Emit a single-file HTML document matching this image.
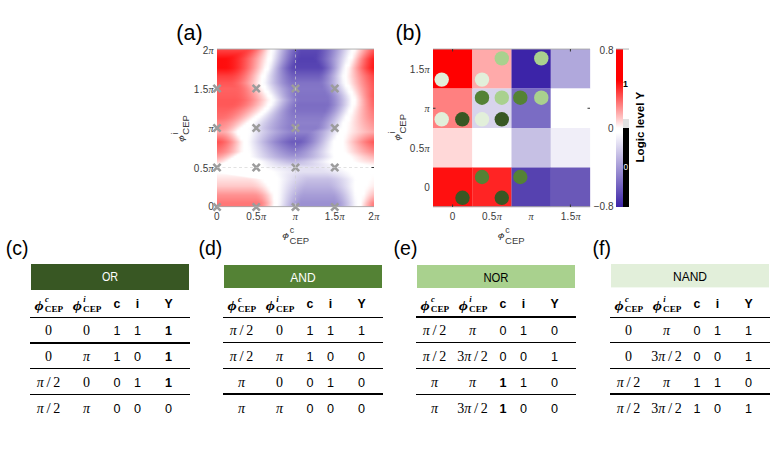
<!DOCTYPE html>
<html><head><meta charset="utf-8"><style>
html,body{margin:0;padding:0;background:#fff;}
body{width:777px;height:473px;position:relative;overflow:hidden;font-family:"Liberation Sans",sans-serif;}
#ha{position:absolute;left:217px;top:49px;width:157px;height:158px;}
#ha i{position:absolute;left:0;width:157px;display:block;}
svg{position:absolute;left:0;top:0;}
</style></head><body>
<div id="ha">
<i style="top:0px;height:1px;background:linear-gradient(90deg,#ff4646 0px,#ff4646 3px,#ff4646 6px,#ff4646 9px,#ff4646 12px,#ff4646 15px,#ff4646 18px,#ff4646 21px,#ff4646 24px,#ff4646 27px,#ff4646 30px,#ff4b4b 33px,#ff5757 36px,#ff6969 39px,#ff8383 42px,#ffa1a1 45px,#ffc3c3 48px,#ffe7e7 51px,#ffffff 54px,#f7f6fb 57px,#e0ddf1 60px,#cbc5e7 63px,#b6addd 66px,#a297d4 69px,#9083cc 72px,#7f71c5 75px,#7161be 78px,#6554b9 81px,#5b49b4 84px,#5b49b4 87px,#5b49b4 90px,#5b49b4 93px,#5b49b4 96px,#5b49b4 99px,#5e4cb6 102px,#6756ba 105px,#7161be 108px,#7d6ec4 111px,#8a7dc9 114px,#988cd0 117px,#a89ed7 120px,#b8b0df 123px,#c9c3e6 126px,#dbd7ef 129px,#eeecf7 132px,#ffffff 135px,#fffdfd 138px,#ffe0e0 141px,#ffc4c4 144px,#ffa8a8 147px,#ff8e8e 150px,#ff7676 153px,#ff6161 156px)"></i>
<i style="top:1px;height:1px;background:linear-gradient(90deg,#ff4040 0px,#ff4040 3px,#ff4040 6px,#ff4040 9px,#ff4040 12px,#ff4040 15px,#ff4040 18px,#ff4040 21px,#ff4040 24px,#ff4040 27px,#ff4343 30px,#ff4c4c 33px,#ff5b5b 36px,#ff7070 39px,#ff8a8a 42px,#ffa8a8 45px,#ffc8c8 48px,#ffebeb 51px,#ffffff 54px,#f5f4fb 57px,#dfdbf0 60px,#c9c3e6 63px,#b4abdd 66px,#a095d4 69px,#8e81cb 72px,#7e6fc4 75px,#6f5fbd 78px,#6352b8 81px,#5a48b4 84px,#5a48b4 87px,#5a48b4 90px,#5a48b4 93px,#5a48b4 96px,#5a48b4 99px,#5e4cb6 102px,#6756ba 105px,#7262be 108px,#7d6fc4 111px,#8b7eca 114px,#998ed1 117px,#a99fd8 120px,#bab2df 123px,#cbc5e7 126px,#ddd9f0 129px,#f0eef8 132px,#ffffff 135px,#fffafa 138px,#ffdcdc 141px,#ffbfbf 144px,#ffa3a3 147px,#ff8989 150px,#ff7070 153px,#ff5b5b 156px)"></i>
<i style="top:2px;height:1px;background:linear-gradient(90deg,#ff3a3a 0px,#ff3a3a 3px,#ff3a3a 6px,#ff3a3a 9px,#ff3a3a 12px,#ff3a3a 15px,#ff3a3a 18px,#ff3a3a 21px,#ff3a3a 24px,#ff3c3c 27px,#ff4343 30px,#ff4f4f 33px,#ff6161 36px,#ff7777 39px,#ff9191 42px,#ffaeae 45px,#ffcdcd 48px,#ffeeee 51px,#ffffff 54px,#f4f2fa 57px,#ddd9f0 60px,#c7c1e5 63px,#b2a9dc 66px,#9e93d3 69px,#8c7fcb 72px,#7c6dc3 75px,#6e5dbd 78px,#6250b7 81px,#5a47b4 84px,#5a47b4 87px,#5a47b4 90px,#5a47b4 93px,#5a47b4 96px,#5a47b4 99px,#5e4cb6 102px,#6856ba 105px,#7262bf 108px,#7e70c4 111px,#8c7fca 114px,#9b8fd1 117px,#aaa1d8 120px,#bbb4e0 123px,#cdc7e8 126px,#dfdcf0 129px,#f2f0f9 132px,#ffffff 135px,#fff6f6 138px,#ffd8d8 141px,#ffbaba 144px,#ff9d9d 147px,#ff8383 150px,#ff6a6a 153px,#ff5454 156px)"></i>
<i style="top:3px;height:1px;background:linear-gradient(90deg,#ff3434 0px,#ff3434 3px,#ff3434 6px,#ff3434 9px,#ff3434 12px,#ff3434 15px,#ff3434 18px,#ff3434 21px,#ff3535 24px,#ff3a3a 27px,#ff4545 30px,#ff5353 33px,#ff6666 36px,#ff7d7d 39px,#ff9797 42px,#ffb3b3 45px,#ffd2d2 48px,#fff1f1 51px,#ffffff 54px,#f2f1f9 57px,#dbd7ef 60px,#c5bfe5 63px,#b0a7db 66px,#9d91d2 69px,#8a7dca 72px,#7a6bc2 75px,#6c5cbc 78px,#604eb7 81px,#5946b3 84px,#5946b3 87px,#5946b3 90px,#5946b3 93px,#5946b3 96px,#5946b3 99px,#5f4cb6 102px,#6857ba 105px,#7363bf 108px,#7f71c5 111px,#8d80cb 114px,#9c91d2 117px,#aca3d9 120px,#bdb5e1 123px,#cfc9e9 126px,#e1def1 129px,#f4f3fa 132px,#ffffff 135px,#fff2f2 138px,#ffd3d3 141px,#ffb5b5 144px,#ff9898 147px,#ff7d7d 150px,#ff6464 153px,#ff4e4e 156px)"></i>
<i style="top:4px;height:1px;background:linear-gradient(90deg,#ff2e2e 0px,#ff2e2e 3px,#ff2e2e 6px,#ff2e2e 9px,#ff2e2e 12px,#ff2e2e 15px,#ff2e2e 18px,#ff2e2e 21px,#ff3232 24px,#ff3b3b 27px,#ff4747 30px,#ff5858 33px,#ff6c6c 36px,#ff8383 39px,#ff9d9d 42px,#ffb8b8 45px,#ffd6d6 48px,#fff4f4 51px,#ffffff 54px,#f0eff8 57px,#dad5ee 60px,#c4bde4 63px,#aea5da 66px,#9b8fd1 69px,#897bc9 72px,#7869c2 75px,#6a5abb 78px,#5f4db6 81px,#5845b3 84px,#5845b3 87px,#5845b3 90px,#5845b3 93px,#5845b3 96px,#5845b3 99px,#5f4db6 102px,#6857ba 105px,#7364bf 108px,#8072c5 111px,#8e81cb 114px,#9d92d2 117px,#ada4da 120px,#bfb7e2 123px,#d1cbea 126px,#e3e0f2 129px,#f6f5fb 132px,#ffffff 135px,#ffeeee 138px,#ffcece 141px,#ffafaf 144px,#ff9292 147px,#ff7676 150px,#ff5d5d 153px,#ff4747 156px)"></i>
<i style="top:5px;height:1px;background:linear-gradient(90deg,#ff2828 0px,#ff2828 3px,#ff2828 6px,#ff2828 9px,#ff2828 12px,#ff2828 15px,#ff2828 18px,#ff2b2b 21px,#ff3232 24px,#ff3d3d 27px,#ff4b4b 30px,#ff5d5d 33px,#ff7171 36px,#ff8888 39px,#ffa2a2 42px,#ffbdbd 45px,#ffd9d9 48px,#fff6f6 51px,#ffffff 54px,#efedf8 57px,#d8d4ed 60px,#c2bbe3 63px,#ada3d9 66px,#998dd0 69px,#8779c8 72px,#7767c1 75px,#6958ba 78px,#5d4bb5 81px,#5744b2 84px,#5744b2 87px,#5744b2 90px,#5744b2 93px,#5744b2 96px,#5744b2 99px,#5f4db6 102px,#6958ba 105px,#7464c0 108px,#8173c5 111px,#8f82cc 114px,#9e94d3 117px,#afa6da 120px,#c0b9e2 123px,#d3ceeb 126px,#e5e2f3 129px,#f8f7fc 132px,#ffffff 135px,#ffeaea 138px,#ffc9c9 141px,#ffaaaa 144px,#ff8c8c 147px,#ff7070 150px,#ff5757 153px,#ff4141 156px)"></i>
<i style="top:6px;height:1px;background:linear-gradient(90deg,#ff2222 0px,#ff2222 3px,#ff2222 6px,#ff2222 9px,#ff2222 12px,#ff2222 15px,#ff2424 18px,#ff2a2a 21px,#ff3333 24px,#ff3f3f 27px,#ff4f4f 30px,#ff6161 33px,#ff7676 36px,#ff8d8d 39px,#ffa6a6 42px,#ffc1c1 45px,#ffdcdc 48px,#fff8f8 51px,#ffffff 54px,#edebf7 57px,#d6d2ec 60px,#c0b9e2 63px,#aba1d9 66px,#978bd0 69px,#8577c7 72px,#7566c0 75px,#6756ba 78px,#5c49b4 81px,#5643b2 84px,#5643b2 87px,#5643b2 90px,#5643b2 93px,#5643b2 96px,#5744b2 99px,#5f4db6 102px,#6958bb 105px,#7565c0 108px,#8274c6 111px,#9084cc 114px,#a095d4 117px,#b1a8db 120px,#c2bbe3 123px,#d4d0ec 126px,#e7e5f4 129px,#fafafd 132px,#ffffff 135px,#ffe5e5 138px,#ffc4c4 141px,#ffa4a4 144px,#ff8585 147px,#ff6969 150px,#ff5050 153px,#ff3a3a 156px)"></i>
<i style="top:7px;height:1px;background:linear-gradient(90deg,#ff1c1c 0px,#ff1c1c 3px,#ff1c1c 6px,#ff1c1c 9px,#ff1c1c 12px,#ff1d1d 15px,#ff2222 18px,#ff2a2a 21px,#ff3535 24px,#ff4242 27px,#ff5353 30px,#ff6666 33px,#ff7b7b 36px,#ff9292 39px,#ffabab 42px,#ffc5c5 45px,#ffdfdf 48px,#fffafa 51px,#ffffff 54px,#ece9f6 57px,#d5d0ec 60px,#beb7e1 63px,#a99fd8 66px,#9589cf 69px,#8375c7 72px,#7364bf 75px,#6654b9 78px,#5a47b4 81px,#5542b2 84px,#5542b2 87px,#5542b2 90px,#5542b2 93px,#5542b2 96px,#5744b2 99px,#5f4db6 102px,#6a59bb 105px,#7566c0 108px,#8375c6 111px,#9185cd 114px,#a197d4 117px,#b2a9dc 120px,#c4bde4 123px,#d6d2ec 126px,#e9e7f5 129px,#fdfcfe 132px,#ffffff 135px,#ffe1e1 138px,#ffbfbf 141px,#ff9e9e 144px,#ff7f7f 147px,#ff6363 150px,#ff4949 153px,#ff3333 156px)"></i>
<i style="top:8px;height:1px;background:linear-gradient(90deg,#ff1616 0px,#ff1616 3px,#ff1616 6px,#ff1616 9px,#ff1717 12px,#ff1a1a 15px,#ff2121 18px,#ff2b2b 21px,#ff3737 24px,#ff4646 27px,#ff5757 30px,#ff6a6a 33px,#ff8080 36px,#ff9696 39px,#ffafaf 42px,#ffc8c8 45px,#ffe2e2 48px,#fffcfc 51px,#ffffff 54px,#eae8f5 57px,#d3ceeb 60px,#bcb5e1 63px,#a79dd7 66px,#9487ce 69px,#8273c6 72px,#7262be 75px,#6452b8 78px,#5946b3 81px,#5441b1 84px,#5441b1 87px,#5441b1 90px,#5441b1 93px,#5441b1 96px,#5744b2 99px,#604eb6 102px,#6a59bb 105px,#7667c1 108px,#8476c7 111px,#9386ce 114px,#a398d5 117px,#b4abdd 120px,#c6bfe5 123px,#d8d4ed 126px,#ece9f6 129px,#ffffff 132px,#ffffff 135px,#ffdcdc 138px,#ffb9b9 141px,#ff9898 144px,#ff7878 147px,#ff5c5c 150px,#ff4242 153px,#ff2d2d 156px)"></i>
<i style="top:9px;height:1px;background:linear-gradient(90deg,#ff1010 0px,#ff1010 3px,#ff1010 6px,#ff1010 9px,#ff1313 12px,#ff1919 15px,#ff2121 18px,#ff2c2c 21px,#ff3a3a 24px,#ff4949 27px,#ff5b5b 30px,#ff6f6f 33px,#ff8484 36px,#ff9b9b 39px,#ffb2b2 42px,#ffcbcb 45px,#ffe4e4 48px,#fffefe 51px,#ffffff 54px,#e8e6f5 57px,#d1ccea 60px,#bbb3e0 63px,#a59bd6 66px,#9285cd 69px,#8071c5 72px,#7060be 75px,#6251b7 78px,#5744b2 81px,#5340b1 84px,#5340b1 87px,#5340b1 90px,#5340b1 93px,#5340b1 96px,#5744b2 99px,#604eb6 102px,#6b5abb 105px,#7768c1 108px,#8577c7 111px,#9488ce 114px,#a49ad6 117px,#b5addd 120px,#c8c1e6 123px,#dad6ee 126px,#eeecf7 129px,#ffffff 132px,#fffbfb 135px,#ffd7d7 138px,#ffb3b3 141px,#ff9191 144px,#ff7272 147px,#ff5555 150px,#ff3b3b 153px,#ff2626 156px)"></i>
<i style="top:10px;height:1px;background:linear-gradient(90deg,#ff0d0d 0px,#ff0d0d 3px,#ff0d0d 6px,#ff0e0e 9px,#ff1212 12px,#ff1919 15px,#ff2222 18px,#ff2d2d 21px,#ff3b3b 24px,#ff4b4b 27px,#ff5d5d 30px,#ff7171 33px,#ff8686 36px,#ff9d9d 39px,#ffb5b5 42px,#ffcece 45px,#ffe7e7 48px,#ffffff 51px,#fefefe 54px,#e6e3f4 57px,#cfc9e9 60px,#b8b1df 63px,#a399d5 66px,#9083cc 69px,#7e6fc4 72px,#6e5ebd 75px,#614fb7 78px,#5642b2 81px,#5340b1 84px,#5340b1 87px,#5340b1 90px,#5340b1 93px,#5340b1 96px,#5643b2 99px,#604eb6 102px,#6a5abb 105px,#7768c1 108px,#8577c7 111px,#9488ce 114px,#a59bd6 117px,#b7aede 120px,#c9c3e6 123px,#dcd8ef 126px,#f0eef8 129px,#ffffff 132px,#fff6f6 135px,#ffd2d2 138px,#ffaeae 141px,#ff8d8d 144px,#ff6d6d 147px,#ff5050 150px,#ff3737 153px,#ff2222 156px)"></i>
<i style="top:11px;height:1px;background:linear-gradient(90deg,#ff0d0d 0px,#ff0d0d 3px,#ff0d0d 6px,#ff0e0e 9px,#ff1212 12px,#ff1919 15px,#ff2222 18px,#ff2e2e 21px,#ff3c3c 24px,#ff4c4c 27px,#ff5e5e 30px,#ff7272 33px,#ff8888 36px,#ff9f9f 39px,#ffb7b7 42px,#ffd0d0 45px,#ffe9e9 48px,#ffffff 51px,#fcfbfd 54px,#e4e1f3 57px,#ccc7e8 60px,#b6aede 63px,#a196d4 66px,#8d80cb 69px,#7b6dc3 72px,#6c5bbc 75px,#5f4db6 78px,#5441b1 81px,#5441b1 84px,#5441b1 87px,#5441b1 90px,#5441b1 93px,#5441b1 96px,#5542b1 99px,#5e4cb6 102px,#6958bb 105px,#7666c0 108px,#8476c7 111px,#9487ce 114px,#a59ad6 117px,#b7afde 120px,#cac4e7 123px,#dedaf0 126px,#f2f1f9 129px,#ffffff 132px,#fff2f2 135px,#ffcece 138px,#ffabab 141px,#ff8989 144px,#ff6a6a 147px,#ff4e4e 150px,#ff3636 153px,#ff2121 156px)"></i>
<i style="top:12px;height:1px;background:linear-gradient(90deg,#ff0d0d 0px,#ff0d0d 3px,#ff0d0d 6px,#ff0e0e 9px,#ff1212 12px,#ff1919 15px,#ff2222 18px,#ff2e2e 21px,#ff3c3c 24px,#ff4c4c 27px,#ff5f5f 30px,#ff7373 33px,#ff8989 36px,#ffa0a0 39px,#ffb8b8 42px,#ffd2d2 45px,#ffebeb 48px,#ffffff 51px,#f9f9fc 54px,#e1def1 57px,#cac4e7 60px,#b3abdc 63px,#9e93d3 66px,#8b7dca 69px,#796ac2 72px,#6a59bb 75px,#5d4bb5 78px,#5441b1 81px,#5441b1 84px,#5441b1 87px,#5441b1 90px,#5441b1 93px,#5441b1 96px,#5441b1 99px,#5d4ab5 102px,#6756ba 105px,#7465c0 108px,#8375c6 111px,#9387ce 114px,#a49ad6 117px,#b7afde 120px,#cbc5e7 123px,#dfdcf1 126px,#f4f3fa 129px,#ffffff 132px,#ffeded 135px,#ffcaca 138px,#ffa7a7 141px,#ff8686 144px,#ff6868 147px,#ff4c4c 150px,#ff3434 153px,#ff2020 156px)"></i>
<i style="top:13px;height:1px;background:linear-gradient(90deg,#ff0d0d 0px,#ff0d0d 3px,#ff0d0d 6px,#ff0e0e 9px,#ff1212 12px,#ff1919 15px,#ff2222 18px,#ff2e2e 21px,#ff3c3c 24px,#ff4d4d 27px,#ff6060 30px,#ff7474 33px,#ff8a8a 36px,#ffa2a2 39px,#ffbaba 42px,#ffd4d4 45px,#ffeded 48px,#ffffff 51px,#f7f6fb 54px,#dfdbf0 57px,#c7c1e6 60px,#b1a8db 63px,#9b90d2 66px,#887bc9 69px,#7767c1 72px,#6857ba 75px,#5b49b4 78px,#5542b1 81px,#5542b1 84px,#5542b1 87px,#5542b1 90px,#5542b1 93px,#5542b1 96px,#5542b1 99px,#5b49b4 102px,#6655b9 105px,#7363bf 108px,#8273c6 111px,#9286cd 114px,#a49ad6 117px,#b8afde 120px,#ccc6e8 123px,#e1def1 126px,#f7f6fb 129px,#ffffff 132px,#ffe9e9 135px,#ffc6c6 138px,#ffa4a4 141px,#ff8383 144px,#ff6565 147px,#ff4a4a 150px,#ff3333 153px,#ff1f1f 156px)"></i>
<i style="top:14px;height:1px;background:linear-gradient(90deg,#ff0d0d 0px,#ff0d0d 3px,#ff0d0d 6px,#ff0e0e 9px,#ff1212 12px,#ff1919 15px,#ff2222 18px,#ff2e2e 21px,#ff3d3d 24px,#ff4e4e 27px,#ff6161 30px,#ff7575 33px,#ff8c8c 36px,#ffa3a3 39px,#ffbcbc 42px,#ffd6d6 45px,#fff0f0 48px,#ffffff 51px,#f5f4fa 54px,#dcd8ef 57px,#c5bee4 60px,#aea5da 63px,#998dd0 66px,#8678c8 69px,#7565c0 72px,#6655b9 75px,#5a47b4 78px,#5643b2 81px,#5643b2 84px,#5643b2 87px,#5643b2 90px,#5643b2 93px,#5643b2 96px,#5643b2 99px,#5947b3 102px,#6453b8 105px,#7161be 108px,#8072c5 111px,#9185cd 114px,#a49ad5 117px,#b8b0df 120px,#cdc7e8 123px,#e3e0f2 126px,#f9f9fc 129px,#ffffff 132px,#ffe5e5 135px,#ffc2c2 138px,#ffa0a0 141px,#ff8080 144px,#ff6363 147px,#ff4949 150px,#ff3131 153px,#ff1e1e 156px)"></i>
<i style="top:15px;height:1px;background:linear-gradient(90deg,#ff0d0d 0px,#ff0d0d 3px,#ff0d0d 6px,#ff0e0e 9px,#ff1212 12px,#ff1919 15px,#ff2222 18px,#ff2f2f 21px,#ff3d3d 24px,#ff4e4e 27px,#ff6161 30px,#ff7676 33px,#ff8d8d 36px,#ffa5a5 39px,#ffbebe 42px,#ffd8d8 45px,#fff2f2 48px,#ffffff 51px,#f2f1f9 54px,#dad6ee 57px,#c2bbe3 60px,#aba2d9 63px,#968acf 66px,#8375c6 69px,#7262bf 72px,#6452b8 75px,#5846b3 78px,#5643b2 81px,#5643b2 84px,#5643b2 87px,#5643b2 90px,#5643b2 93px,#5643b2 96px,#5643b2 99px,#5845b3 102px,#6351b8 105px,#705fbe 108px,#7f70c5 111px,#9084cc 114px,#a399d5 117px,#b8b0df 120px,#cec9e9 123px,#e5e2f3 126px,#fcfcfe 129px,#ffffff 132px,#ffe0e0 135px,#ffbebe 138px,#ff9d9d 141px,#ff7e7e 144px,#ff6161 147px,#ff4747 150px,#ff3030 153px,#ff1d1d 156px)"></i>
<i style="top:16px;height:1px;background:linear-gradient(90deg,#ff0d0d 0px,#ff0d0d 3px,#ff0d0d 6px,#ff0e0e 9px,#ff1212 12px,#ff1919 15px,#ff2222 18px,#ff2f2f 21px,#ff3e3e 24px,#ff4f4f 27px,#ff6262 30px,#ff7777 33px,#ff8e8e 36px,#ffa7a7 39px,#ffc0c0 42px,#ffdada 45px,#fff4f4 48px,#ffffff 51px,#f0eef8 54px,#d7d3ed 57px,#bfb8e2 60px,#a89fd8 63px,#9387ce 66px,#8172c5 69px,#7060be 72px,#6250b7 75px,#5744b2 78px,#5744b2 81px,#5744b2 84px,#5744b2 87px,#5744b2 90px,#5744b2 93px,#5744b2 96px,#5744b2 99px,#5744b2 102px,#614fb7 105px,#6e5ebd 108px,#7d6fc4 111px,#8f83cc 114px,#a399d5 117px,#b9b1df 120px,#cfcae9 123px,#e7e4f4 126px,#ffffff 129px,#ffffff 132px,#ffdcdc 135px,#ffbaba 138px,#ff9a9a 141px,#ff7b7b 144px,#ff5e5e 147px,#ff4545 150px,#ff2f2f 153px,#ff1c1c 156px)"></i>
<i style="top:17px;height:1px;background:linear-gradient(90deg,#ff0d0d 0px,#ff0d0d 3px,#ff0d0d 6px,#ff0e0e 9px,#ff1212 12px,#ff1919 15px,#ff2323 18px,#ff2f2f 21px,#ff3e3e 24px,#ff5050 27px,#ff6363 30px,#ff7979 33px,#ff9090 36px,#ffa8a8 39px,#ffc2c2 42px,#ffdcdc 45px,#fff7f7 48px,#ffffff 51px,#edebf7 54px,#d4d0ec 57px,#bcb5e1 60px,#a69cd6 63px,#9184cd 66px,#7e70c4 69px,#6e5dbd 72px,#604eb7 75px,#5744b3 78px,#5744b3 81px,#5744b3 84px,#5744b3 87px,#5744b3 90px,#5744b3 93px,#5744b3 96px,#5744b3 99px,#5744b3 102px,#5f4db6 105px,#6c5bbc 108px,#7c6dc3 111px,#8e81cb 114px,#a398d5 117px,#b9b1df 120px,#d1cbea 123px,#e9e7f5 126px,#ffffff 129px,#fffafa 132px,#ffd8d8 135px,#ffb7b7 138px,#ff9696 141px,#ff7878 144px,#ff5c5c 147px,#ff4343 150px,#ff2d2d 153px,#ff1b1b 156px)"></i>
<i style="top:18px;height:1px;background:linear-gradient(90deg,#ff0d0d 0px,#ff0d0d 3px,#ff0d0d 6px,#ff0e0e 9px,#ff1212 12px,#ff1919 15px,#ff2323 18px,#ff2f2f 21px,#ff3f3f 24px,#ff5050 27px,#ff6464 30px,#ff7a7a 33px,#ff9191 36px,#ffaaaa 39px,#ffc4c4 42px,#ffdede 45px,#fff9f9 48px,#ffffff 51px,#ebe9f6 54px,#d2cdea 57px,#bab2df 60px,#a399d5 63px,#8e81cb 66px,#7c6dc3 69px,#6c5bbc 72px,#5f4cb6 75px,#5845b3 78px,#5845b3 81px,#5845b3 84px,#5845b3 87px,#5845b3 90px,#5845b3 93px,#5845b3 96px,#5845b3 99px,#5845b3 102px,#5d4bb5 105px,#6a59bb 108px,#7a6bc2 111px,#8d80cb 114px,#a298d5 117px,#b9b1df 120px,#d2cdeb 123px,#eceaf6 126px,#ffffff 129px,#fff6f6 132px,#ffd4d4 135px,#ffb3b3 138px,#ff9393 141px,#ff7676 144px,#ff5a5a 147px,#ff4242 150px,#ff2c2c 153px,#ff1a1a 156px)"></i>
<i style="top:19px;height:1px;background:linear-gradient(90deg,#ff1010 0px,#ff1010 3px,#ff1010 6px,#ff1111 9px,#ff1414 12px,#ff1b1b 15px,#ff2525 18px,#ff3232 21px,#ff4141 24px,#ff5252 27px,#ff6666 30px,#ff7c7c 33px,#ff9494 36px,#ffadad 39px,#ffc7c7 42px,#ffe1e1 45px,#fffcfc 48px,#ffffff 51px,#e8e6f5 54px,#cfcae9 57px,#b8b0de 60px,#a197d4 63px,#8d80cb 66px,#7b6cc3 69px,#6c5bbc 72px,#5f4db6 75px,#5a47b4 78px,#5a47b4 81px,#5a47b4 84px,#5a47b4 87px,#5a47b4 90px,#5a47b4 93px,#5a47b4 96px,#5a47b4 99px,#5a47b4 102px,#5e4bb5 105px,#6b5abb 108px,#7b6cc3 111px,#8e81cb 114px,#a399d5 117px,#bbb3e0 120px,#d4cfeb 123px,#eeecf7 126px,#ffffff 129px,#fff3f3 132px,#ffd2d2 135px,#ffb2b2 138px,#ff9393 141px,#ff7676 144px,#ff5b5b 147px,#ff4343 150px,#ff2e2e 153px,#ff1d1d 156px)"></i>
<i style="top:20px;height:1px;background:linear-gradient(90deg,#ff1616 0px,#ff1616 3px,#ff1616 6px,#ff1616 9px,#ff1a1a 12px,#ff2020 15px,#ff2929 18px,#ff3636 21px,#ff4545 24px,#ff5656 27px,#ff6a6a 30px,#ff8080 33px,#ff9898 36px,#ffb1b1 39px,#ffcbcb 42px,#ffe5e5 45px,#ffffff 48px,#fefefe 51px,#e5e2f3 54px,#cdc8e8 57px,#b7aede 60px,#a197d4 63px,#8e81cb 66px,#7c6ec3 69px,#6e5dbd 72px,#6150b7 75px,#5d4ab5 78px,#5d4ab5 81px,#5d4ab5 84px,#5d4ab5 87px,#5d4ab5 90px,#5d4ab5 93px,#5d4ab5 96px,#5d4ab5 99px,#5d4ab5 102px,#614fb7 105px,#6e5ebd 108px,#7e70c4 111px,#9185cd 114px,#a69cd7 117px,#beb6e1 120px,#d6d2ec 123px,#f0eef8 126px,#ffffff 129px,#fff1f1 132px,#ffd2d2 135px,#ffb3b3 138px,#ff9595 141px,#ff7979 144px,#ff6060 147px,#ff4848 150px,#ff3434 153px,#ff2323 156px)"></i>
<i style="top:21px;height:1px;background:linear-gradient(90deg,#ff1c1c 0px,#ff1c1c 3px,#ff1c1c 6px,#ff1c1c 9px,#ff1f1f 12px,#ff2525 15px,#ff2e2e 18px,#ff3a3a 21px,#ff4949 24px,#ff5a5a 27px,#ff6e6e 30px,#ff8484 33px,#ff9b9b 36px,#ffb4b4 39px,#ffcfcf 42px,#ffe9e9 45px,#ffffff 48px,#fafafd 51px,#e3e0f2 54px,#ccc6e8 57px,#b6adde 60px,#a197d4 63px,#8e82cc 66px,#7e6fc4 69px,#705fbe 72px,#6452b8 75px,#5f4db6 78px,#5f4db6 81px,#5f4db6 84px,#5f4db6 87px,#5f4db6 90px,#5f4db6 93px,#5f4db6 96px,#5f4db6 99px,#5f4db6 102px,#6553b9 105px,#7262be 108px,#8273c6 111px,#9488ce 114px,#a9a0d8 117px,#c0b9e2 120px,#d9d4ed 123px,#f2f0f9 126px,#ffffff 129px,#fff0f0 132px,#ffd2d2 135px,#ffb4b4 138px,#ff9797 141px,#ff7d7d 144px,#ff6464 147px,#ff4d4d 150px,#ff3939 153px,#ff2828 156px)"></i>
<i style="top:22px;height:1px;background:linear-gradient(90deg,#ff2222 0px,#ff2222 3px,#ff2222 6px,#ff2222 9px,#ff2424 12px,#ff2a2a 15px,#ff3232 18px,#ff3e3e 21px,#ff4d4d 24px,#ff5e5e 27px,#ff7272 30px,#ff8888 33px,#ff9f9f 36px,#ffb8b8 39px,#ffd2d2 42px,#ffeded 45px,#ffffff 48px,#f7f6fb 51px,#e0ddf1 54px,#cac4e7 57px,#b5addd 60px,#a197d4 63px,#8f83cc 66px,#7f71c5 69px,#7262be 72px,#6655b9 75px,#6251b7 78px,#6251b7 81px,#6251b7 84px,#6251b7 87px,#6251b7 90px,#6251b7 93px,#6251b7 96px,#6251b7 99px,#6251b7 102px,#6857ba 105px,#7566c0 108px,#8577c7 111px,#978cd0 114px,#aca3d9 117px,#c3bce4 120px,#dbd7ee 123px,#f4f2fa 126px,#ffffff 129px,#ffefef 132px,#ffd2d2 135px,#ffb5b5 138px,#ff9a9a 141px,#ff8080 144px,#ff6868 147px,#ff5252 150px,#ff3f3f 153px,#ff2e2e 156px)"></i>
<i style="top:23px;height:1px;background:linear-gradient(90deg,#ff2828 0px,#ff2828 3px,#ff2828 6px,#ff2828 9px,#ff2a2a 12px,#ff2f2f 15px,#ff3737 18px,#ff4242 21px,#ff5151 24px,#ff6262 27px,#ff7676 30px,#ff8c8c 33px,#ffa3a3 36px,#ffbcbc 39px,#ffd6d6 42px,#fff1f1 45px,#ffffff 48px,#f4f3fa 51px,#dedaf0 54px,#c9c3e6 57px,#b4acdd 60px,#a197d4 63px,#9084cc 66px,#8173c5 69px,#7464bf 72px,#6958ba 75px,#6554b9 78px,#6554b9 81px,#6554b9 84px,#6554b9 87px,#6554b9 90px,#6554b9 93px,#6554b9 96px,#6554b9 99px,#6554b9 102px,#6c5bbc 105px,#7869c2 108px,#887bc9 111px,#9a8fd1 114px,#afa6da 117px,#c5bfe5 120px,#ddd9ef 123px,#f5f4fb 126px,#ffffff 129px,#ffeeee 132px,#ffd2d2 135px,#ffb6b6 138px,#ff9c9c 141px,#ff8383 144px,#ff6c6c 147px,#ff5757 150px,#ff4444 153px,#ff3434 156px)"></i>
<i style="top:24px;height:1px;background:linear-gradient(90deg,#ff2e2e 0px,#ff2e2e 3px,#ff2e2e 6px,#ff2e2e 9px,#ff2f2f 12px,#ff3434 15px,#ff3c3c 18px,#ff4747 21px,#ff5555 24px,#ff6666 27px,#ff7a7a 30px,#ff8f8f 33px,#ffa7a7 36px,#ffc0c0 39px,#ffdada 42px,#fff5f5 45px,#ffffff 48px,#f1f0f9 51px,#dcd8ef 54px,#c7c1e6 57px,#b4abdd 60px,#a297d4 63px,#9185cd 66px,#8274c6 69px,#7666c0 72px,#6b5bbc 75px,#6857ba 78px,#6857ba 81px,#6857ba 84px,#6857ba 87px,#6857ba 90px,#6857ba 93px,#6857ba 96px,#6857ba 99px,#6857ba 102px,#6f5fbd 105px,#7c6dc3 108px,#8b7eca 111px,#9e93d3 114px,#b2a9dc 117px,#c8c2e6 120px,#dfdcf0 123px,#f7f6fb 126px,#ffffff 129px,#ffeded 132px,#ffd2d2 135px,#ffb7b7 138px,#ff9e9e 141px,#ff8686 144px,#ff7070 147px,#ff5c5c 150px,#ff4949 153px,#ff3a3a 156px)"></i>
<i style="top:25px;height:1px;background:linear-gradient(90deg,#ff3434 0px,#ff3434 3px,#ff3434 6px,#ff3434 9px,#ff3535 12px,#ff3939 15px,#ff4040 18px,#ff4b4b 21px,#ff5959 24px,#ff6a6a 27px,#ff7d7d 30px,#ff9393 33px,#ffabab 36px,#ffc4c4 39px,#ffdede 42px,#fff9f9 45px,#ffffff 48px,#efedf8 51px,#dad6ee 54px,#c6c0e5 57px,#b4abdd 60px,#a298d5 63px,#9286cd 66px,#8476c7 69px,#7869c1 72px,#6e5ebd 75px,#6b5abb 78px,#6b5abb 81px,#6b5abb 84px,#6b5abb 87px,#6b5abb 90px,#6b5abb 93px,#6b5abb 96px,#6b5abb 99px,#6b5abb 102px,#7263bf 105px,#7f71c5 108px,#8f82cc 111px,#a196d4 114px,#b5acdd 117px,#cac4e7 120px,#e1def1 123px,#f9f8fc 126px,#ffffff 129px,#ffecec 132px,#ffd2d2 135px,#ffb9b9 138px,#ffa0a0 141px,#ff8989 144px,#ff7474 147px,#ff6060 150px,#ff4f4f 153px,#ff3f3f 156px)"></i>
<i style="top:26px;height:1px;background:linear-gradient(90deg,#ff3a3a 0px,#ff3a3a 3px,#ff3a3a 6px,#ff3a3a 9px,#ff3b3b 12px,#ff3e3e 15px,#ff4545 18px,#ff4f4f 21px,#ff5d5d 24px,#ff6e6e 27px,#ff8181 30px,#ff9797 33px,#ffafaf 36px,#ffc8c8 39px,#ffe2e2 42px,#fffdfd 45px,#ffffff 48px,#eceaf6 51px,#d9d4ed 54px,#c5bfe5 57px,#b3abdc 60px,#a398d5 63px,#9387ce 66px,#8678c8 69px,#7a6bc2 72px,#7060be 75px,#6e5dbd 78px,#6e5dbd 81px,#6e5dbd 84px,#6e5dbd 87px,#6e5dbd 90px,#6e5dbd 93px,#6e5dbd 96px,#6e5dbd 99px,#6e5dbd 102px,#7666c0 105px,#8374c6 108px,#9286cd 111px,#a499d5 114px,#b7afde 117px,#cdc7e8 120px,#e3e0f2 123px,#fafafd 126px,#ffffff 129px,#ffebeb 132px,#ffd2d2 135px,#ffbaba 138px,#ffa2a2 141px,#ff8c8c 144px,#ff7878 147px,#ff6565 150px,#ff5454 153px,#ff4545 156px)"></i>
<i style="top:27px;height:1px;background:linear-gradient(90deg,#ff3f3f 0px,#ff3f3f 3px,#ff3f3f 6px,#ff3f3f 9px,#ff3f3f 12px,#ff4242 15px,#ff4949 18px,#ff5353 21px,#ff6161 24px,#ff7171 27px,#ff8585 30px,#ff9a9a 33px,#ffb2b2 36px,#ffcbcb 39px,#ffe5e5 42px,#ffffff 45px,#fefeff 48px,#ebe8f6 51px,#d7d3ed 54px,#c5bee4 57px,#b3abdc 60px,#a399d5 63px,#9488ce 66px,#877ac8 69px,#7c6dc3 72px,#7363bf 75px,#7060be 78px,#7060be 81px,#7060be 84px,#7060be 87px,#7060be 90px,#7060be 93px,#7060be 96px,#7060be 99px,#7060be 102px,#7869c2 105px,#8577c7 108px,#9488ce 111px,#a59bd6 114px,#b9b1df 117px,#cec8e9 120px,#e4e1f3 123px,#fbfafd 126px,#ffffff 129px,#ffebeb 132px,#ffd3d3 135px,#ffbbbb 138px,#ffa4a4 141px,#ff8f8f 144px,#ff7a7a 147px,#ff6868 150px,#ff5757 153px,#ff4848 156px)"></i>
<i style="top:28px;height:1px;background:linear-gradient(90deg,#ff4242 0px,#ff4242 3px,#ff4242 6px,#ff4242 9px,#ff4343 12px,#ff4646 15px,#ff4c4c 18px,#ff5656 21px,#ff6464 24px,#ff7474 27px,#ff8787 30px,#ff9d9d 33px,#ffb4b4 36px,#ffcdcd 39px,#ffe7e7 42px,#ffffff 45px,#fdfdfe 48px,#eae7f5 51px,#d7d2ed 54px,#c5bee4 57px,#b3abdd 60px,#a499d5 63px,#9589cf 66px,#887bc9 69px,#7e6fc4 72px,#7565c0 75px,#7363bf 78px,#7363bf 81px,#7363bf 84px,#7363bf 87px,#7363bf 90px,#7363bf 93px,#7363bf 96px,#7363bf 99px,#7363bf 102px,#7a6bc2 105px,#8679c8 108px,#9589cf 111px,#a69cd6 114px,#b9b1df 117px,#cec8e8 120px,#e3e0f2 123px,#faf9fd 126px,#ffffff 129px,#ffecec 132px,#ffd4d4 135px,#ffbdbd 138px,#ffa6a6 141px,#ff9191 144px,#ff7d7d 147px,#ff6a6a 150px,#ff5959 153px,#ff4b4b 156px)"></i>
<i style="top:29px;height:1px;background:linear-gradient(90deg,#ff4646 0px,#ff4646 3px,#ff4646 6px,#ff4646 9px,#ff4646 12px,#ff4949 15px,#ff4f4f 18px,#ff5959 21px,#ff6767 24px,#ff7777 27px,#ff8a8a 30px,#ffa0a0 33px,#ffb7b7 36px,#ffd0d0 39px,#ffeaea 42px,#ffffff 45px,#fcfbfd 48px,#e9e6f5 51px,#d6d2ec 54px,#c4bee4 57px,#b4abdd 60px,#a49ad6 63px,#968acf 66px,#8a7cc9 69px,#7f71c5 72px,#7767c1 75px,#7566c0 78px,#7566c0 81px,#7566c0 84px,#7566c0 87px,#7566c0 90px,#7566c0 93px,#7566c0 96px,#7566c0 99px,#7566c0 102px,#7c6dc3 105px,#887bc9 108px,#968acf 111px,#a79dd7 114px,#b9b1df 117px,#cdc8e8 120px,#e3e0f2 123px,#f9f8fc 126px,#ffffff 129px,#ffeeee 132px,#ffd6d6 135px,#ffbfbf 138px,#ffa8a8 141px,#ff9393 144px,#ff7f7f 147px,#ff6c6c 150px,#ff5b5b 153px,#ff4d4d 156px)"></i>
<i style="top:30px;height:1px;background:linear-gradient(90deg,#ff4949 0px,#ff4949 3px,#ff4949 6px,#ff4949 9px,#ff4949 12px,#ff4c4c 15px,#ff5353 18px,#ff5d5d 21px,#ff6a6a 24px,#ff7a7a 27px,#ff8d8d 30px,#ffa2a2 33px,#ffb9b9 36px,#ffd2d2 39px,#ffecec 42px,#ffffff 45px,#fafafd 48px,#e8e5f4 51px,#d6d1ec 54px,#c4bee4 57px,#b4abdd 60px,#a59bd6 63px,#978bd0 66px,#8b7eca 69px,#8173c5 72px,#7869c2 75px,#7869c1 78px,#7869c1 81px,#7869c1 84px,#7869c1 87px,#7869c1 90px,#7869c1 93px,#7869c1 96px,#7869c1 99px,#7869c1 102px,#7e70c4 105px,#8a7cc9 108px,#978cd0 111px,#a89ed7 114px,#bab2df 117px,#cdc8e8 120px,#e2dff2 123px,#f8f7fc 126px,#ffffff 129px,#ffefef 132px,#ffd7d7 135px,#ffc0c0 138px,#ffaaaa 141px,#ff9494 144px,#ff8181 147px,#ff6e6e 150px,#ff5e5e 153px,#ff4f4f 156px)"></i>
<i style="top:31px;height:1px;background:linear-gradient(90deg,#ff4d4d 0px,#ff4d4d 3px,#ff4d4d 6px,#ff4d4d 9px,#ff4d4d 12px,#ff5050 15px,#ff5656 18px,#ff6060 21px,#ff6d6d 24px,#ff7d7d 27px,#ff9090 30px,#ffa5a5 33px,#ffbcbc 36px,#ffd4d4 39px,#ffeeee 42px,#ffffff 45px,#f9f8fc 48px,#e7e4f4 51px,#d5d1ec 54px,#c4bee4 57px,#b4acdd 60px,#a59bd6 63px,#988dd0 66px,#8c80cb 69px,#8374c6 72px,#7a6cc3 75px,#7a6bc2 78px,#7a6bc2 81px,#7a6bc2 84px,#7a6bc2 87px,#7a6bc2 90px,#7a6bc2 93px,#7a6bc2 96px,#7a6bc2 99px,#7a6bc2 102px,#8072c5 105px,#8b7eca 108px,#998dd0 111px,#a89fd7 114px,#bab2e0 117px,#cdc8e8 120px,#e2def2 123px,#f7f6fb 126px,#ffffff 129px,#fff0f0 132px,#ffd9d9 135px,#ffc2c2 138px,#ffacac 141px,#ff9696 144px,#ff8383 147px,#ff7070 150px,#ff6060 153px,#ff5151 156px)"></i>
<i style="top:32px;height:1px;background:linear-gradient(90deg,#ff5050 0px,#ff5050 3px,#ff5050 6px,#ff5050 9px,#ff5050 12px,#ff5353 15px,#ff5959 18px,#ff6363 21px,#ff7070 24px,#ff8080 27px,#ff9393 30px,#ffa8a8 33px,#ffbebe 36px,#ffd7d7 39px,#fff0f0 42px,#ffffff 45px,#f8f7fc 48px,#e6e3f4 51px,#d5d0ec 54px,#c4bee4 57px,#b5acdd 60px,#a69cd6 63px,#998ed1 66px,#8e81cb 69px,#8476c7 72px,#7d6ec4 75px,#7d6ec4 78px,#7d6ec4 81px,#7d6ec4 84px,#7d6ec4 87px,#7d6ec4 90px,#7d6ec4 93px,#7d6ec4 96px,#7d6ec4 99px,#7d6ec4 102px,#8274c6 105px,#8d80cb 108px,#9a8fd1 111px,#a9a0d8 114px,#bbb3e0 117px,#cdc8e8 120px,#e1def1 123px,#f6f5fb 126px,#ffffff 129px,#fff2f2 132px,#ffdada 135px,#ffc3c3 138px,#ffadad 141px,#ff9898 144px,#ff8585 147px,#ff7272 150px,#ff6262 153px,#ff5353 156px)"></i>
<i style="top:33px;height:1px;background:linear-gradient(90deg,#ff5454 0px,#ff5454 3px,#ff5454 6px,#ff5454 9px,#ff5454 12px,#ff5656 15px,#ff5c5c 18px,#ff6666 21px,#ff7373 24px,#ff8383 27px,#ff9595 30px,#ffaaaa 33px,#ffc1c1 36px,#ffd9d9 39px,#fff2f2 42px,#ffffff 45px,#f7f6fb 48px,#e5e3f3 51px,#d4d0ec 54px,#c4bee4 57px,#b5addd 60px,#a79dd7 63px,#9a8fd1 66px,#8f83cc 69px,#8678c8 72px,#7f71c5 75px,#7f71c5 78px,#7f71c5 81px,#7f71c5 84px,#7f71c5 87px,#7f71c5 90px,#7f71c5 93px,#7f71c5 96px,#7f71c5 99px,#7f71c5 102px,#8476c7 105px,#8e82cc 108px,#9b90d1 111px,#aaa1d8 114px,#bbb3e0 117px,#cdc8e8 120px,#e1def1 123px,#f5f4fb 126px,#ffffff 129px,#fff3f3 132px,#ffdcdc 135px,#ffc5c5 138px,#ffafaf 141px,#ff9a9a 144px,#ff8787 147px,#ff7474 150px,#ff6464 153px,#ff5555 156px)"></i>
<i style="top:34px;height:1px;background:linear-gradient(90deg,#ff5656 0px,#ff5656 3px,#ff5656 6px,#ff5656 9px,#ff5656 12px,#ff5858 15px,#ff5e5e 18px,#ff6767 21px,#ff7373 24px,#ff8383 27px,#ff9595 30px,#ffaaaa 33px,#ffc0c0 36px,#ffd8d8 39px,#fff1f1 42px,#ffffff 45px,#f8f7fc 48px,#e6e4f4 51px,#d6d1ec 54px,#c6bfe5 57px,#b7afde 60px,#a99fd8 63px,#9c91d2 66px,#9185cd 69px,#887bc9 72px,#8173c5 75px,#8173c5 78px,#8173c5 81px,#8173c5 84px,#8173c5 87px,#8173c5 90px,#8173c5 93px,#8173c5 96px,#8173c5 99px,#8173c5 102px,#8477c7 105px,#8f82cc 108px,#9b90d1 111px,#aaa0d8 114px,#bab2e0 117px,#ccc6e8 120px,#dfdcf1 123px,#f3f2fa 126px,#ffffff 129px,#fff5f5 132px,#ffdede 135px,#ffc7c7 138px,#ffb1b1 141px,#ff9c9c 144px,#ff8888 147px,#ff7676 150px,#ff6666 153px,#ff5757 156px)"></i>
<i style="top:35px;height:1px;background:linear-gradient(90deg,#ff5858 0px,#ff5858 3px,#ff5858 6px,#ff5858 9px,#ff5858 12px,#ff5959 15px,#ff5e5e 18px,#ff6666 21px,#ff7171 24px,#ff8080 27px,#ff9292 30px,#ffa6a6 33px,#ffbcbc 36px,#ffd4d4 39px,#ffeded 42px,#ffffff 45px,#faf9fd 48px,#e9e7f5 51px,#d9d4ed 54px,#c9c3e6 57px,#bab2df 60px,#aca3d9 63px,#9f95d3 66px,#9488ce 69px,#8b7eca 72px,#8375c6 75px,#8273c6 78px,#8273c6 81px,#8273c6 84px,#8273c6 87px,#8273c6 90px,#8273c6 93px,#8273c6 96px,#8273c6 99px,#8273c6 102px,#8476c7 105px,#8d80cb 108px,#998ed1 111px,#a79dd7 114px,#b7afde 117px,#c9c3e6 120px,#dcd8ef 123px,#f0eef8 126px,#ffffff 129px,#fff9f9 132px,#ffe1e1 135px,#ffcaca 138px,#ffb4b4 141px,#ff9e9e 144px,#ff8a8a 147px,#ff7878 150px,#ff6767 153px,#ff5858 156px)"></i>
<i style="top:36px;height:1px;background:linear-gradient(90deg,#ff5a5a 0px,#ff5a5a 3px,#ff5a5a 6px,#ff5a5a 9px,#ff5a5a 12px,#ff5b5b 15px,#ff5e5e 18px,#ff6565 21px,#ff6f6f 24px,#ff7d7d 27px,#ff8e8e 30px,#ffa2a2 33px,#ffb9b9 36px,#ffd0d0 39px,#ffe9e9 42px,#ffffff 45px,#fcfcfe 48px,#eceaf6 51px,#dbd7ef 54px,#ccc6e8 57px,#bdb5e1 60px,#afa6da 63px,#a298d5 66px,#978bd0 69px,#8d81cb 72px,#8578c7 75px,#8274c6 78px,#8274c6 81px,#8274c6 84px,#8274c6 87px,#8274c6 90px,#8274c6 93px,#8274c6 96px,#8274c6 99px,#8274c6 102px,#8375c6 105px,#8c7fca 108px,#988cd0 111px,#a59bd6 114px,#b5addd 117px,#c6c0e5 120px,#d9d5ee 123px,#edebf7 126px,#ffffff 129px,#fffdfd 132px,#ffe5e5 135px,#ffcdcd 138px,#ffb7b7 141px,#ffa1a1 144px,#ff8c8c 147px,#ff7a7a 150px,#ff6969 153px,#ff5a5a 156px)"></i>
<i style="top:37px;height:1px;background:linear-gradient(90deg,#ff5c5c 0px,#ff5c5c 3px,#ff5c5c 6px,#ff5c5c 9px,#ff5c5c 12px,#ff5c5c 15px,#ff5e5e 18px,#ff6464 21px,#ff6d6d 24px,#ff7b7b 27px,#ff8b8b 30px,#ff9f9f 33px,#ffb5b5 36px,#ffcdcd 39px,#ffe6e6 42px,#ffffff 45px,#ffffff 48px,#eeedf7 51px,#dedbf0 54px,#cfc9e9 57px,#c0b9e2 60px,#b2a9dc 63px,#a59bd6 66px,#9a8ed1 69px,#9083cc 72px,#887ac9 75px,#8375c6 78px,#8375c6 81px,#8375c6 84px,#8375c6 87px,#8375c6 90px,#8375c6 93px,#8375c6 96px,#8375c6 99px,#8375c6 102px,#8375c6 105px,#8b7eca 108px,#968acf 111px,#a399d5 114px,#b3aadc 117px,#c4bde4 120px,#d6d1ec 123px,#e9e7f5 126px,#fdfdfe 129px,#ffffff 132px,#ffe9e9 135px,#ffd1d1 138px,#ffb9b9 141px,#ffa3a3 144px,#ff8e8e 147px,#ff7b7b 150px,#ff6a6a 153px,#ff5b5b 156px)"></i>
<i style="top:38px;height:1px;background:linear-gradient(90deg,#ff5f5f 0px,#ff5f5f 3px,#ff5f5f 6px,#ff5f5f 9px,#ff5f5f 12px,#ff5f5f 15px,#ff5f5f 18px,#ff6464 21px,#ff6c6c 24px,#ff7878 27px,#ff8888 30px,#ff9b9b 33px,#ffb1b1 36px,#ffc9c9 39px,#ffe2e2 42px,#fffcfc 45px,#ffffff 48px,#f1eff9 51px,#e1def1 54px,#d1ccea 57px,#c3bce3 60px,#b5addd 63px,#a89ed7 66px,#9d92d2 69px,#9386ce 72px,#8a7dca 75px,#8375c7 78px,#8375c7 81px,#8375c7 84px,#8375c7 87px,#8375c7 90px,#8375c7 93px,#8375c7 96px,#8375c7 99px,#8375c7 102px,#8375c7 105px,#8a7dc9 108px,#9488ce 111px,#a197d4 114px,#b0a7db 117px,#c1bae3 120px,#d3ceeb 123px,#e6e4f4 126px,#faf9fd 129px,#ffffff 132px,#ffecec 135px,#ffd4d4 138px,#ffbcbc 141px,#ffa6a6 144px,#ff9090 147px,#ff7d7d 150px,#ff6b6b 153px,#ff5c5c 156px)"></i>
<i style="top:39px;height:1px;background:linear-gradient(90deg,#ff6161 0px,#ff6161 3px,#ff6161 6px,#ff6161 9px,#ff6161 12px,#ff6161 15px,#ff6161 18px,#ff6464 21px,#ff6b6b 24px,#ff7676 27px,#ff8585 30px,#ff9898 33px,#ffadad 36px,#ffc5c5 39px,#ffdede 42px,#fff8f8 45px,#ffffff 48px,#f3f2fa 51px,#e4e0f2 54px,#d4cfeb 57px,#c6bfe5 60px,#b8b0df 63px,#aba2d9 66px,#9f95d3 69px,#9589cf 72px,#8c80cb 75px,#8577c7 78px,#8476c7 81px,#8476c7 84px,#8476c7 87px,#8476c7 90px,#8476c7 93px,#8476c7 96px,#8476c7 99px,#8476c7 102px,#8476c7 105px,#897bc9 108px,#9387ce 111px,#9f95d3 114px,#aea5da 117px,#beb7e2 120px,#d0cbea 123px,#e3e0f2 126px,#f7f6fb 129px,#ffffff 132px,#fff0f0 135px,#ffd7d7 138px,#ffbfbf 141px,#ffa8a8 144px,#ff9292 147px,#ff7f7f 150px,#ff6d6d 153px,#ff5d5d 156px)"></i>
<i style="top:40px;height:1px;background:linear-gradient(90deg,#ff6161 0px,#ff6161 3px,#ff6161 6px,#ff6161 9px,#ff6161 12px,#ff6161 15px,#ff6161 18px,#ff6363 21px,#ff6a6a 24px,#ff7575 27px,#ff8383 30px,#ff9595 33px,#ffaaaa 36px,#ffc1c1 39px,#ffd9d9 42px,#fff3f3 45px,#ffffff 48px,#f6f5fb 51px,#e6e4f4 54px,#d7d2ed 57px,#c8c2e6 60px,#bab2e0 63px,#ada4da 66px,#a197d4 69px,#978bcf 72px,#8e81cb 75px,#8679c8 78px,#8476c7 81px,#8476c7 84px,#8476c7 87px,#8476c7 90px,#8476c7 93px,#8476c7 96px,#8476c7 99px,#8476c7 102px,#8476c7 105px,#877ac8 108px,#9185cd 111px,#9d92d2 114px,#aca2d9 117px,#bcb4e0 120px,#cdc8e8 123px,#e0dcf1 126px,#f3f2fa 129px,#ffffff 132px,#fff4f4 135px,#ffdbdb 138px,#ffc2c2 141px,#ffaaaa 144px,#ff9494 147px,#ff8080 150px,#ff6e6e 153px,#ff5e5e 156px)"></i>
<i style="top:41px;height:1px;background:linear-gradient(90deg,#ff6060 0px,#ff6060 3px,#ff6060 6px,#ff6060 9px,#ff6060 12px,#ff6060 15px,#ff6161 18px,#ff6363 21px,#ff6969 24px,#ff7373 27px,#ff8181 30px,#ff9292 33px,#ffa6a6 36px,#ffbdbd 39px,#ffd4d4 42px,#ffeded 45px,#ffffff 48px,#faf9fd 51px,#eae7f5 54px,#dad6ee 57px,#cac4e7 60px,#bcb4e0 63px,#aea5da 66px,#a298d5 69px,#978cd0 72px,#8e81cb 75px,#8678c8 78px,#8375c7 81px,#8375c7 84px,#8375c7 87px,#8375c7 90px,#8375c7 93px,#8375c7 96px,#8375c7 99px,#8375c7 102px,#8375c7 105px,#8578c8 108px,#8f82cc 111px,#9b8fd1 114px,#a99fd8 117px,#b9b1df 120px,#cac4e7 123px,#ddd9ef 126px,#f0eef8 129px,#ffffff 132px,#fff8f8 135px,#ffdede 138px,#ffc5c5 141px,#ffacac 144px,#ff9595 147px,#ff8080 150px,#ff6e6e 153px,#ff5e5e 156px)"></i>
<i style="top:42px;height:1px;background:linear-gradient(90deg,#ff6060 0px,#ff6060 3px,#ff6060 6px,#ff6060 9px,#ff6060 12px,#ff6060 15px,#ff6060 18px,#ff6262 21px,#ff6868 24px,#ff7272 27px,#ff8080 30px,#ff9090 33px,#ffa3a3 36px,#ffb9b9 39px,#ffd0d0 42px,#ffe8e8 45px,#ffffff 48px,#fefefe 51px,#edebf7 54px,#ddd9ef 57px,#cdc7e8 60px,#beb7e1 63px,#b0a7db 66px,#a399d5 69px,#988cd0 72px,#8e81cb 75px,#8678c8 78px,#8375c6 81px,#8375c6 84px,#8375c6 87px,#8375c6 90px,#8375c6 93px,#8375c6 96px,#8375c6 99px,#8375c6 102px,#8375c6 105px,#8476c7 108px,#8d80cb 111px,#988dd0 114px,#a69cd6 117px,#b5addd 120px,#c7c0e5 123px,#d9d5ee 126px,#edebf7 129px,#ffffff 132px,#fffdfd 135px,#ffe2e2 138px,#ffc8c8 141px,#ffaeae 144px,#ff9797 147px,#ff8181 150px,#ff6e6e 153px,#ff5d5d 156px)"></i>
<i style="top:43px;height:1px;background:linear-gradient(90deg,#ff5f5f 0px,#ff5f5f 3px,#ff5f5f 6px,#ff5f5f 9px,#ff5f5f 12px,#ff5f5f 15px,#ff5f5f 18px,#ff6262 21px,#ff6868 24px,#ff7171 27px,#ff7e7e 30px,#ff8e8e 33px,#ffa0a0 36px,#ffb5b5 39px,#ffcbcb 42px,#ffe3e3 45px,#fffbfb 48px,#ffffff 51px,#f1eff8 54px,#e0dcf1 57px,#cfcae9 60px,#c0b9e2 63px,#b1a9dc 66px,#a49ad6 69px,#998dd0 72px,#8e82cc 75px,#8678c8 78px,#8274c6 81px,#8274c6 84px,#8274c6 87px,#8274c6 90px,#8274c6 93px,#8274c6 96px,#8274c6 99px,#8274c6 102px,#8274c6 105px,#8274c6 108px,#8b7dca 111px,#968acf 114px,#a399d5 117px,#b2aadc 120px,#c4bde4 123px,#d6d1ec 126px,#e9e7f5 129px,#fdfdfe 132px,#ffffff 135px,#ffe6e6 138px,#ffcbcb 141px,#ffb1b1 144px,#ff9898 147px,#ff8282 150px,#ff6e6e 153px,#ff5d5d 156px)"></i>
<i style="top:44px;height:1px;background:linear-gradient(90deg,#ff5e5e 0px,#ff5e5e 3px,#ff5e5e 6px,#ff5e5e 9px,#ff5e5e 12px,#ff5e5e 15px,#ff5f5f 18px,#ff6161 21px,#ff6767 24px,#ff7070 27px,#ff7d7d 30px,#ff8c8c 33px,#ff9e9e 36px,#ffb2b2 39px,#ffc7c7 42px,#ffdede 45px,#fff5f5 48px,#ffffff 51px,#f5f3fa 54px,#e3e0f2 57px,#d2cdeb 60px,#c2bbe3 63px,#b3abdc 66px,#a59bd6 69px,#998ed1 72px,#8f82cc 75px,#8678c8 78px,#8274c6 81px,#8274c6 84px,#8274c6 87px,#8274c6 90px,#8274c6 93px,#8274c6 96px,#8274c6 99px,#8274c6 102px,#8274c6 105px,#8274c6 108px,#887bc9 111px,#9387ce 114px,#a096d4 117px,#afa6db 120px,#c0b9e2 123px,#d3ceeb 126px,#e6e3f4 129px,#faf9fd 132px,#ffffff 135px,#ffeaea 138px,#ffcece 141px,#ffb3b3 144px,#ff9a9a 147px,#ff8383 150px,#ff6e6e 153px,#ff5d5d 156px)"></i>
<i style="top:45px;height:1px;background:linear-gradient(90deg,#ff5e5e 0px,#ff5e5e 3px,#ff5e5e 6px,#ff5e5e 9px,#ff5e5e 12px,#ff5e5e 15px,#ff5e5e 18px,#ff6060 21px,#ff6666 24px,#ff6f6f 27px,#ff7b7b 30px,#ff8a8a 33px,#ff9b9b 36px,#ffaeae 39px,#ffc3c3 42px,#ffd9d9 45px,#fff0f0 48px,#ffffff 51px,#f9f8fc 54px,#e7e4f4 57px,#d5d1ec 60px,#c5bee4 63px,#b5addd 66px,#a79dd7 69px,#9a8fd1 72px,#8f82cc 75px,#8678c8 78px,#8173c6 81px,#8173c6 84px,#8173c6 87px,#8173c6 90px,#8173c6 93px,#8173c6 96px,#8173c6 99px,#8173c6 102px,#8173c6 105px,#8173c6 108px,#8679c8 111px,#9184cd 114px,#9e93d3 117px,#aca3d9 120px,#bdb6e1 123px,#cfcae9 126px,#e3dff2 129px,#f7f6fb 132px,#ffffff 135px,#ffeeee 138px,#ffd1d1 141px,#ffb5b5 144px,#ff9b9b 147px,#ff8484 150px,#ff6f6f 153px,#ff5d5d 156px)"></i>
<i style="top:46px;height:1px;background:linear-gradient(90deg,#ff5d5d 0px,#ff5d5d 3px,#ff5d5d 6px,#ff5d5d 9px,#ff5d5d 12px,#ff5d5d 15px,#ff5d5d 18px,#ff6060 21px,#ff6565 24px,#ff6e6e 27px,#ff7a7a 30px,#ff8888 33px,#ff9999 36px,#ffabab 39px,#ffbfbf 42px,#ffd5d5 45px,#ffebeb 48px,#ffffff 51px,#fdfdfe 54px,#eae8f6 57px,#d8d4ed 60px,#c7c1e5 63px,#b7afde 66px,#a89ed7 69px,#9b90d1 72px,#8f83cc 75px,#8678c8 78px,#8173c5 81px,#8173c5 84px,#8173c5 87px,#8173c5 90px,#8173c5 93px,#8173c5 96px,#8173c5 99px,#8173c5 102px,#8173c5 105px,#8173c5 108px,#8477c7 111px,#8e82cc 114px,#9b90d1 117px,#a9a0d8 120px,#bab2df 123px,#ccc6e8 126px,#dfdcf1 129px,#f3f2fa 132px,#ffffff 135px,#fff2f2 138px,#ffd5d5 141px,#ffb8b8 144px,#ff9d9d 147px,#ff8585 150px,#ff6f6f 153px,#ff5d5d 156px)"></i>
<i style="top:47px;height:1px;background:linear-gradient(90deg,#ff5c5c 0px,#ff5c5c 3px,#ff5c5c 6px,#ff5c5c 9px,#ff5c5c 12px,#ff5c5c 15px,#ff5c5c 18px,#ff5f5f 21px,#ff6464 24px,#ff6d6d 27px,#ff7878 30px,#ff8686 33px,#ff9696 36px,#ffa8a8 39px,#ffbcbc 42px,#ffd1d1 45px,#ffe7e7 48px,#fffdfd 51px,#ffffff 54px,#eeecf7 57px,#dcd8ef 60px,#cac4e7 63px,#b9b1df 66px,#aaa0d8 69px,#9c91d2 72px,#9184cd 75px,#8779c8 78px,#8172c5 81px,#8172c5 84px,#8172c5 87px,#8172c5 90px,#8172c5 93px,#8172c5 96px,#8172c5 99px,#8172c5 102px,#8172c5 105px,#8172c5 108px,#8375c6 111px,#8d80cb 114px,#998ed0 117px,#a79dd7 120px,#b8b0de 123px,#cac4e7 126px,#ddd9ef 129px,#f1eff8 132px,#ffffff 135px,#fff6f6 138px,#ffd8d8 141px,#ffbbbb 144px,#ff9f9f 147px,#ff8686 150px,#ff7070 153px,#ff5d5d 156px)"></i>
<i style="top:48px;height:1px;background:linear-gradient(90deg,#ff5b5b 0px,#ff5b5b 3px,#ff5b5b 6px,#ff5b5b 9px,#ff5b5b 12px,#ff5b5b 15px,#ff5b5b 18px,#ff5e5e 21px,#ff6363 24px,#ff6b6b 27px,#ff7676 30px,#ff8484 33px,#ff9494 36px,#ffa6a6 39px,#ffb9b9 42px,#ffcece 45px,#ffe3e3 48px,#fff9f9 51px,#ffffff 54px,#f1eff9 57px,#dfdbf0 60px,#cdc7e8 63px,#bcb4e0 66px,#aca3d9 69px,#9f94d3 72px,#9286cd 75px,#887bc9 78px,#8172c5 81px,#8172c5 84px,#8172c5 87px,#8172c5 90px,#8172c5 93px,#8172c5 96px,#8172c5 99px,#8172c5 102px,#8172c5 105px,#8172c5 108px,#8274c6 111px,#8c7fca 114px,#988cd0 117px,#a69cd6 120px,#b6aede 123px,#c8c2e6 126px,#dbd7ef 129px,#efedf8 132px,#ffffff 135px,#fff9f9 138px,#ffdada 141px,#ffbdbd 144px,#ffa1a1 147px,#ff8888 150px,#ff7272 153px,#ff5f5f 156px)"></i>
<i style="top:49px;height:1px;background:linear-gradient(90deg,#ff5a5a 0px,#ff5a5a 3px,#ff5a5a 6px,#ff5a5a 9px,#ff5a5a 12px,#ff5a5a 15px,#ff5a5a 18px,#ff5c5c 21px,#ff6262 24px,#ff6a6a 27px,#ff7575 30px,#ff8282 33px,#ff9191 36px,#ffa3a3 39px,#ffb6b6 42px,#ffcbcb 45px,#ffe0e0 48px,#fff6f6 51px,#ffffff 54px,#f4f3fa 57px,#e2def2 60px,#d0cae9 63px,#bfb7e2 66px,#afa6da 69px,#a196d4 72px,#9488ce 75px,#8a7dc9 78px,#8173c6 81px,#8172c5 84px,#8172c5 87px,#8172c5 90px,#8172c5 93px,#8172c5 96px,#8172c5 99px,#8172c5 102px,#8172c5 105px,#8172c5 108px,#8274c6 111px,#8b7eca 114px,#978bcf 117px,#a59bd6 120px,#b5acdd 123px,#c6c0e5 126px,#d9d5ee 129px,#edebf7 132px,#ffffff 135px,#fffbfb 138px,#ffdddd 141px,#ffbfbf 144px,#ffa3a3 147px,#ff8a8a 150px,#ff7474 153px,#ff6161 156px)"></i>
<i style="top:50px;height:1px;background:linear-gradient(90deg,#ff5858 0px,#ff5858 3px,#ff5858 6px,#ff5858 9px,#ff5858 12px,#ff5858 15px,#ff5959 18px,#ff5b5b 21px,#ff6060 24px,#ff6868 27px,#ff7373 30px,#ff8080 33px,#ff8f8f 36px,#ffa0a0 39px,#ffb3b3 42px,#ffc7c7 45px,#ffdcdc 48px,#fff2f2 51px,#ffffff 54px,#f7f6fb 57px,#e5e2f3 60px,#d3ceeb 63px,#c1bae3 66px,#b1a9dc 69px,#a399d5 72px,#968acf 75px,#8b7eca 78px,#8374c6 81px,#8172c5 84px,#8172c5 87px,#8172c5 90px,#8172c5 93px,#8172c5 96px,#8172c5 99px,#8172c5 102px,#8172c5 105px,#8172c5 108px,#8173c5 111px,#8a7dca 114px,#968acf 117px,#a499d5 120px,#b3abdd 123px,#c5bee5 126px,#d8d3ed 129px,#ece9f6 132px,#ffffff 135px,#fffefe 138px,#ffdfdf 141px,#ffc1c1 144px,#ffa5a5 147px,#ff8c8c 150px,#ff7575 153px,#ff6262 156px)"></i>
<i style="top:51px;height:1px;background:linear-gradient(90deg,#ff5858 0px,#ff5858 3px,#ff5858 6px,#ff5858 9px,#ff5858 12px,#ff5858 15px,#ff5858 18px,#ff5b5b 21px,#ff6060 24px,#ff6969 27px,#ff7373 30px,#ff8080 33px,#ff9090 36px,#ffa1a1 39px,#ffb4b4 42px,#ffc7c7 45px,#ffdcdc 48px,#fff2f2 51px,#ffffff 54px,#f7f7fc 57px,#e5e2f3 60px,#d3ceeb 63px,#c1bae3 66px,#b1a9dc 69px,#a398d5 72px,#968acf 75px,#8b7eca 78px,#8274c6 81px,#8072c5 84px,#8072c5 87px,#8072c5 90px,#8072c5 93px,#8072c5 96px,#8072c5 99px,#8072c5 102px,#8072c5 105px,#8072c5 108px,#8072c5 111px,#897cc9 114px,#9589cf 117px,#a398d5 120px,#b3aadc 123px,#c4bee4 126px,#d7d3ed 129px,#ebe9f6 132px,#ffffff 135px,#fffefe 138px,#ffe0e0 141px,#ffc3c3 144px,#ffa7a7 147px,#ff8d8d 150px,#ff7777 153px,#ff6464 156px)"></i>
<i style="top:52px;height:1px;background:linear-gradient(90deg,#ff5858 0px,#ff5858 3px,#ff5858 6px,#ff5858 9px,#ff5858 12px,#ff5858 15px,#ff5959 18px,#ff5c5c 21px,#ff6262 24px,#ff6b6b 27px,#ff7676 30px,#ff8383 33px,#ff9393 36px,#ffa4a4 39px,#ffb7b7 42px,#ffcbcb 45px,#ffe0e0 48px,#fff5f5 51px,#ffffff 54px,#f5f4fa 57px,#e2dff2 60px,#d0cbea 63px,#bfb7e2 66px,#afa6da 69px,#a096d4 72px,#9487ce 75px,#897bc9 78px,#8072c5 81px,#7f71c5 84px,#7f71c5 87px,#7f71c5 90px,#7f71c5 93px,#7f71c5 96px,#7f71c5 99px,#7f71c5 102px,#7f71c5 105px,#7f71c5 108px,#7f71c5 111px,#897bc9 114px,#9589ce 117px,#a398d5 120px,#b3aadc 123px,#c4bee4 126px,#d8d3ed 129px,#ece9f6 132px,#ffffff 135px,#fffdfd 138px,#ffe0e0 141px,#ffc3c3 144px,#ffa7a7 147px,#ff8e8e 150px,#ff7878 153px,#ff6565 156px)"></i>
<i style="top:53px;height:1px;background:linear-gradient(90deg,#ff5858 0px,#ff5858 3px,#ff5858 6px,#ff5858 9px,#ff5858 12px,#ff5858 15px,#ff5959 18px,#ff5d5d 21px,#ff6464 24px,#ff6d6d 27px,#ff7979 30px,#ff8686 33px,#ff9696 36px,#ffa7a7 39px,#ffbaba 42px,#ffcece 45px,#ffe3e3 48px,#fff8f8 51px,#ffffff 54px,#f2f1f9 57px,#dfdcf1 60px,#cdc8e8 63px,#bcb4e0 66px,#aca3d9 69px,#9e93d3 72px,#9185cd 75px,#8779c8 78px,#7e6fc4 81px,#7e6fc4 84px,#7e6fc4 87px,#7e6fc4 90px,#7e6fc4 93px,#7e6fc4 96px,#7e6fc4 99px,#7e6fc4 102px,#7e6fc4 105px,#7e6fc4 108px,#7f70c4 111px,#887bc9 114px,#9488ce 117px,#a298d5 120px,#b3aadc 123px,#c5bee4 126px,#d8d3ed 129px,#eceaf6 132px,#ffffff 135px,#fffdfd 138px,#ffdfdf 141px,#ffc3c3 144px,#ffa8a8 147px,#ff8f8f 150px,#ff7979 153px,#ff6767 156px)"></i>
<i style="top:54px;height:1px;background:linear-gradient(90deg,#ff5858 0px,#ff5858 3px,#ff5858 6px,#ff5858 9px,#ff5858 12px,#ff5858 15px,#ff5a5a 18px,#ff5f5f 21px,#ff6666 24px,#ff6f6f 27px,#ff7b7b 30px,#ff8989 33px,#ff9999 36px,#ffabab 39px,#ffbdbd 42px,#ffd1d1 45px,#ffe6e6 48px,#fffbfb 51px,#ffffff 54px,#f0eef8 57px,#ddd9ef 60px,#cac4e7 63px,#b9b1df 66px,#a9a0d8 69px,#9b90d1 72px,#8f82cc 75px,#8476c7 78px,#7d6ec4 81px,#7d6ec4 84px,#7d6ec4 87px,#7d6ec4 90px,#7d6ec4 93px,#7d6ec4 96px,#7d6ec4 99px,#7d6ec4 102px,#7d6ec4 105px,#7d6ec4 108px,#7e6fc4 111px,#887ac8 114px,#9488ce 117px,#a298d5 120px,#b3aadc 123px,#c5bee4 126px,#d8d4ed 129px,#edebf7 132px,#ffffff 135px,#fffcfc 138px,#ffdfdf 141px,#ffc3c3 144px,#ffa8a8 147px,#ff9090 150px,#ff7a7a 153px,#ff6868 156px)"></i>
<i style="top:55px;height:1px;background:linear-gradient(90deg,#ff5858 0px,#ff5858 3px,#ff5858 6px,#ff5858 9px,#ff5858 12px,#ff5858 15px,#ff5b5b 18px,#ff6060 21px,#ff6868 24px,#ff7272 27px,#ff7e7e 30px,#ff8c8c 33px,#ff9c9c 36px,#ffaeae 39px,#ffc1c1 42px,#ffd4d4 45px,#ffe9e9 48px,#fffefe 51px,#ffffff 54px,#edebf7 57px,#dad6ee 60px,#c8c1e6 63px,#b6aede 66px,#a79dd7 69px,#988dd0 72px,#8c7fcb 75px,#8274c6 78px,#7c6dc3 81px,#7c6dc3 84px,#7c6dc3 87px,#7c6dc3 90px,#7c6dc3 93px,#7c6dc3 96px,#7c6dc3 99px,#7c6dc3 102px,#7c6dc3 105px,#7c6dc3 108px,#7d6fc4 111px,#8779c8 114px,#9387ce 117px,#a297d4 120px,#b2aadc 123px,#c5bee4 126px,#d9d4ed 129px,#edebf7 132px,#ffffff 135px,#fffbfb 138px,#ffdede 141px,#ffc3c3 144px,#ffa9a9 147px,#ff9191 150px,#ff7b7b 153px,#ff6969 156px)"></i>
<i style="top:56px;height:1px;background:linear-gradient(90deg,#ff5959 0px,#ff5959 3px,#ff5959 6px,#ff5959 9px,#ff5959 12px,#ff5a5a 15px,#ff5d5d 18px,#ff6363 21px,#ff6b6b 24px,#ff7676 27px,#ff8282 30px,#ff9191 33px,#ffa1a1 36px,#ffb3b3 39px,#ffc5c5 42px,#ffd9d9 45px,#ffeded 48px,#ffffff 51px,#fcfcfe 54px,#e9e7f5 57px,#d6d2ec 60px,#c4bee4 63px,#b3abdc 66px,#a49ad5 69px,#968acf 72px,#8a7dca 75px,#8072c5 78px,#7c6dc3 81px,#7c6dc3 84px,#7c6dc3 87px,#7c6dc3 90px,#7c6dc3 93px,#7c6dc3 96px,#7c6dc3 99px,#7c6dc3 102px,#7c6dc3 105px,#7c6dc3 108px,#7e6fc4 111px,#887ac9 114px,#9488ce 117px,#a399d5 120px,#b4abdd 123px,#c6c0e5 126px,#dad6ee 129px,#efedf8 132px,#ffffff 135px,#fff8f8 138px,#ffdddd 141px,#ffc2c2 144px,#ffa9a9 147px,#ff9191 150px,#ff7d7d 153px,#ff6b6b 156px)"></i>
<i style="top:57px;height:1px;background:linear-gradient(90deg,#ff5a5a 0px,#ff5a5a 3px,#ff5a5a 6px,#ff5a5a 9px,#ff5a5a 12px,#ff5c5c 15px,#ff6060 18px,#ff6767 21px,#ff7070 24px,#ff7b7b 27px,#ff8888 30px,#ff9797 33px,#ffa7a7 36px,#ffb9b9 39px,#ffcccc 42px,#ffdfdf 45px,#fff3f3 48px,#ffffff 51px,#f7f6fb 54px,#e4e1f3 57px,#d2cdea 60px,#c0b9e2 63px,#b0a7db 66px,#a197d4 69px,#9488ce 72px,#897bc9 75px,#8071c5 78px,#7c6ec3 81px,#7c6ec3 84px,#7c6ec3 87px,#7c6ec3 90px,#7c6ec3 93px,#7c6ec3 96px,#7c6ec3 99px,#7c6ec3 102px,#7c6ec3 105px,#7c6ec3 108px,#7f71c5 111px,#8a7dca 114px,#978bcf 117px,#a69cd6 120px,#b7afde 123px,#c9c3e7 126px,#ddd9f0 129px,#f2f0f9 132px,#ffffff 135px,#fff5f5 138px,#ffdada 141px,#ffc0c0 144px,#ffa8a8 147px,#ff9292 150px,#ff7e7e 153px,#ff6d6d 156px)"></i>
<i style="top:58px;height:1px;background:linear-gradient(90deg,#ff5c5c 0px,#ff5c5c 3px,#ff5c5c 6px,#ff5c5c 9px,#ff5c5c 12px,#ff5f5f 15px,#ff6464 18px,#ff6c6c 21px,#ff7575 24px,#ff8181 27px,#ff8e8e 30px,#ff9d9d 33px,#ffaeae 36px,#ffbfbf 39px,#ffd2d2 42px,#ffe5e5 45px,#fff9f9 48px,#ffffff 51px,#f2f1f9 54px,#e0dcf1 57px,#cec8e9 60px,#bdb5e1 63px,#ada4da 66px,#9f94d3 69px,#9286cd 72px,#877ac8 75px,#7f70c4 78px,#7d6ec4 81px,#7d6ec4 84px,#7d6ec4 87px,#7d6ec4 90px,#7d6ec4 93px,#7d6ec4 96px,#7d6ec4 99px,#7d6ec4 102px,#7d6ec4 105px,#7d6ec4 108px,#8173c6 111px,#8c7fcb 114px,#998ed0 117px,#a89fd7 120px,#b9b2df 123px,#ccc7e8 126px,#e0ddf1 129px,#f5f4fa 132px,#ffffff 135px,#fff2f2 138px,#ffd8d8 141px,#ffbfbf 144px,#ffa8a8 147px,#ff9393 150px,#ff8080 153px,#ff7070 156px)"></i>
<i style="top:59px;height:1px;background:linear-gradient(90deg,#ff5e5e 0px,#ff5e5e 3px,#ff5e5e 6px,#ff5e5e 9px,#ff5f5f 12px,#ff6262 15px,#ff6868 18px,#ff7070 21px,#ff7a7a 24px,#ff8686 27px,#ff9494 30px,#ffa3a3 33px,#ffb4b4 36px,#ffc5c5 39px,#ffd8d8 42px,#ffebeb 45px,#fffefe 48px,#ffffff 51px,#edebf7 54px,#dbd7ef 57px,#cac4e7 60px,#b9b2df 63px,#aaa1d8 66px,#9d91d2 69px,#9184cd 72px,#8679c8 75px,#7e6fc4 78px,#7d6fc4 81px,#7d6fc4 84px,#7d6fc4 87px,#7d6fc4 90px,#7d6fc4 93px,#7d6fc4 96px,#7d6fc4 99px,#7d6fc4 102px,#7d6fc4 105px,#7d6fc4 108px,#8375c7 111px,#8e81cc 114px,#9b90d2 117px,#aba1d9 120px,#bcb5e1 123px,#cfcae9 126px,#e3e0f2 129px,#f8f7fc 132px,#ffffff 135px,#ffefef 138px,#ffd6d6 141px,#ffbebe 144px,#ffa8a8 147px,#ff9494 150px,#ff8282 153px,#ff7272 156px)"></i>
<i style="top:60px;height:1px;background:linear-gradient(90deg,#ff5f5f 0px,#ff5f5f 3px,#ff5f5f 6px,#ff5f5f 9px,#ff6161 12px,#ff6666 15px,#ff6c6c 18px,#ff7575 21px,#ff7f7f 24px,#ff8c8c 27px,#ff9a9a 30px,#ffa9a9 33px,#ffbaba 36px,#ffcbcb 39px,#ffdede 42px,#fff1f1 45px,#ffffff 48px,#fafafd 51px,#e8e6f5 54px,#d7d2ed 57px,#c6c0e5 60px,#b6aede 63px,#a89ed7 66px,#9a8fd1 69px,#8f82cc 72px,#8578c7 75px,#7e6fc4 78px,#7e6fc4 81px,#7e6fc4 84px,#7e6fc4 87px,#7e6fc4 90px,#7e6fc4 93px,#7e6fc4 96px,#7e6fc4 99px,#7e6fc4 102px,#7e6fc4 105px,#7e6fc4 108px,#8577c7 111px,#9084cd 114px,#9e93d3 117px,#aea4da 120px,#bfb8e2 123px,#d2cdeb 126px,#e6e3f4 129px,#fbfafd 132px,#ffffff 135px,#ffecec 138px,#ffd4d4 141px,#ffbdbd 144px,#ffa8a8 147px,#ff9595 150px,#ff8383 153px,#ff7575 156px)"></i>
<i style="top:61px;height:1px;background:linear-gradient(90deg,#ff6161 0px,#ff6161 3px,#ff6161 6px,#ff6161 9px,#ff6464 12px,#ff6969 15px,#ff7171 18px,#ff7a7a 21px,#ff8585 24px,#ff9191 27px,#ffa0a0 30px,#ffafaf 33px,#ffc0c0 36px,#ffd1d1 39px,#ffe4e4 42px,#fff6f6 45px,#ffffff 48px,#f6f5fb 51px,#e4e1f3 54px,#d3ceeb 57px,#c2bce3 60px,#b3abdc 63px,#a59bd6 66px,#988dd0 69px,#8e81cb 72px,#8476c7 75px,#7f70c4 78px,#7f70c4 81px,#7f70c4 84px,#7f70c4 87px,#7f70c4 90px,#7f70c4 93px,#7f70c4 96px,#7f70c4 99px,#7f70c4 102px,#7f70c4 105px,#7f70c4 108px,#877ac8 111px,#9386ce 114px,#a096d4 117px,#b0a7db 120px,#c2bbe3 123px,#d5d0ec 126px,#e9e7f5 129px,#fefdfe 132px,#ffffff 135px,#ffe9e9 138px,#ffd3d3 141px,#ffbdbd 144px,#ffa8a8 147px,#ff9696 150px,#ff8585 153px,#ff7777 156px)"></i>
<i style="top:62px;height:1px;background:linear-gradient(90deg,#ff6262 0px,#ff6262 3px,#ff6262 6px,#ff6464 9px,#ff6767 12px,#ff6d6d 15px,#ff7575 18px,#ff7e7e 21px,#ff8a8a 24px,#ff9797 27px,#ffa5a5 30px,#ffb5b5 33px,#ffc6c6 36px,#ffd8d8 39px,#ffeaea 42px,#fffdfd 45px,#ffffff 48px,#f0eff8 51px,#dfdcf1 54px,#cfc9e9 57px,#bfb8e2 60px,#b0a8db 63px,#a399d5 66px,#978bd0 69px,#8d80cb 72px,#8476c7 75px,#8071c5 78px,#8071c5 81px,#8071c5 84px,#8071c5 87px,#8071c5 90px,#8071c5 93px,#8071c5 96px,#8071c5 99px,#8071c5 102px,#8071c5 105px,#8072c5 108px,#8a7cc9 111px,#958acf 114px,#a399d5 117px,#b4abdd 120px,#c5bfe5 123px,#d8d4ed 126px,#eceaf6 129px,#ffffff 132px,#fffefe 135px,#ffe7e7 138px,#ffd1d1 141px,#ffbcbc 144px,#ffa9a9 147px,#ff9797 150px,#ff8787 153px,#ff7979 156px)"></i>
<i style="top:63px;height:1px;background:linear-gradient(90deg,#ff6464 0px,#ff6464 3px,#ff6464 6px,#ff6666 9px,#ff6a6a 12px,#ff7070 15px,#ff7878 18px,#ff8383 21px,#ff8f8f 24px,#ff9c9c 27px,#ffacac 30px,#ffbcbc 33px,#ffcdcd 36px,#ffdfdf 39px,#fff2f2 42px,#ffffff 45px,#fbfbfd 48px,#ebe8f6 51px,#dbd6ee 54px,#cbc5e7 57px,#bcb5e0 60px,#aea5da 63px,#a297d4 66px,#978bcf 69px,#8d80cb 72px,#8577c7 75px,#8173c6 78px,#8173c6 81px,#8173c6 84px,#8173c6 87px,#8173c6 90px,#8173c6 93px,#8173c6 96px,#8173c6 99px,#8173c6 102px,#8173c6 105px,#8375c6 108px,#8d80cb 111px,#998dd0 114px,#a79dd7 117px,#b7afde 120px,#c9c3e6 123px,#dcd8ef 126px,#f0eef8 129px,#ffffff 132px,#fffbfb 135px,#ffe5e5 138px,#ffd0d0 141px,#ffbcbc 144px,#ffa9a9 147px,#ff9797 150px,#ff8888 153px,#ff7b7b 156px)"></i>
<i style="top:64px;height:1px;background:linear-gradient(90deg,#ff6666 0px,#ff6666 3px,#ff6666 6px,#ff6868 9px,#ff6d6d 12px,#ff7474 15px,#ff7c7c 18px,#ff8787 21px,#ff9494 24px,#ffa2a2 27px,#ffb2b2 30px,#ffc3c3 33px,#ffd5d5 36px,#ffe7e7 39px,#fffafa 42px,#ffffff 45px,#f5f4fb 48px,#e6e3f3 51px,#d6d2ec 54px,#c7c1e6 57px,#b9b2df 60px,#ada3d9 63px,#a196d4 66px,#968acf 69px,#8d80cb 72px,#8678c8 75px,#8375c6 78px,#8375c6 81px,#8375c6 84px,#8375c6 87px,#8375c6 90px,#8375c6 93px,#8375c6 96px,#8375c6 99px,#8375c6 102px,#8375c6 105px,#8678c8 108px,#9084cc 111px,#9c91d2 114px,#aba1d9 117px,#bbb3e0 120px,#cdc7e8 123px,#e0dcf1 126px,#f3f2fa 129px,#ffffff 132px,#fff9f9 135px,#ffe4e4 138px,#ffcfcf 141px,#ffbbbb 144px,#ffa9a9 147px,#ff9898 150px,#ff8a8a 153px,#ff7d7d 156px)"></i>
<i style="top:65px;height:1px;background:linear-gradient(90deg,#ff6868 0px,#ff6868 3px,#ff6868 6px,#ff6b6b 9px,#ff7070 12px,#ff7777 15px,#ff8181 18px,#ff8c8c 21px,#ff9999 24px,#ffa8a8 27px,#ffb9b9 30px,#ffcaca 33px,#ffdcdc 36px,#ffefef 39px,#ffffff 42px,#ffffff 45px,#f0eef8 48px,#e1def1 51px,#d2cdeb 54px,#c4bee4 57px,#b7afde 60px,#aba1d9 63px,#a095d4 66px,#968acf 69px,#8d81cb 72px,#8679c8 75px,#8476c7 78px,#8476c7 81px,#8476c7 84px,#8476c7 87px,#8476c7 90px,#8476c7 93px,#8476c7 96px,#8476c7 99px,#8476c7 102px,#8476c7 105px,#897cc9 108px,#9387ce 111px,#a095d4 114px,#aea5da 117px,#bfb7e2 120px,#d0cbea 123px,#e3e0f2 126px,#f7f6fb 129px,#ffffff 132px,#fff6f6 135px,#ffe2e2 138px,#ffcece 141px,#ffbbbb 144px,#ffa9a9 147px,#ff9999 150px,#ff8b8b 153px,#ff7f7f 156px)"></i>
<i style="top:66px;height:1px;background:linear-gradient(90deg,#ff6969 0px,#ff6969 3px,#ff6a6a 6px,#ff6d6d 9px,#ff7373 12px,#ff7b7b 15px,#ff8585 18px,#ff9191 21px,#ff9f9f 24px,#ffafaf 27px,#ffbfbf 30px,#ffd1d1 33px,#ffe4e4 36px,#fff7f7 39px,#ffffff 42px,#faf9fd 45px,#ebe9f6 48px,#ddd9ef 51px,#cfc9e9 54px,#c2bbe3 57px,#b5addd 60px,#aaa0d8 63px,#9f94d3 66px,#968acf 69px,#8e81cb 72px,#877ac8 75px,#8678c8 78px,#8678c8 81px,#8678c8 84px,#8678c8 87px,#8678c8 90px,#8678c8 93px,#8678c8 96px,#8678c8 99px,#8678c8 102px,#8678c8 105px,#8c7fcb 108px,#968bcf 111px,#a399d5 114px,#b2a9dc 117px,#c2bbe3 120px,#d4cfeb 123px,#e7e4f4 126px,#fafafd 129px,#ffffff 132px,#fff4f4 135px,#ffe0e0 138px,#ffcdcd 141px,#ffbbbb 144px,#ffaaaa 147px,#ff9a9a 150px,#ff8c8c 153px,#ff8181 156px)"></i>
<i style="top:67px;height:1px;background:linear-gradient(90deg,#ff6b6b 0px,#ff6b6b 3px,#ff6c6c 6px,#ff7070 9px,#ff7676 12px,#ff7f7f 15px,#ff8a8a 18px,#ff9797 21px,#ffa5a5 24px,#ffb5b5 27px,#ffc6c6 30px,#ffd9d9 33px,#ffecec 36px,#ffffff 39px,#ffffff 42px,#f5f3fa 45px,#e7e4f4 48px,#d9d5ee 51px,#ccc6e8 54px,#bfb8e2 57px,#b3abdd 60px,#a99fd8 63px,#9f94d3 66px,#968acf 69px,#8e82cc 72px,#887bc9 75px,#877ac8 78px,#877ac8 81px,#877ac8 84px,#877ac8 87px,#877ac8 90px,#877ac8 93px,#877ac8 96px,#877ac8 99px,#877ac8 102px,#877ac8 105px,#8f82cc 108px,#9a8ed1 111px,#a79dd7 114px,#b5addd 117px,#c6bfe5 120px,#d8d3ed 123px,#eae8f6 126px,#fdfdfe 129px,#ffffff 132px,#fff2f2 135px,#ffdfdf 138px,#ffcccc 141px,#ffbbbb 144px,#ffaaaa 147px,#ff9b9b 150px,#ff8e8e 153px,#ff8383 156px)"></i>
<i style="top:68px;height:1px;background:linear-gradient(90deg,#ff6d6d 0px,#ff6d6d 3px,#ff6f6f 6px,#ff7373 9px,#ff7a7a 12px,#ff8383 15px,#ff8f8f 18px,#ff9c9c 21px,#ffabab 24px,#ffbcbc 27px,#ffcece 30px,#ffe0e0 33px,#fff4f4 36px,#ffffff 39px,#fdfdfe 42px,#f0eef8 45px,#e3dff2 48px,#d6d1ec 51px,#c9c3e6 54px,#bdb6e1 57px,#b2a9dc 60px,#a89ed7 63px,#9e93d3 66px,#968acf 69px,#8f82cc 72px,#897cc9 75px,#897bc9 78px,#897bc9 81px,#897bc9 84px,#897bc9 87px,#897bc9 90px,#897bc9 93px,#897bc9 96px,#897bc9 99px,#897bc9 102px,#897cc9 105px,#9286cd 108px,#9d92d2 111px,#aaa0d8 114px,#b9b1df 117px,#c9c3e7 120px,#dbd7ef 123px,#eeecf7 126px,#ffffff 129px,#ffffff 132px,#fff0f0 135px,#ffdede 138px,#ffcccc 141px,#ffbbbb 144px,#ffabab 147px,#ff9c9c 150px,#ff8f8f 153px,#ff8484 156px)"></i>
<i style="top:69px;height:1px;background:linear-gradient(90deg,#ff7070 0px,#ff7070 3px,#ff7272 6px,#ff7777 9px,#ff7e7e 12px,#ff8888 15px,#ff9494 18px,#ffa2a2 21px,#ffb2b2 24px,#ffc3c3 27px,#ffd5d5 30px,#ffe9e9 33px,#fffcfc 36px,#ffffff 39px,#f9f8fc 42px,#ece9f6 45px,#dfdbf0 48px,#d2cdeb 51px,#c6c0e5 54px,#bbb3e0 57px,#b0a8db 60px,#a79dd7 63px,#9e93d3 66px,#968acf 69px,#8f83cc 72px,#8a7dc9 75px,#8a7dc9 78px,#8a7dc9 81px,#8a7dc9 84px,#8a7dc9 87px,#8a7dc9 90px,#8a7dc9 93px,#8a7dc9 96px,#8a7dc9 99px,#8a7dc9 102px,#8c7fca 105px,#9589ce 108px,#a095d4 111px,#ada4da 114px,#bcb5e0 117px,#cdc7e8 120px,#dedbf0 123px,#f1eff9 126px,#ffffff 129px,#ffffff 132px,#ffefef 135px,#ffdddd 138px,#ffcccc 141px,#ffbbbb 144px,#ffacac 147px,#ff9e9e 150px,#ff9191 153px,#ff8787 156px)"></i>
<i style="top:70px;height:1px;background:linear-gradient(90deg,#ff7575 0px,#ff7575 3px,#ff7777 6px,#ff7c7c 9px,#ff8484 12px,#ff8e8e 15px,#ff9a9a 18px,#ffa9a9 21px,#ffb9b9 24px,#ffcbcb 27px,#ffdddd 30px,#fff1f1 33px,#ffffff 36px,#ffffff 39px,#f4f3fa 42px,#e8e5f4 45px,#dbd7ef 48px,#cfcae9 51px,#c4bde4 54px,#b9b1df 57px,#afa6da 60px,#a59bd6 63px,#9d92d2 66px,#968acf 69px,#8f83cc 72px,#8a7dca 75px,#8a7dca 78px,#8a7dca 81px,#8a7dca 84px,#8a7dca 87px,#8a7dca 90px,#8a7dca 93px,#8a7dca 96px,#8a7dca 99px,#8a7dca 102px,#8e81cb 105px,#978bd0 108px,#a398d5 111px,#b0a7db 114px,#bfb8e2 117px,#d0cbe9 120px,#e2def2 123px,#f4f3fa 126px,#ffffff 129px,#ffffff 132px,#ffeeee 135px,#ffdcdc 138px,#ffcccc 141px,#ffbcbc 144px,#ffadad 147px,#ff9f9f 150px,#ff9494 153px,#ff8989 156px)"></i>
<i style="top:71px;height:1px;background:linear-gradient(90deg,#ff7a7a 0px,#ff7a7a 3px,#ff7c7c 6px,#ff8181 9px,#ff8989 12px,#ff9393 15px,#ffa0a0 18px,#ffafaf 21px,#ffc0c0 24px,#ffd2d2 27px,#ffe6e6 30px,#fff9f9 33px,#ffffff 36px,#fcfcfe 39px,#f0eef8 42px,#e4e1f3 45px,#d8d3ed 48px,#ccc7e8 51px,#c1bae3 54px,#b7afde 57px,#ada4da 60px,#a49ad6 63px,#9c91d2 66px,#9589cf 69px,#8f83cc 72px,#8b7eca 75px,#8b7eca 78px,#8b7eca 81px,#8b7eca 84px,#8b7eca 87px,#8b7eca 90px,#8b7eca 93px,#8b7eca 96px,#8b7eca 99px,#8b7eca 102px,#9083cc 105px,#998ed1 108px,#a59bd6 111px,#b3aadc 114px,#c2bbe3 117px,#d3ceeb 120px,#e5e2f3 123px,#f7f6fb 126px,#ffffff 129px,#fffefe 132px,#ffeded 135px,#ffdcdc 138px,#ffcccc 141px,#ffbcbc 144px,#ffaeae 147px,#ffa1a1 150px,#ff9696 153px,#ff8c8c 156px)"></i>
<i style="top:72px;height:1px;background:linear-gradient(90deg,#ff7f7f 0px,#ff7f7f 3px,#ff8181 6px,#ff8686 9px,#ff8e8e 12px,#ff9999 15px,#ffa7a7 18px,#ffb6b6 21px,#ffc8c8 24px,#ffdada 27px,#ffeeee 30px,#ffffff 33px,#ffffff 36px,#f8f7fc 39px,#eceaf6 42px,#e0ddf1 45px,#d5d0ec 48px,#cac4e7 51px,#bfb8e2 54px,#b5addd 57px,#aca3d9 60px,#a399d5 63px,#9c91d2 66px,#9589cf 69px,#8f83cc 72px,#8c7fca 75px,#8c7fca 78px,#8c7fca 81px,#8c7fca 84px,#8c7fca 87px,#8c7fca 90px,#8c7fca 93px,#8c7fca 96px,#8c7fca 99px,#8c7fca 102px,#9286cd 105px,#9c91d2 108px,#a89ed7 111px,#b6aede 114px,#c5bfe5 117px,#d6d2ec 120px,#e8e5f5 123px,#fafafd 126px,#ffffff 129px,#fffcfc 132px,#ffecec 135px,#ffdbdb 138px,#ffcccc 141px,#ffbdbd 144px,#ffafaf 147px,#ffa3a3 150px,#ff9898 153px,#ff8e8e 156px)"></i>
<i style="top:73px;height:1px;background:linear-gradient(90deg,#ff8383 0px,#ff8383 3px,#ff8686 6px,#ff8b8b 9px,#ff9494 12px,#ff9f9f 15px,#ffadad 18px,#ffbdbd 21px,#ffcfcf 24px,#ffe3e3 27px,#fff7f7 30px,#ffffff 33px,#ffffff 36px,#f4f3fa 39px,#e8e6f5 42px,#ddd9ef 45px,#d2cdea 48px,#c7c1e6 51px,#bdb6e1 54px,#b4abdd 57px,#aba1d9 60px,#a398d5 63px,#9b90d2 66px,#9589cf 69px,#8f83cc 72px,#8d80cb 75px,#8d80cb 78px,#8d80cb 81px,#8d80cb 84px,#8d80cb 87px,#8d80cb 90px,#8d80cb 93px,#8d80cb 96px,#8d80cb 99px,#8d80cb 102px,#9488ce 105px,#9e93d3 108px,#aba1d8 111px,#b9b1df 114px,#c8c2e6 117px,#d9d5ee 120px,#ebe9f6 123px,#fdfdfe 126px,#ffffff 129px,#fffafa 132px,#ffebeb 135px,#ffdbdb 138px,#ffcccc 141px,#ffbebe 144px,#ffb1b1 147px,#ffa5a5 150px,#ff9a9a 153px,#ff9191 156px)"></i>
<i style="top:74px;height:1px;background:linear-gradient(90deg,#ff8787 0px,#ff8787 3px,#ff8989 6px,#ff8f8f 9px,#ff9898 12px,#ffa4a4 15px,#ffb3b3 18px,#ffc4c4 21px,#ffd7d7 24px,#ffebeb 27px,#ffffff 30px,#ffffff 33px,#fcfcfe 36px,#f1eff8 39px,#e5e2f3 42px,#dad6ee 45px,#cfcae9 48px,#c5bfe5 51px,#bbb4e0 54px,#b2a9dc 57px,#aaa0d8 60px,#a297d4 63px,#9b8fd1 66px,#9589ce 69px,#8f83cc 72px,#8d80cb 75px,#8d80cb 78px,#8d80cb 81px,#8d80cb 84px,#8d80cb 87px,#8d80cb 90px,#8d80cb 93px,#8d80cb 96px,#8d80cb 99px,#8d80cb 102px,#958acf 105px,#a095d4 108px,#ada3d9 111px,#bbb3e0 114px,#cbc5e7 117px,#dcd8ef 120px,#eeecf7 123px,#ffffff 126px,#ffffff 129px,#fff9f9 132px,#ffeaea 135px,#ffdbdb 138px,#ffcdcd 141px,#ffbfbf 144px,#ffb2b2 147px,#ffa7a7 150px,#ff9c9c 153px,#ff9393 156px)"></i>
<i style="top:75px;height:1px;background:linear-gradient(90deg,#ff8a8a 0px,#ff8a8a 3px,#ff8c8c 6px,#ff9292 9px,#ff9c9c 12px,#ffa9a9 15px,#ffb9b9 18px,#ffcbcb 21px,#ffdfdf 24px,#fff3f3 27px,#ffffff 30px,#ffffff 33px,#faf9fd 36px,#eeecf7 39px,#e3e0f2 42px,#d8d4ed 45px,#cec8e9 48px,#c4bde4 51px,#bab2df 54px,#b1a8db 57px,#a99fd8 60px,#a196d4 63px,#9a8fd1 66px,#9488ce 69px,#8f82cc 72px,#8c7fca 75px,#8c7fca 78px,#8c7fca 81px,#8c7fca 84px,#8c7fca 87px,#8c7fca 90px,#8c7fca 93px,#8c7fca 96px,#8c7fca 99px,#8d81cb 102px,#968acf 105px,#a196d4 108px,#aea5da 111px,#bdb5e1 114px,#cdc7e8 117px,#dedaf0 120px,#f0eff8 123px,#ffffff 126px,#ffffff 129px,#fff9f9 132px,#ffeaea 135px,#ffdbdb 138px,#ffcece 141px,#ffc0c0 144px,#ffb4b4 147px,#ffa9a9 150px,#ff9f9f 153px,#ff9696 156px)"></i>
<i style="top:76px;height:1px;background:linear-gradient(90deg,#ff8c8c 0px,#ff8c8c 3px,#ff8f8f 6px,#ff9696 9px,#ffa0a0 12px,#ffaeae 15px,#ffbfbf 18px,#ffd2d2 21px,#ffe7e7 24px,#fffcfc 27px,#ffffff 30px,#ffffff 33px,#f7f6fb 36px,#eceaf6 39px,#e1def1 42px,#d6d2ec 45px,#ccc6e8 48px,#c2bbe3 51px,#b9b1df 54px,#b0a7db 57px,#a89ed7 60px,#a095d4 63px,#998ed1 66px,#9387ce 69px,#8e81cb 72px,#8b7eca 75px,#8b7eca 78px,#8b7eca 81px,#8b7eca 84px,#8b7eca 87px,#8b7eca 90px,#8b7eca 93px,#8b7eca 96px,#8b7eca 99px,#8e81cb 102px,#978bcf 105px,#a298d5 108px,#afa6db 111px,#beb7e1 114px,#cfc9e9 117px,#e0ddf1 120px,#f3f1f9 123px,#ffffff 126px,#ffffff 129px,#fff8f8 132px,#ffeaea 135px,#ffdcdc 138px,#ffcece 141px,#ffc2c2 144px,#ffb6b6 147px,#ffabab 150px,#ffa1a1 153px,#ff9898 156px)"></i>
<i style="top:77px;height:1px;background:linear-gradient(90deg,#ff8e8e 0px,#ff8e8e 3px,#ff9292 6px,#ff9999 9px,#ffa5a5 12px,#ffb4b4 15px,#ffc6c6 18px,#ffdada 21px,#fff0f0 24px,#ffffff 27px,#ffffff 30px,#ffffff 33px,#f5f3fa 36px,#eae7f5 39px,#dfdbf0 42px,#d4d0ec 45px,#cac4e7 48px,#c1b9e2 51px,#b7afde 54px,#afa6da 57px,#a79dd7 60px,#9f94d3 63px,#998dd0 66px,#9386ce 69px,#8d81cb 72px,#8a7dca 75px,#8a7dca 78px,#8a7dca 81px,#8a7dca 84px,#8a7dca 87px,#8a7dca 90px,#8a7dca 93px,#8a7dca 96px,#8a7dca 99px,#8e81cb 102px,#988cd0 105px,#a399d5 108px,#b1a8db 111px,#c0b9e2 114px,#d1ccea 117px,#e3dff2 120px,#f5f4fa 123px,#ffffff 126px,#ffffff 129px,#fff7f7 132px,#ffeaea 135px,#ffdcdc 138px,#ffcfcf 141px,#ffc3c3 144px,#ffb7b7 147px,#ffadad 150px,#ffa3a3 153px,#ff9b9b 156px)"></i>
<i style="top:78px;height:1px;background:linear-gradient(90deg,#ff9191 0px,#ff9191 3px,#ff9595 6px,#ff9d9d 9px,#ffaaaa 12px,#ffbaba 15px,#ffcdcd 18px,#ffe3e3 21px,#fff9f9 24px,#ffffff 27px,#ffffff 30px,#fdfdfe 33px,#f2f1f9 36px,#e7e5f4 39px,#ddd9ef 42px,#d3ceeb 45px,#c9c2e6 48px,#bfb8e2 51px,#b6aede 54px,#aea4da 57px,#a69cd6 60px,#9e93d3 63px,#988cd0 66px,#9286cd 69px,#8d80cb 72px,#8a7dc9 75px,#8a7dc9 78px,#8a7dc9 81px,#8a7dc9 84px,#8a7dc9 87px,#8a7dc9 90px,#8a7dc9 93px,#8a7dc9 96px,#8a7dc9 99px,#8f82cc 102px,#988dd0 105px,#a49ad6 108px,#b2aadc 111px,#c2bbe3 114px,#d3ceeb 117px,#e5e2f3 120px,#f7f7fc 123px,#ffffff 126px,#ffffff 129px,#fff7f7 132px,#ffe9e9 135px,#ffdddd 138px,#ffd0d0 141px,#ffc4c4 144px,#ffb9b9 147px,#ffafaf 150px,#ffa6a6 153px,#ff9e9e 156px)"></i>
<i style="top:79px;height:1px;background:linear-gradient(90deg,#ff9595 0px,#ff9595 3px,#ff9999 6px,#ffa2a2 9px,#ffafaf 12px,#ffc0c0 15px,#ffd5d5 18px,#ffebeb 21px,#ffffff 24px,#ffffff 27px,#ffffff 30px,#fcfcfe 33px,#f1f0f9 36px,#e7e4f4 39px,#dcd9ef 42px,#d2cdeb 45px,#c9c2e6 48px,#bfb8e2 51px,#b6aede 54px,#aea5da 57px,#a69cd6 60px,#9f94d3 63px,#998dd0 66px,#9387ce 69px,#8e81cb 72px,#8a7dca 75px,#8a7dca 78px,#8a7dca 81px,#8a7dca 84px,#8a7dca 87px,#8a7dca 90px,#8a7dca 93px,#8a7dca 96px,#8a7dca 99px,#9286cd 102px,#9c91d2 105px,#a89fd7 108px,#b6aede 111px,#c6bfe5 114px,#d6d2ec 117px,#e8e5f4 120px,#fafafd 123px,#ffffff 126px,#ffffff 129px,#fff6f6 132px,#ffe9e9 135px,#ffdddd 138px,#ffd1d1 141px,#ffc5c5 144px,#ffbbbb 147px,#ffb1b1 150px,#ffa8a8 153px,#ffa0a0 156px)"></i>
<i style="top:80px;height:1px;background:linear-gradient(90deg,#ff9b9b 0px,#ff9b9b 3px,#ff9e9e 6px,#ffa7a7 9px,#ffb5b5 12px,#ffc7c7 15px,#ffdcdc 18px,#fff4f4 21px,#ffffff 24px,#ffffff 27px,#ffffff 30px,#fcfcfe 33px,#f2f1f9 36px,#e8e5f4 39px,#dedaf0 42px,#d4cfeb 45px,#cac4e7 48px,#c1bae3 51px,#b8b0df 54px,#b0a7db 57px,#a89ed7 60px,#a197d4 63px,#9b8fd1 66px,#9589cf 69px,#9083cc 72px,#8b7eca 75px,#8b7eca 78px,#8b7eca 81px,#8b7eca 84px,#8b7eca 87px,#8b7eca 90px,#8b7eca 93px,#8b7eca 96px,#9083cc 99px,#988dd0 102px,#a398d5 105px,#afa6da 108px,#bcb5e1 111px,#cbc5e7 114px,#dbd7ef 117px,#ece9f6 120px,#fdfcfe 123px,#ffffff 126px,#ffffff 129px,#fff5f5 132px,#ffe9e9 135px,#ffdddd 138px,#ffd1d1 141px,#ffc7c7 144px,#ffbdbd 147px,#ffb3b3 150px,#ffabab 153px,#ffa3a3 156px)"></i>
<i style="top:81px;height:1px;background:linear-gradient(90deg,#ffa1a1 0px,#ffa1a1 3px,#ffa3a3 6px,#ffacac 9px,#ffbaba 12px,#ffcece 15px,#ffe4e4 18px,#fffdfd 21px,#ffffff 24px,#ffffff 27px,#ffffff 30px,#fdfdfe 33px,#f3f1f9 36px,#e9e6f5 39px,#dfdbf0 42px,#d5d0ec 45px,#ccc6e8 48px,#c3bce3 51px,#bab2df 54px,#b2a9dc 57px,#aaa1d8 60px,#a399d5 63px,#9d92d2 66px,#978bd0 69px,#9286cd 72px,#8e81cb 75px,#8d80cb 78px,#8d80cb 81px,#8d80cb 84px,#8d80cb 87px,#8d80cb 90px,#8d80cb 93px,#8e81cc 96px,#968acf 99px,#9f94d3 102px,#a99fd8 105px,#b5addd 108px,#c2bbe3 111px,#d0cbea 114px,#dfdcf1 117px,#efedf8 120px,#ffffff 123px,#ffffff 126px,#ffffff 129px,#fff4f4 132px,#ffe8e8 135px,#ffdddd 138px,#ffd2d2 141px,#ffc8c8 144px,#ffbebe 147px,#ffb5b5 150px,#ffadad 153px,#ffa6a6 156px)"></i>
<i style="top:82px;height:1px;background:linear-gradient(90deg,#ffa7a7 0px,#ffa7a7 3px,#ffa9a9 6px,#ffb1b1 9px,#ffc0c0 12px,#ffd5d5 15px,#ffeded 18px,#ffffff 21px,#ffffff 24px,#ffffff 27px,#ffffff 30px,#fdfdfe 33px,#f3f2fa 36px,#e9e7f5 39px,#e0dcf1 42px,#d6d2ec 45px,#cdc7e8 48px,#c4bee4 51px,#bcb4e0 54px,#b4abdd 57px,#aca3d9 60px,#a59bd6 63px,#9f94d3 66px,#998ed1 69px,#9488ce 72px,#9083cc 75px,#8e81cb 78px,#8e81cb 81px,#8e81cb 84px,#8e81cb 87px,#8e81cb 90px,#8e81cb 93px,#9487ce 96px,#9b90d1 99px,#a49ad6 102px,#afa6da 105px,#bbb3e0 108px,#c7c1e6 111px,#d5d0ec 114px,#e3e0f2 117px,#f2f0f9 120px,#ffffff 123px,#ffffff 126px,#fffefe 129px,#fff3f3 132px,#ffe8e8 135px,#ffdddd 138px,#ffd3d3 141px,#ffc9c9 144px,#ffc0c0 147px,#ffb8b8 150px,#ffb0b0 153px,#ffa9a9 156px)"></i>
<i style="top:83px;height:1px;background:linear-gradient(90deg,#ffa6a6 0px,#ffa6a6 3px,#ffa7a7 6px,#ffb0b0 9px,#ffc0c0 12px,#ffd5d5 15px,#ffefef 18px,#ffffff 21px,#ffffff 24px,#ffffff 27px,#ffffff 30px,#fdfdfe 33px,#f3f2fa 36px,#e9e7f5 39px,#dfdcf1 42px,#d6d1ec 45px,#cdc7e8 48px,#c4bde4 51px,#bbb4e0 54px,#b3abdc 57px,#aca2d9 60px,#a59bd6 63px,#9e93d3 66px,#998dd0 69px,#9387ce 72px,#8f82cc 75px,#8d80cb 78px,#8d80cb 81px,#8d80cb 84px,#8d80cb 87px,#8d80cb 90px,#8f82cc 93px,#968acf 96px,#9e93d3 99px,#a79dd7 102px,#b2a9dc 105px,#beb6e1 108px,#cac5e7 111px,#d8d4ed 114px,#e6e3f4 117px,#f4f3fa 120px,#ffffff 123px,#ffffff 126px,#fffdfd 129px,#fff1f1 132px,#ffe6e6 135px,#ffdbdb 138px,#ffd1d1 141px,#ffc7c7 144px,#ffbebe 147px,#ffb5b5 150px,#ffadad 153px,#ffa6a6 156px)"></i>
<i style="top:84px;height:1px;background:linear-gradient(90deg,#ff9d9d 0px,#ff9d9d 3px,#ff9f9f 6px,#ffa9a9 9px,#ffb9b9 12px,#ffcfcf 15px,#ffe8e8 18px,#ffffff 21px,#ffffff 24px,#ffffff 27px,#ffffff 30px,#fdfcfe 33px,#f2f1f9 36px,#e8e5f5 39px,#dedaf0 42px,#d4cfeb 45px,#cbc5e7 48px,#c2bbe3 51px,#b9b1df 54px,#b1a8db 57px,#a99fd8 60px,#a297d4 63px,#9b90d1 66px,#9589cf 69px,#9083cc 72px,#8b7eca 75px,#897cc9 78px,#897cc9 81px,#897cc9 84px,#897cc9 87px,#897cc9 90px,#8e81cb 93px,#9589cf 96px,#9e93d3 99px,#a89ed7 102px,#b3aadc 105px,#bfb8e2 108px,#ccc6e8 111px,#dad6ee 114px,#e8e6f5 117px,#f7f6fb 120px,#ffffff 123px,#ffffff 126px,#fffcfc 129px,#fff0f0 132px,#ffe3e3 135px,#ffd8d8 138px,#ffcccc 141px,#ffc2c2 144px,#ffb7b7 147px,#ffaeae 150px,#ffa6a6 153px,#ff9e9e 156px)"></i>
<i style="top:85px;height:1px;background:linear-gradient(90deg,#ff9494 0px,#ff9494 3px,#ff9797 6px,#ffa2a2 9px,#ffb2b2 12px,#ffc8c8 15px,#ffe2e2 18px,#fffefe 21px,#ffffff 24px,#ffffff 27px,#ffffff 30px,#fcfcfe 33px,#f1f0f9 36px,#e7e4f4 39px,#ddd9ef 42px,#d2cdeb 45px,#c9c3e6 48px,#bfb8e2 51px,#b6aede 54px,#aea5da 57px,#a69cd6 60px,#9e94d3 63px,#988cd0 66px,#9285cd 69px,#8c7fcb 72px,#887ac8 75px,#8678c8 78px,#8678c8 81px,#8678c8 84px,#8678c8 87px,#8678c8 90px,#8c80cb 93px,#9488ce 96px,#9e93d3 99px,#a89ed7 102px,#b4abdd 105px,#c1bae2 108px,#cec9e9 111px,#dcd8ef 114px,#ebe9f6 117px,#faf9fd 120px,#ffffff 123px,#ffffff 126px,#fffbfb 129px,#ffeded 132px,#ffe0e0 135px,#ffd4d4 138px,#ffc8c8 141px,#ffbcbc 144px,#ffb1b1 147px,#ffa7a7 150px,#ff9e9e 153px,#ff9696 156px)"></i>
<i style="top:86px;height:1px;background:linear-gradient(90deg,#ff8b8b 0px,#ff8b8b 3px,#ff8f8f 6px,#ff9b9b 9px,#ffacac 12px,#ffc2c2 15px,#ffdcdc 18px,#fff8f8 21px,#ffffff 24px,#ffffff 27px,#ffffff 30px,#fbfbfd 33px,#f0eff8 36px,#e6e3f3 39px,#dbd7ef 42px,#d1cbea 45px,#c7c0e5 48px,#bdb5e1 51px,#b4abdd 54px,#aba2d9 57px,#a398d5 60px,#9b90d2 63px,#9488ce 66px,#8e81cc 69px,#897bc9 72px,#8476c7 75px,#8274c6 78px,#8274c6 81px,#8274c6 84px,#8274c6 87px,#8477c7 90px,#8c7fca 93px,#9488ce 96px,#9e93d3 99px,#a99fd8 102px,#b5addd 105px,#c2bbe3 108px,#d0cbea 111px,#dfdbf0 114px,#eeecf7 117px,#fdfdfe 120px,#ffffff 123px,#ffffff 126px,#fff9f9 129px,#ffebeb 132px,#ffdddd 135px,#ffd0d0 138px,#ffc3c3 141px,#ffb7b7 144px,#ffabab 147px,#ffa0a0 150px,#ff9696 153px,#ff8d8d 156px)"></i>
<i style="top:87px;height:1px;background:linear-gradient(90deg,#ff8282 0px,#ff8282 3px,#ff8888 6px,#ff9393 9px,#ffa5a5 12px,#ffbbbb 15px,#ffd5d5 18px,#fff1f1 21px,#ffffff 24px,#ffffff 27px,#ffffff 30px,#fbfafd 33px,#efeef8 36px,#e4e1f3 39px,#d9d5ee 42px,#cfc9e9 45px,#c4bee4 48px,#bbb3e0 51px,#b1a8db 54px,#a89ed7 57px,#a095d4 60px,#988dd0 63px,#9185cd 66px,#8b7eca 69px,#8577c7 72px,#8072c5 75px,#7f70c5 78px,#7f70c5 81px,#7f70c5 84px,#7f70c5 87px,#8375c7 90px,#8b7eca 93px,#9488ce 96px,#9e93d3 99px,#aaa0d8 102px,#b6aede 105px,#c4bde4 108px,#d2cdeb 111px,#e1def1 114px,#f1eff8 117px,#ffffff 120px,#ffffff 123px,#ffffff 126px,#fff8f8 129px,#ffe9e9 132px,#ffdada 135px,#ffcccc 138px,#ffbebe 141px,#ffb1b1 144px,#ffa5a5 147px,#ff9999 150px,#ff8f8f 153px,#ff8585 156px)"></i>
<i style="top:88px;height:1px;background:linear-gradient(90deg,#ff7979 0px,#ff7a7a 3px,#ff8080 6px,#ff8c8c 9px,#ff9e9e 12px,#ffb5b5 15px,#ffcfcf 18px,#ffebeb 21px,#ffffff 24px,#ffffff 27px,#ffffff 30px,#faf9fd 33px,#eeedf7 36px,#e3e0f2 39px,#d8d3ed 42px,#cdc7e8 45px,#c2bce3 48px,#b8b0df 51px,#afa5da 54px,#a59bd6 57px,#9d92d2 60px,#9589cf 63px,#8e81cb 66px,#877ac8 69px,#8173c6 72px,#7c6ec3 75px,#7b6dc3 78px,#7b6dc3 81px,#7b6dc3 84px,#7b6dc3 87px,#8274c6 90px,#8a7dca 93px,#9488ce 96px,#9f94d3 99px,#aba1d9 102px,#b8b0df 105px,#c6bfe5 108px,#d5d0ec 111px,#e4e1f3 114px,#f3f2fa 117px,#ffffff 120px,#ffffff 123px,#ffffff 126px,#fff7f7 129px,#ffe7e7 132px,#ffd7d7 135px,#ffc8c8 138px,#ffb9b9 141px,#ffabab 144px,#ff9e9e 147px,#ff9292 150px,#ff8787 153px,#ff7d7d 156px)"></i>
<i style="top:89px;height:1px;background:linear-gradient(90deg,#ff7070 0px,#ff7171 3px,#ff7979 6px,#ff8686 9px,#ff9898 12px,#ffaeae 15px,#ffc8c8 18px,#ffe4e4 21px,#ffffff 24px,#ffffff 27px,#ffffff 30px,#f9f9fc 33px,#edebf7 36px,#e2def2 39px,#d6d2ec 42px,#cbc5e7 45px,#c0b9e2 48px,#b6aede 51px,#aca3d9 54px,#a398d5 57px,#9a8ed1 60px,#9285cd 63px,#8a7dca 66px,#8476c7 69px,#7e6fc4 72px,#796ac2 75px,#7869c1 78px,#7869c1 81px,#7869c1 84px,#7a6bc2 87px,#8173c6 90px,#8a7dca 93px,#9488ce 96px,#a095d3 99px,#aca3d9 102px,#bab2df 105px,#c8c2e6 108px,#d7d3ed 111px,#e7e4f4 114px,#f6f6fb 117px,#ffffff 120px,#ffffff 123px,#ffffff 126px,#fff5f5 129px,#ffe4e4 132px,#ffd4d4 135px,#ffc4c4 138px,#ffb4b4 141px,#ffa6a6 144px,#ff9898 147px,#ff8b8b 150px,#ff8080 153px,#ff7575 156px)"></i>
<i style="top:90px;height:1px;background:linear-gradient(90deg,#ff6767 0px,#ff6969 3px,#ff7171 6px,#ff7f7f 9px,#ff9191 12px,#ffa7a7 15px,#ffc1c1 18px,#ffdede 21px,#fffbfb 24px,#ffffff 27px,#ffffff 30px,#f8f8fc 33px,#eceaf6 36px,#e0ddf1 39px,#d5d0ec 42px,#c9c3e6 45px,#beb7e1 48px,#b3abdc 51px,#a9a0d8 54px,#a095d4 57px,#978bcf 60px,#8f82cc 63px,#8779c8 66px,#8072c5 69px,#7a6bc2 72px,#7565c0 75px,#7465c0 78px,#7465c0 81px,#7465c0 84px,#796ac2 87px,#8173c5 90px,#8a7dca 93px,#9589cf 96px,#a196d4 99px,#aea4da 102px,#bbb4e0 105px,#cac4e7 108px,#dad5ee 111px,#e9e7f5 114px,#faf9fd 117px,#ffffff 120px,#ffffff 123px,#ffffff 126px,#fff3f3 129px,#ffe2e2 132px,#ffd1d1 135px,#ffc0c0 138px,#ffb0b0 141px,#ffa0a0 144px,#ff9292 147px,#ff8484 150px,#ff7878 153px,#ff6d6d 156px)"></i>
<i style="top:91px;height:1px;background:linear-gradient(90deg,#ff5e5e 0px,#ff6161 3px,#ff6a6a 6px,#ff7878 9px,#ff8a8a 12px,#ffa1a1 15px,#ffbbbb 18px,#ffd7d7 21px,#fff5f5 24px,#ffffff 27px,#ffffff 30px,#f8f7fc 33px,#ebe9f6 36px,#dfdbf0 39px,#d3ceeb 42px,#c7c1e6 45px,#bcb4e0 48px,#b1a8db 51px,#a79dd7 54px,#9d92d2 57px,#9488ce 60px,#8b7eca 63px,#8476c7 66px,#7d6ec4 69px,#7767c1 72px,#7161be 75px,#7161be 78px,#7161be 81px,#7161be 84px,#7869c1 87px,#8072c5 90px,#8a7dca 93px,#9589cf 96px,#a297d4 99px,#afa6db 102px,#bdb6e1 105px,#cdc7e8 108px,#dcd8ef 111px,#eceaf7 114px,#fdfdfe 117px,#ffffff 120px,#ffffff 123px,#ffffff 126px,#fff1f1 129px,#ffdfdf 132px,#ffcdcd 135px,#ffbcbc 138px,#ffabab 141px,#ff9b9b 144px,#ff8b8b 147px,#ff7d7d 150px,#ff7070 153px,#ff6565 156px)"></i>
<i style="top:92px;height:1px;background:linear-gradient(90deg,#ff5555 0px,#ff5959 3px,#ff6262 6px,#ff7171 9px,#ff8383 12px,#ff9a9a 15px,#ffb4b4 18px,#ffd0d0 21px,#ffeeee 24px,#ffffff 27px,#ffffff 30px,#f7f6fb 33px,#eae8f5 36px,#dedaf0 39px,#d1ccea 42px,#c5bfe5 45px,#bab2df 48px,#aea5da 51px,#a49ad5 54px,#9a8ed1 57px,#9184cd 60px,#887bc9 63px,#8072c5 66px,#796ac2 69px,#7363bf 72px,#6d5dbd 75px,#6d5dbd 78px,#6d5dbd 81px,#705fbe 84px,#7768c1 87px,#8072c5 90px,#8b7dca 93px,#968acf 96px,#a399d5 99px,#b1a8db 102px,#c0b8e2 105px,#cfcae9 108px,#dfdcf0 111px,#f0eef8 114px,#ffffff 117px,#ffffff 120px,#ffffff 123px,#ffffff 126px,#fff0f0 129px,#ffdcdc 132px,#ffcaca 135px,#ffb7b7 138px,#ffa6a6 141px,#ff9595 144px,#ff8585 147px,#ff7676 150px,#ff6969 153px,#ff5d5d 156px)"></i>
<i style="top:93px;height:1px;background:linear-gradient(90deg,#ff5353 0px,#ff5757 3px,#ff6161 6px,#ff6f6f 9px,#ff8282 12px,#ff9898 15px,#ffb2b2 18px,#ffcece 21px,#ffebeb 24px,#ffffff 27px,#ffffff 30px,#f7f6fb 33px,#eae8f5 36px,#dedaf0 39px,#d1ccea 42px,#c5bfe5 45px,#bab2df 48px,#aea5da 51px,#a499d5 54px,#9a8ed1 57px,#9084cd 60px,#887ac9 63px,#8072c5 66px,#796ac2 69px,#7363bf 72px,#6d5dbc 75px,#6d5dbc 78px,#6d5dbc 81px,#7161be 84px,#796ac2 87px,#8274c6 90px,#8d80cb 93px,#998dd0 96px,#a69bd6 99px,#b3abdc 102px,#c2bbe3 105px,#d2ccea 108px,#e1def2 111px,#f2f0f9 114px,#ffffff 117px,#ffffff 120px,#ffffff 123px,#ffffff 126px,#ffefef 129px,#ffdcdc 132px,#ffc9c9 135px,#ffb7b7 138px,#ffa5a5 141px,#ff9494 144px,#ff8484 147px,#ff7575 150px,#ff6868 153px,#ff5b5b 156px)"></i>
<i style="top:94px;height:1px;background:linear-gradient(90deg,#ff5757 0px,#ff5b5b 3px,#ff6565 6px,#ff7373 9px,#ff8585 12px,#ff9b9b 15px,#ffb4b4 18px,#ffd0d0 21px,#ffecec 24px,#ffffff 27px,#ffffff 30px,#f8f7fc 33px,#ebe9f6 36px,#dfdbf0 39px,#d3ceeb 42px,#c7c1e5 45px,#bcb4e0 48px,#b1a8db 51px,#a69cd6 54px,#9c91d2 57px,#9387ce 60px,#8b7eca 63px,#8375c6 66px,#7c6dc3 69px,#7667c0 72px,#7161be 75px,#7060be 78px,#7060be 81px,#7666c0 84px,#7d6fc4 87px,#8779c8 90px,#9184cd 93px,#9c91d2 96px,#a99fd8 99px,#b7aede 102px,#c5bee4 105px,#d4cfeb 108px,#e3e0f2 111px,#f3f2fa 114px,#ffffff 117px,#ffffff 120px,#ffffff 123px,#ffffff 126px,#fff1f1 129px,#ffdede 132px,#ffcccc 135px,#ffbaba 138px,#ffa8a8 141px,#ff9898 144px,#ff8888 147px,#ff7a7a 150px,#ff6d6d 153px,#ff6161 156px)"></i>
<i style="top:95px;height:1px;background:linear-gradient(90deg,#ff5b5b 0px,#ff5f5f 3px,#ff6969 6px,#ff7777 9px,#ff8989 12px,#ff9e9e 15px,#ffb7b7 18px,#ffd1d1 21px,#ffeded 24px,#ffffff 27px,#ffffff 30px,#f8f8fc 33px,#eceaf6 36px,#e0ddf1 39px,#d4d0ec 42px,#c9c3e6 45px,#beb6e1 48px,#b3aadc 51px,#a99fd8 54px,#9f94d3 57px,#968acf 60px,#8e81cb 63px,#8679c8 66px,#7f71c5 69px,#796ac2 72px,#7464c0 75px,#7364bf 78px,#7364bf 81px,#7a6bc2 84px,#8273c6 87px,#8b7dca 90px,#9589cf 93px,#a095d4 96px,#aca3d9 99px,#bab2df 102px,#c7c1e6 105px,#d6d1ec 108px,#e5e2f3 111px,#f4f3fa 114px,#ffffff 117px,#ffffff 120px,#ffffff 123px,#ffffff 126px,#fff2f2 129px,#ffe0e0 132px,#ffcece 135px,#ffbdbd 138px,#ffacac 141px,#ff9c9c 144px,#ff8d8d 147px,#ff7f7f 150px,#ff7272 153px,#ff6666 156px)"></i>
<i style="top:96px;height:1px;background:linear-gradient(90deg,#ff5f5f 0px,#ff6464 3px,#ff6d6d 6px,#ff7b7b 9px,#ff8c8c 12px,#ffa1a1 15px,#ffb9b9 18px,#ffd3d3 21px,#ffeeee 24px,#ffffff 27px,#ffffff 30px,#f9f8fc 33px,#edebf7 36px,#e1def2 39px,#d6d1ec 42px,#cbc5e7 45px,#c0b8e2 48px,#b5addd 51px,#aba2d9 54px,#a297d4 57px,#998dd0 60px,#9184cd 63px,#897cc9 66px,#8375c6 69px,#7d6ec4 72px,#7768c1 75px,#7767c1 78px,#7768c1 81px,#7e6fc4 84px,#8678c8 87px,#8f82cc 90px,#998dd0 93px,#a499d5 96px,#b0a7db 99px,#bcb5e1 102px,#cac4e7 105px,#d8d4ed 108px,#e6e4f4 111px,#f5f4fb 114px,#ffffff 117px,#ffffff 120px,#ffffff 123px,#ffffff 126px,#fff3f3 129px,#ffe2e2 132px,#ffd0d0 135px,#ffc0c0 138px,#ffafaf 141px,#ffa0a0 144px,#ff9191 147px,#ff8383 150px,#ff7777 153px,#ff6c6c 156px)"></i>
<i style="top:97px;height:1px;background:linear-gradient(90deg,#ff6363 0px,#ff6868 3px,#ff7171 6px,#ff7e7e 9px,#ff9090 12px,#ffa4a4 15px,#ffbbbb 18px,#ffd5d5 21px,#ffefef 24px,#ffffff 27px,#ffffff 30px,#faf9fd 33px,#eeecf7 36px,#e3dff2 39px,#d7d3ed 42px,#ccc7e8 45px,#c2bbe3 48px,#b7afde 51px,#aea4da 54px,#a49ad6 57px,#9c90d2 60px,#9488ce 63px,#8c7fcb 66px,#8678c8 69px,#8072c5 72px,#7b6cc3 75px,#7a6bc2 78px,#7c6dc3 81px,#8274c6 84px,#8a7dca 87px,#9386ce 90px,#9c91d2 93px,#a79dd7 96px,#b3aadc 99px,#bfb8e2 102px,#ccc7e8 105px,#dad6ee 108px,#e8e5f5 111px,#f6f5fb 114px,#ffffff 117px,#ffffff 120px,#ffffff 123px,#ffffff 126px,#fff5f5 129px,#ffe4e4 132px,#ffd3d3 135px,#ffc2c2 138px,#ffb3b3 141px,#ffa4a4 144px,#ff9595 147px,#ff8888 150px,#ff7c7c 153px,#ff7171 156px)"></i>
<i style="top:98px;height:1px;background:linear-gradient(90deg,#ff6767 0px,#ff6c6c 3px,#ff7575 6px,#ff8282 9px,#ff9393 12px,#ffa7a7 15px,#ffbebe 18px,#ffd6d6 21px,#fff0f0 24px,#ffffff 27px,#ffffff 30px,#fbfafd 33px,#efedf8 36px,#e4e1f3 39px,#d9d5ee 42px,#cec9e9 45px,#c4bde4 48px,#bab2df 51px,#b0a7db 54px,#a79dd7 57px,#9e94d3 60px,#978bcf 63px,#8f83cc 66px,#897cc9 69px,#8375c7 72px,#7e70c4 75px,#7d6ec4 78px,#8071c5 81px,#8679c8 84px,#8e81cb 87px,#978bcf 90px,#a095d4 93px,#aba1d9 96px,#b6aede 99px,#c2bbe3 102px,#cfc9e9 105px,#dcd8ef 108px,#eae7f5 111px,#f7f6fb 114px,#ffffff 117px,#ffffff 120px,#ffffff 123px,#ffffff 126px,#fff6f6 129px,#ffe5e5 132px,#ffd5d5 135px,#ffc5c5 138px,#ffb6b6 141px,#ffa7a7 144px,#ff9a9a 147px,#ff8d8d 150px,#ff8181 153px,#ff7676 156px)"></i>
<i style="top:99px;height:1px;background:linear-gradient(90deg,#ff6b6b 0px,#ff7070 3px,#ff7979 6px,#ff8686 9px,#ff9696 12px,#ffaaaa 15px,#ffc0c0 18px,#ffd8d8 21px,#fff1f1 24px,#ffffff 27px,#ffffff 30px,#fbfbfd 33px,#f0eef8 36px,#e5e2f3 39px,#dad6ee 42px,#d0cae9 45px,#c6bfe5 48px,#bcb4e0 51px,#b2aadc 54px,#a9a0d8 57px,#a197d4 60px,#9a8ed1 63px,#9286cd 66px,#8c7fcb 69px,#8679c8 72px,#8273c6 75px,#8072c5 78px,#8476c7 81px,#8a7dca 84px,#9286cd 87px,#9a8fd1 90px,#a499d5 93px,#aea5da 96px,#b9b1df 99px,#c5bee4 102px,#d1ccea 105px,#dedaf0 108px,#ebe9f6 111px,#f8f7fc 114px,#ffffff 117px,#ffffff 120px,#ffffff 123px,#ffffff 126px,#fff7f7 129px,#ffe7e7 132px,#ffd7d7 135px,#ffc8c8 138px,#ffb9b9 141px,#ffabab 144px,#ff9e9e 147px,#ff9191 150px,#ff8686 153px,#ff7c7c 156px)"></i>
<i style="top:100px;height:1px;background:linear-gradient(90deg,#ff6f6f 0px,#ff7474 3px,#ff7d7d 6px,#ff8a8a 9px,#ff9a9a 12px,#ffadad 15px,#ffc2c2 18px,#ffd9d9 21px,#fff2f2 24px,#ffffff 27px,#ffffff 30px,#fcfbfe 33px,#f1eff9 36px,#e6e4f4 39px,#dcd8ef 42px,#d1ccea 45px,#c7c1e6 48px,#beb7e1 51px,#b5acdd 54px,#aca3d9 57px,#a49ad5 60px,#9c91d2 63px,#968acf 66px,#8f83cc 69px,#8a7dc9 72px,#8577c7 75px,#8375c7 78px,#887bc9 81px,#8e82cc 84px,#968acf 87px,#9e93d3 90px,#a79dd7 93px,#b1a8dc 96px,#bcb4e0 99px,#c7c1e6 102px,#d3ceeb 105px,#e0dcf1 108px,#eceaf6 111px,#f9f8fc 114px,#ffffff 117px,#ffffff 120px,#ffffff 123px,#ffffff 126px,#fff8f8 129px,#ffe9e9 132px,#ffd9d9 135px,#ffcbcb 138px,#ffbcbc 141px,#ffafaf 144px,#ffa2a2 147px,#ff9696 150px,#ff8b8b 153px,#ff8181 156px)"></i>
<i style="top:101px;height:1px;background:linear-gradient(90deg,#ff7373 0px,#ff7878 3px,#ff8181 6px,#ff8d8d 9px,#ff9d9d 12px,#ffb0b0 15px,#ffc4c4 18px,#ffdbdb 21px,#fff2f2 24px,#ffffff 27px,#ffffff 30px,#fcfcfe 33px,#f2f0f9 36px,#e7e5f4 39px,#ddd9f0 42px,#d3ceeb 45px,#c9c3e7 48px,#c0b9e2 51px,#b7afde 54px,#afa5da 57px,#a79dd7 60px,#9f94d3 63px,#998dd0 66px,#9286cd 69px,#8d80cb 72px,#887bc9 75px,#8779c8 78px,#8c7fcb 81px,#9286cd 84px,#9a8ed1 87px,#a297d4 90px,#aba1d9 93px,#b4acdd 96px,#bfb8e2 99px,#cac4e7 102px,#d5d1ec 105px,#e1def1 108px,#eeecf7 111px,#faf9fd 114px,#ffffff 117px,#ffffff 120px,#ffffff 123px,#ffffff 126px,#fff9f9 129px,#ffeaea 132px,#ffdcdc 135px,#ffcdcd 138px,#ffc0c0 141px,#ffb3b3 144px,#ffa6a6 147px,#ff9b9b 150px,#ff9090 153px,#ff8686 156px)"></i>
<i style="top:102px;height:1px;background:linear-gradient(90deg,#ff7777 0px,#ff7c7c 3px,#ff8585 6px,#ff9191 9px,#ffa0a0 12px,#ffb2b2 15px,#ffc7c7 18px,#ffdcdc 21px,#fff3f3 24px,#ffffff 27px,#ffffff 30px,#fdfdfe 33px,#f3f1f9 36px,#e9e6f5 39px,#dfdbf0 42px,#d5d0ec 45px,#cbc5e7 48px,#c2bbe3 51px,#b9b1df 54px,#b1a8db 57px,#a9a0d8 60px,#a298d5 63px,#9c90d2 66px,#968acf 69px,#9084cc 72px,#8c7fca 75px,#8b7eca 78px,#9084cc 81px,#968bcf 84px,#9d92d2 87px,#a59bd6 90px,#aea5da 93px,#b8b0de 96px,#c2bbe3 99px,#ccc7e8 102px,#d7d3ed 105px,#e3e0f2 108px,#efedf8 111px,#fbfafd 114px,#ffffff 117px,#ffffff 120px,#ffffff 123px,#ffffff 126px,#fffafa 129px,#ffecec 132px,#ffdede 135px,#ffd0d0 138px,#ffc3c3 141px,#ffb6b6 144px,#ffaaaa 147px,#ff9f9f 150px,#ff9595 153px,#ff8c8c 156px)"></i>
<i style="top:103px;height:1px;background:linear-gradient(90deg,#ff7d7d 0px,#ff8282 3px,#ff8b8b 6px,#ff9797 9px,#ffa7a7 12px,#ffb9b9 15px,#ffcdcd 18px,#ffe3e3 21px,#fffafa 24px,#ffffff 27px,#ffffff 30px,#fefefe 33px,#f4f2fa 36px,#eae7f5 39px,#e0dcf1 42px,#d6d2ec 45px,#cdc7e8 48px,#c4bee4 51px,#bcb4e0 54px,#b4abdd 57px,#aca3d9 60px,#a59bd6 63px,#9f94d3 66px,#998dd0 69px,#9488ce 72px,#8f83cc 75px,#8e82cc 78px,#9487ce 81px,#9a8ed1 84px,#a096d4 87px,#a89ed7 90px,#b0a8db 93px,#b9b2df 96px,#c3bce4 99px,#cdc8e8 102px,#d8d4ed 105px,#e3e0f2 108px,#efedf8 111px,#fafafd 114px,#ffffff 117px,#ffffff 120px,#ffffff 123px,#ffffff 126px,#fffdfd 129px,#ffefef 132px,#ffe2e2 135px,#ffd5d5 138px,#ffc8c8 141px,#ffbcbc 144px,#ffb0b0 147px,#ffa5a5 150px,#ff9b9b 153px,#ff9292 156px)"></i>
<i style="top:104px;height:1px;background:linear-gradient(90deg,#ff8484 0px,#ff8a8a 3px,#ff9393 6px,#ffa1a1 9px,#ffb1b1 12px,#ffc4c4 15px,#ffd9d9 18px,#ffefef 21px,#ffffff 24px,#ffffff 27px,#ffffff 30px,#fefeff 33px,#f5f3fa 36px,#ebe9f6 39px,#e1def1 42px,#d8d4ed 45px,#cfcae9 48px,#c6c0e5 51px,#beb7e1 54px,#b6aede 57px,#afa6da 60px,#a89ed7 63px,#a298d5 66px,#9c91d2 69px,#988cd0 72px,#9387ce 75px,#9386cd 78px,#978bcf 81px,#9c91d2 84px,#a398d5 87px,#aaa0d8 90px,#b2a9dc 93px,#bab3e0 96px,#c4bde4 99px,#cdc8e8 102px,#d8d3ed 105px,#e2dff2 108px,#edebf7 111px,#f8f8fc 114px,#ffffff 117px,#ffffff 120px,#ffffff 123px,#ffffff 126px,#ffffff 129px,#fff5f5 132px,#ffe8e8 135px,#ffdbdb 138px,#ffcece 141px,#ffc3c3 144px,#ffb7b7 147px,#ffadad 150px,#ffa3a3 153px,#ff9a9a 156px)"></i>
<i style="top:105px;height:1px;background:linear-gradient(90deg,#ff8c8c 0px,#ff9292 3px,#ff9c9c 6px,#ffaaaa 9px,#ffbbbb 12px,#ffcfcf 15px,#ffe5e5 18px,#fffbfb 21px,#ffffff 24px,#ffffff 27px,#ffffff 30px,#ffffff 33px,#f6f4fb 36px,#eceaf6 39px,#e3e0f2 42px,#dad6ee 45px,#d1ccea 48px,#c9c2e6 51px,#c1b9e2 54px,#b9b1df 57px,#b2a9dc 60px,#aba2d9 63px,#a59bd6 66px,#a095d4 69px,#9b90d2 72px,#978cd0 75px,#978cd0 78px,#9a8fd1 81px,#9f94d3 84px,#a59bd6 87px,#aca2d9 90px,#b3abdc 93px,#bbb4e0 96px,#c4bee4 99px,#cec8e8 102px,#d7d3ed 105px,#e2def2 108px,#eceaf6 111px,#f7f6fb 114px,#ffffff 117px,#ffffff 120px,#ffffff 123px,#ffffff 126px,#ffffff 129px,#fffafa 132px,#ffeded 135px,#ffe1e1 138px,#ffd5d5 141px,#ffc9c9 144px,#ffbebe 147px,#ffb4b4 150px,#ffabab 153px,#ffa2a2 156px)"></i>
<i style="top:106px;height:1px;background:linear-gradient(90deg,#ff9494 0px,#ff9a9a 3px,#ffa5a5 6px,#ffb4b4 9px,#ffc6c6 12px,#ffdada 15px,#fff1f1 18px,#ffffff 21px,#ffffff 24px,#ffffff 27px,#ffffff 30px,#ffffff 33px,#f6f5fb 36px,#edebf7 39px,#e4e1f3 42px,#dbd7ef 45px,#d3ceeb 48px,#cbc5e7 51px,#c3bce4 54px,#bcb4e0 57px,#b5acdd 60px,#afa6da 63px,#a99fd8 66px,#a49ad5 69px,#9f95d3 72px,#9c91d2 75px,#9c91d2 78px,#9e93d3 81px,#a298d5 84px,#a89ed7 87px,#aea5da 90px,#b5addd 93px,#bdb5e1 96px,#c5bfe5 99px,#cec8e9 102px,#d7d3ed 105px,#e1def1 108px,#ebe9f6 111px,#f5f4fb 114px,#ffffff 117px,#ffffff 120px,#ffffff 123px,#ffffff 126px,#ffffff 129px,#fffefe 132px,#fff2f2 135px,#ffe7e7 138px,#ffdbdb 141px,#ffd0d0 144px,#ffc5c5 147px,#ffbcbc 150px,#ffb2b2 153px,#ffaaaa 156px)"></i>
<i style="top:107px;height:1px;background:linear-gradient(90deg,#ff9c9c 0px,#ffa3a3 3px,#ffaeae 6px,#ffbebe 9px,#ffd1d1 12px,#ffe6e6 15px,#fffdfd 18px,#ffffff 21px,#ffffff 24px,#ffffff 27px,#ffffff 30px,#ffffff 33px,#f7f6fb 36px,#eeedf7 39px,#e6e3f3 42px,#ddd9f0 45px,#d5d0ec 48px,#cdc7e8 51px,#c5bfe5 54px,#beb7e2 57px,#b8b0df 60px,#b2a9dc 63px,#aca3d9 66px,#a89ed7 69px,#a399d5 72px,#a197d4 75px,#a197d4 78px,#a197d4 81px,#a59bd6 84px,#aba1d8 87px,#b0a7db 90px,#b7afde 93px,#beb7e1 96px,#c6c0e5 99px,#cec9e9 102px,#d7d3ed 105px,#e1ddf1 108px,#eae8f6 111px,#f4f3fa 114px,#fefeff 117px,#ffffff 120px,#ffffff 123px,#ffffff 126px,#ffffff 129px,#ffffff 132px,#fff7f7 135px,#ffecec 138px,#ffe1e1 141px,#ffd6d6 144px,#ffcccc 147px,#ffc3c3 150px,#ffbaba 153px,#ffb2b2 156px)"></i>
<i style="top:108px;height:1px;background:linear-gradient(90deg,#ffa5a5 0px,#ffacac 3px,#ffb8b8 6px,#ffc9c9 9px,#ffdcdc 12px,#fff2f2 15px,#ffffff 18px,#ffffff 21px,#ffffff 24px,#ffffff 27px,#ffffff 30px,#ffffff 33px,#fbfafd 36px,#f2f1f9 39px,#e9e7f5 42px,#e1def1 45px,#d9d5ee 48px,#d1ccea 51px,#cac4e7 54px,#c3bce4 57px,#bdb5e1 60px,#b7aede 63px,#b1a9dc 66px,#ada3d9 69px,#a99fd8 72px,#a79dd7 75px,#a79dd7 78px,#a79dd7 81px,#aba1d8 84px,#afa6db 87px,#b5addd 90px,#bbb4e0 93px,#c2bbe3 96px,#cac4e7 99px,#d2cdea 102px,#dad6ee 105px,#e3e0f2 108px,#eceaf6 111px,#f6f4fb 114px,#ffffff 117px,#ffffff 120px,#ffffff 123px,#ffffff 126px,#ffffff 129px,#ffffff 132px,#fffbfb 135px,#fff0f0 138px,#ffe6e6 141px,#ffdcdc 144px,#ffd2d2 147px,#ffc9c9 150px,#ffc1c1 153px,#ffb9b9 156px)"></i>
<i style="top:109px;height:1px;background:linear-gradient(90deg,#ffafaf 0px,#ffb6b6 3px,#ffc3c3 6px,#ffd4d4 9px,#ffe8e8 12px,#fffefe 15px,#ffffff 18px,#ffffff 21px,#ffffff 24px,#ffffff 27px,#ffffff 30px,#ffffff 33px,#ffffff 36px,#f8f7fc 39px,#f0eef8 42px,#e7e5f4 45px,#dfdcf0 48px,#d7d3ed 51px,#d0cbea 54px,#c9c3e6 57px,#c3bce3 60px,#bdb5e1 63px,#b7afde 66px,#b3aadc 69px,#afa6da 72px,#aca3d9 75px,#aca3d9 78px,#ada4da 81px,#b1a9dc 84px,#b6aede 87px,#bcb4e0 90px,#c2bbe3 93px,#c8c2e6 96px,#cfcae9 99px,#d7d3ed 102px,#dfdcf0 105px,#e8e5f4 108px,#f0eff8 111px,#f9f8fc 114px,#ffffff 117px,#ffffff 120px,#ffffff 123px,#ffffff 126px,#ffffff 129px,#ffffff 132px,#fffdfd 135px,#fff3f3 138px,#ffe9e9 141px,#ffe0e0 144px,#ffd7d7 147px,#ffcfcf 150px,#ffc7c7 153px,#ffc0c0 156px)"></i>
<i style="top:110px;height:1px;background:linear-gradient(90deg,#ffbaba 0px,#ffc0c0 3px,#ffcdcd 6px,#ffdfdf 9px,#fff4f4 12px,#ffffff 15px,#ffffff 18px,#ffffff 21px,#ffffff 24px,#ffffff 27px,#ffffff 30px,#ffffff 33px,#ffffff 36px,#fefdfe 39px,#f5f4fb 42px,#edebf7 45px,#e5e2f3 48px,#dedaf0 51px,#d6d2ec 54px,#cfcae9 57px,#c9c3e6 60px,#c3bce4 63px,#beb6e1 66px,#b9b1df 69px,#b5acdd 72px,#b2a9dc 75px,#b2a9dc 78px,#b4acdd 81px,#b8b0df 84px,#bdb5e1 87px,#c2bbe3 90px,#c8c2e6 93px,#cec9e9 96px,#d5d0ec 99px,#dcd8ef 102px,#e4e1f3 105px,#eceaf6 108px,#f4f3fa 111px,#fcfcfe 114px,#ffffff 117px,#ffffff 120px,#ffffff 123px,#ffffff 126px,#ffffff 129px,#ffffff 132px,#ffffff 135px,#fff6f6 138px,#ffeded 141px,#ffe4e4 144px,#ffdcdc 147px,#ffd5d5 150px,#ffcece 153px,#ffc8c8 156px)"></i>
<i style="top:111px;height:1px;background:linear-gradient(90deg,#ffc4c4 0px,#ffcbcb 3px,#ffd8d8 6px,#ffebeb 9px,#ffffff 12px,#ffffff 15px,#ffffff 18px,#ffffff 21px,#ffffff 24px,#ffffff 27px,#ffffff 30px,#ffffff 33px,#ffffff 36px,#ffffff 39px,#fbfbfd 42px,#f3f2fa 45px,#ebe9f6 48px,#e4e0f2 51px,#dcd8ef 54px,#d5d1ec 57px,#cfc9e9 60px,#c9c3e6 63px,#c4bde4 66px,#bfb8e2 69px,#bbb3e0 72px,#b7afde 75px,#b7afde 78px,#bbb3e0 81px,#bfb7e2 84px,#c3bce4 87px,#c8c2e6 90px,#cec8e9 93px,#d4cfeb 96px,#dad6ee 99px,#e1def1 102px,#e8e6f5 105px,#f0eef8 108px,#f7f6fc 111px,#ffffff 114px,#ffffff 117px,#ffffff 120px,#ffffff 123px,#ffffff 126px,#ffffff 129px,#ffffff 132px,#ffffff 135px,#fff8f8 138px,#fff0f0 141px,#ffe9e9 144px,#ffe1e1 147px,#ffdbdb 150px,#ffd5d5 153px,#ffd0d0 156px)"></i>
<i style="top:112px;height:1px;background:linear-gradient(90deg,#ffcece 0px,#ffd5d5 3px,#ffe3e3 6px,#fff6f6 9px,#ffffff 12px,#ffffff 15px,#ffffff 18px,#ffffff 21px,#ffffff 24px,#ffffff 27px,#ffffff 30px,#ffffff 33px,#ffffff 36px,#ffffff 39px,#ffffff 42px,#f9f8fc 45px,#f1eff9 48px,#e9e7f5 51px,#e2dff2 54px,#dbd7ef 57px,#d5d0ec 60px,#cfcae9 63px,#cac4e7 66px,#c5bee4 69px,#c1bae3 72px,#bdb6e1 75px,#beb7e1 78px,#c1bae3 81px,#c5bee5 84px,#c9c3e6 87px,#cec9e9 90px,#d3ceeb 93px,#d9d5ee 96px,#dfdcf1 99px,#e6e3f3 102px,#eceaf7 105px,#f3f2fa 108px,#fafafd 111px,#ffffff 114px,#ffffff 117px,#ffffff 120px,#ffffff 123px,#ffffff 126px,#ffffff 129px,#ffffff 132px,#ffffff 135px,#fffbfb 138px,#fff4f4 141px,#ffeded 144px,#ffe7e7 147px,#ffe1e1 150px,#ffdcdc 153px,#ffd8d8 156px)"></i>
<i style="top:113px;height:1px;background:linear-gradient(90deg,#ffd9d9 0px,#ffe2e2 3px,#fff1f1 6px,#ffffff 9px,#ffffff 12px,#ffffff 15px,#ffffff 18px,#ffffff 21px,#ffffff 24px,#ffffff 27px,#ffffff 30px,#ffffff 33px,#ffffff 36px,#ffffff 39px,#ffffff 42px,#fcfbfd 45px,#f4f3fa 48px,#edebf7 51px,#e7e4f4 54px,#e0ddf1 57px,#dad6ee 60px,#d4d0ec 63px,#cfcae9 66px,#cbc5e7 69px,#c7c1e5 72px,#c4bde4 75px,#c3bde4 78px,#c6bfe5 81px,#c9c3e6 84px,#cdc7e8 87px,#d1ccea 90px,#d6d1ec 93px,#dbd7ef 96px,#e1ddf1 99px,#e6e4f4 102px,#eceaf7 105px,#f3f1f9 108px,#f9f8fc 111px,#ffffff 114px,#ffffff 117px,#ffffff 120px,#ffffff 123px,#ffffff 126px,#ffffff 129px,#ffffff 132px,#ffffff 135px,#ffffff 138px,#fffafa 141px,#fff4f4 144px,#ffeeee 147px,#ffe9e9 150px,#ffe5e5 153px,#ffe1e1 156px)"></i>
<i style="top:114px;height:1px;background:linear-gradient(90deg,#ffe6e6 0px,#fff0f0 3px,#fffefe 6px,#ffffff 9px,#ffffff 12px,#ffffff 15px,#ffffff 18px,#ffffff 21px,#ffffff 24px,#ffffff 27px,#ffffff 30px,#ffffff 33px,#ffffff 36px,#ffffff 39px,#ffffff 42px,#fcfcfe 45px,#f6f5fb 48px,#f0eef8 51px,#eae7f5 54px,#e4e1f3 57px,#dedbf0 60px,#d9d5ee 63px,#d5d0ec 66px,#d1ccea 69px,#cdc8e8 72px,#cbc5e7 75px,#cac4e7 78px,#cac4e7 81px,#ccc6e8 84px,#cfcae9 87px,#d2cdeb 90px,#d6d2ec 93px,#dbd6ee 96px,#dfdcf0 99px,#e4e1f3 102px,#eae7f5 105px,#efedf8 108px,#f5f4fa 111px,#fbfafd 114px,#ffffff 117px,#ffffff 120px,#ffffff 123px,#ffffff 126px,#ffffff 129px,#ffffff 132px,#ffffff 135px,#ffffff 138px,#ffffff 141px,#fffbfb 144px,#fff6f6 147px,#fff2f2 150px,#ffeded 153px,#ffeaea 156px)"></i>
<i style="top:115px;height:1px;background:linear-gradient(90deg,#fff2f2 0px,#fffcfc 3px,#ffffff 6px,#ffffff 9px,#ffffff 12px,#ffffff 15px,#ffffff 18px,#ffffff 21px,#ffffff 24px,#ffffff 27px,#ffffff 30px,#ffffff 33px,#ffffff 36px,#ffffff 39px,#ffffff 42px,#fdfdfe 45px,#f7f7fc 48px,#f2f0f9 51px,#edeaf7 54px,#e7e5f4 57px,#e3dff2 60px,#dedbf0 63px,#dad6ee 66px,#d7d2ed 69px,#d4cfeb 72px,#d1ccea 75px,#d1ccea 78px,#d1ccea 81px,#d1ccea 84px,#d2cdeb 87px,#d5d0ec 90px,#d8d4ed 93px,#dbd7ef 96px,#dfdcf1 99px,#e3e0f2 102px,#e8e5f4 105px,#edebf7 108px,#f2f0f9 111px,#f7f6fb 114px,#fcfcfe 117px,#ffffff 120px,#ffffff 123px,#ffffff 126px,#ffffff 129px,#ffffff 132px,#ffffff 135px,#ffffff 138px,#ffffff 141px,#ffffff 144px,#fffdfd 147px,#fff9f9 150px,#fff5f5 153px,#fff2f2 156px)"></i>
<i style="top:116px;height:1px;background:linear-gradient(90deg,#fffbfb 0px,#ffffff 3px,#ffffff 6px,#ffffff 9px,#ffffff 12px,#ffffff 15px,#ffffff 18px,#ffffff 21px,#ffffff 24px,#ffffff 27px,#ffffff 30px,#ffffff 33px,#ffffff 36px,#ffffff 39px,#ffffff 42px,#fefefe 45px,#f9f8fc 48px,#f4f3fa 51px,#f0eef8 54px,#ebe9f6 57px,#e7e4f4 60px,#e3e0f2 63px,#e0dcf1 66px,#ddd9ef 69px,#dad6ee 72px,#d8d4ed 75px,#d8d4ed 78px,#d8d4ed 81px,#d8d4ed 84px,#d8d4ed 87px,#d9d5ee 90px,#dbd7ef 93px,#dedaf0 96px,#e1ddf1 99px,#e4e1f3 102px,#e8e5f4 105px,#eceaf6 108px,#f0eef8 111px,#f4f3fa 114px,#f9f8fc 117px,#fefdfe 120px,#ffffff 123px,#ffffff 126px,#ffffff 129px,#ffffff 132px,#ffffff 135px,#ffffff 138px,#ffffff 141px,#ffffff 144px,#ffffff 147px,#fffefe 150px,#fffbfb 153px,#fff9f9 156px)"></i>
<i style="top:117px;height:1px;background:linear-gradient(90deg,#ffffff 0px,#ffffff 3px,#ffffff 6px,#ffffff 9px,#ffffff 12px,#ffffff 15px,#ffffff 18px,#ffffff 21px,#ffffff 24px,#ffffff 27px,#ffffff 30px,#ffffff 33px,#ffffff 36px,#ffffff 39px,#ffffff 42px,#fefeff 45px,#fafafd 48px,#f6f5fb 51px,#f2f1f9 54px,#efedf8 57px,#ebe9f6 60px,#e8e6f5 63px,#e5e3f3 66px,#e3e0f2 69px,#e1def1 72px,#dfdcf1 75px,#dfdcf1 78px,#dfdcf1 81px,#dfdcf1 84px,#dfdcf1 87px,#dfdcf1 90px,#e0dcf1 93px,#e1def1 96px,#e3e0f2 99px,#e6e3f4 102px,#e9e6f5 105px,#eceaf6 108px,#efeef8 111px,#f3f2f9 114px,#f7f6fb 117px,#fbfafd 120px,#ffffff 123px,#ffffff 126px,#ffffff 129px,#ffffff 132px,#ffffff 135px,#ffffff 138px,#ffffff 141px,#ffffff 144px,#ffffff 147px,#ffffff 150px,#ffffff 153px,#fffefe 156px)"></i>
<i style="top:118px;height:1px;background:linear-gradient(90deg,#ffffff 0px,#ffffff 3px,#ffffff 6px,#ffffff 9px,#ffffff 12px,#ffffff 15px,#ffffff 18px,#ffffff 21px,#ffffff 24px,#ffffff 27px,#ffffff 30px,#ffffff 33px,#ffffff 36px,#ffffff 39px,#ffffff 42px,#ffffff 45px,#fcfcfe 48px,#f9f8fc 51px,#f5f4fb 54px,#f2f0f9 57px,#efedf8 60px,#eceaf6 63px,#e9e7f5 66px,#e7e4f4 69px,#e5e2f3 72px,#e3e0f2 75px,#e3e0f2 78px,#e3e0f2 81px,#e3e0f2 84px,#e3e0f2 87px,#e3e0f2 90px,#e3e0f2 93px,#e3e0f2 96px,#e5e2f3 99px,#e7e4f4 102px,#e9e6f5 105px,#ece9f6 108px,#eeedf7 111px,#f2f0f9 114px,#f5f4fa 117px,#f8f8fc 120px,#fcfcfe 123px,#ffffff 126px,#ffffff 129px,#ffffff 132px,#ffffff 135px,#ffffff 138px,#ffffff 141px,#ffffff 144px,#ffffff 147px,#ffffff 150px,#ffffff 153px,#ffffff 156px)"></i>
<i style="top:119px;height:1px;background:linear-gradient(90deg,#ffffff 0px,#ffffff 3px,#ffffff 6px,#ffffff 9px,#ffffff 12px,#ffffff 15px,#ffffff 18px,#ffffff 21px,#ffffff 24px,#ffffff 27px,#ffffff 30px,#ffffff 33px,#ffffff 36px,#ffffff 39px,#ffffff 42px,#ffffff 45px,#ffffff 48px,#fbfbfd 51px,#f8f7fc 54px,#f4f3fa 57px,#f1eff9 60px,#eeecf7 63px,#ebe9f6 66px,#e8e6f5 69px,#e6e3f4 72px,#e4e1f3 75px,#e3e0f2 78px,#e3e0f2 81px,#e3e0f2 84px,#e3e0f2 87px,#e3e0f2 90px,#e3e0f2 93px,#e3e0f2 96px,#e3e0f2 99px,#e5e2f3 102px,#e7e4f4 105px,#e9e7f5 108px,#eceaf6 111px,#efeef8 114px,#f3f1f9 117px,#f6f5fb 120px,#faf9fd 123px,#fdfdfe 126px,#ffffff 129px,#ffffff 132px,#ffffff 135px,#ffffff 138px,#ffffff 141px,#ffffff 144px,#ffffff 147px,#ffffff 150px,#ffffff 153px,#ffffff 156px)"></i>
<i style="top:120px;height:1px;background:linear-gradient(90deg,#ffffff 0px,#ffffff 3px,#ffffff 6px,#ffffff 9px,#ffffff 12px,#ffffff 15px,#ffffff 18px,#ffffff 21px,#ffffff 24px,#ffffff 27px,#ffffff 30px,#ffffff 33px,#ffffff 36px,#ffffff 39px,#ffffff 42px,#ffffff 45px,#ffffff 48px,#fefeff 51px,#fbfafd 54px,#f7f6fb 57px,#f3f2fa 60px,#f0eef8 63px,#edebf7 66px,#eae8f6 69px,#e8e5f4 72px,#e6e3f3 75px,#e4e1f3 78px,#e3e0f2 81px,#e3e0f2 84px,#e3e0f2 87px,#e3e0f2 90px,#e3e0f2 93px,#e3e0f2 96px,#e3e0f2 99px,#e3e0f2 102px,#e5e2f3 105px,#e7e5f4 108px,#eae8f5 111px,#edebf7 114px,#f0eff8 117px,#f4f2fa 120px,#f7f6fc 123px,#fbfbfd 126px,#ffffff 129px,#ffffff 132px,#ffffff 135px,#ffffff 138px,#ffffff 141px,#ffffff 144px,#ffffff 147px,#ffffff 150px,#ffffff 153px,#ffffff 156px)"></i>
<i style="top:121px;height:1px;background:linear-gradient(90deg,#ffffff 0px,#ffffff 3px,#ffffff 6px,#ffffff 9px,#ffffff 12px,#ffffff 15px,#ffffff 18px,#ffffff 21px,#ffffff 24px,#ffffff 27px,#ffffff 30px,#ffffff 33px,#ffffff 36px,#ffffff 39px,#ffffff 42px,#ffffff 45px,#ffffff 48px,#ffffff 51px,#fefdfe 54px,#faf9fd 57px,#f6f5fb 60px,#f3f1f9 63px,#efeef8 66px,#eceaf6 69px,#e9e7f5 72px,#e7e4f4 75px,#e5e2f3 78px,#e3e0f2 81px,#e3e0f2 84px,#e3e0f2 87px,#e3e0f2 90px,#e3e0f2 93px,#e3e0f2 96px,#e3e0f2 99px,#e3e0f2 102px,#e4e1f3 105px,#e6e3f3 108px,#e8e5f5 111px,#ebe8f6 114px,#eeecf7 117px,#f1f0f9 120px,#f5f4fa 123px,#f9f8fc 126px,#fdfcfe 129px,#ffffff 132px,#ffffff 135px,#ffffff 138px,#ffffff 141px,#ffffff 144px,#ffffff 147px,#ffffff 150px,#ffffff 153px,#ffffff 156px)"></i>
<i style="top:122px;height:1px;background:linear-gradient(90deg,#ffffff 0px,#ffffff 3px,#ffffff 6px,#ffffff 9px,#ffffff 12px,#ffffff 15px,#ffffff 18px,#ffffff 21px,#ffffff 24px,#ffffff 27px,#ffffff 30px,#ffffff 33px,#ffffff 36px,#ffffff 39px,#ffffff 42px,#ffffff 45px,#ffffff 48px,#ffffff 51px,#ffffff 54px,#fdfdfe 57px,#f9f8fc 60px,#f5f4fb 63px,#f2f0f9 66px,#eeedf7 69px,#ebe9f6 72px,#e9e6f5 75px,#e6e4f4 78px,#e4e1f3 81px,#e3e0f2 84px,#e3e0f2 87px,#e3e0f2 90px,#e3e0f2 93px,#e3e0f2 96px,#e3e0f2 99px,#e3e0f2 102px,#e3e0f2 105px,#e4e1f3 108px,#e6e3f4 111px,#e9e6f5 114px,#ebe9f6 117px,#efedf8 120px,#f2f1f9 123px,#f6f5fb 126px,#fafafd 129px,#fefeff 132px,#ffffff 135px,#ffffff 138px,#ffffff 141px,#ffffff 144px,#ffffff 147px,#ffffff 150px,#ffffff 153px,#ffffff 156px)"></i>
<i style="top:123px;height:1px;background:linear-gradient(90deg,#fffefe 0px,#ffffff 3px,#ffffff 6px,#ffffff 9px,#ffffff 12px,#ffffff 15px,#ffffff 18px,#ffffff 21px,#ffffff 24px,#ffffff 27px,#ffffff 30px,#ffffff 33px,#ffffff 36px,#ffffff 39px,#ffffff 42px,#ffffff 45px,#ffffff 48px,#ffffff 51px,#ffffff 54px,#ffffff 57px,#fbfafd 60px,#f7f6fb 63px,#f3f1f9 66px,#efedf8 69px,#ece9f6 72px,#e9e6f5 75px,#e6e3f3 78px,#e3e0f2 81px,#e1def2 84px,#e1def1 87px,#e1def1 90px,#e1def1 93px,#e1def1 96px,#e1def1 99px,#e1def1 102px,#e1def1 105px,#e1def1 108px,#e3e0f2 111px,#e5e3f3 114px,#e8e6f5 117px,#eceaf6 120px,#f0eef8 123px,#f4f2fa 126px,#f8f7fc 129px,#fcfcfe 132px,#ffffff 135px,#ffffff 138px,#ffffff 141px,#ffffff 144px,#ffffff 147px,#ffffff 150px,#ffffff 153px,#ffffff 156px)"></i>
<i style="top:124px;height:1px;background:linear-gradient(90deg,#fff9f9 0px,#fffbfb 3px,#fffdfd 6px,#ffffff 9px,#ffffff 12px,#ffffff 15px,#ffffff 18px,#ffffff 21px,#ffffff 24px,#ffffff 27px,#ffffff 30px,#ffffff 33px,#ffffff 36px,#ffffff 39px,#ffffff 42px,#ffffff 45px,#ffffff 48px,#ffffff 51px,#ffffff 54px,#ffffff 57px,#fbfbfd 60px,#f7f6fb 63px,#f2f1f9 66px,#eeecf7 69px,#eae8f5 72px,#e7e4f4 75px,#e3e0f2 78px,#e1ddf1 81px,#dedbf0 84px,#ddd9ef 87px,#ddd9ef 90px,#ddd9ef 93px,#ddd9ef 96px,#ddd9ef 99px,#ddd9ef 102px,#ddd9ef 105px,#ddd9ef 108px,#dfdbf0 111px,#e1def1 114px,#e5e2f3 117px,#e8e6f5 120px,#eceaf7 123px,#f1eff9 126px,#f6f5fb 129px,#fbfafd 132px,#ffffff 135px,#ffffff 138px,#ffffff 141px,#ffffff 144px,#ffffff 147px,#ffffff 150px,#ffffff 153px,#ffffff 156px)"></i>
<i style="top:125px;height:1px;background:linear-gradient(90deg,#fff5f5 0px,#fff5f5 3px,#fff5f5 6px,#fff7f7 9px,#fffbfb 12px,#ffffff 15px,#ffffff 18px,#ffffff 21px,#ffffff 24px,#ffffff 27px,#ffffff 30px,#ffffff 33px,#ffffff 36px,#ffffff 39px,#ffffff 42px,#ffffff 45px,#ffffff 48px,#ffffff 51px,#ffffff 54px,#ffffff 57px,#fcfcfe 60px,#f7f6fb 63px,#f2f1f9 66px,#edebf7 69px,#e9e6f5 72px,#e5e2f3 75px,#e1def1 78px,#dedaf0 81px,#dbd7ef 84px,#d9d5ee 87px,#d9d5ee 90px,#d9d5ee 93px,#d9d5ee 96px,#d9d5ee 99px,#d9d5ee 102px,#d9d5ee 105px,#d9d5ee 108px,#dad6ee 111px,#ddd9f0 114px,#e1ddf1 117px,#e5e2f3 120px,#e9e7f5 123px,#eeecf7 126px,#f3f2fa 129px,#f9f8fc 132px,#fefeff 135px,#ffffff 138px,#ffffff 141px,#ffffff 144px,#ffffff 147px,#ffffff 150px,#ffffff 153px,#fffefe 156px)"></i>
<i style="top:126px;height:1px;background:linear-gradient(90deg,#fff0f0 0px,#fff0f0 3px,#fff0f0 6px,#fff0f0 9px,#fff1f1 12px,#fff4f4 15px,#fff8f8 18px,#fffdfd 21px,#ffffff 24px,#ffffff 27px,#ffffff 30px,#ffffff 33px,#ffffff 36px,#ffffff 39px,#ffffff 42px,#ffffff 45px,#ffffff 48px,#ffffff 51px,#ffffff 54px,#ffffff 57px,#fdfdfe 60px,#f8f7fc 63px,#f2f1f9 66px,#edebf7 69px,#e8e5f4 72px,#e3e0f2 75px,#dfdcf0 78px,#dbd7ef 81px,#d8d4ed 84px,#d6d1ec 87px,#d5d0ec 90px,#d5d0ec 93px,#d5d0ec 96px,#d5d0ec 99px,#d5d0ec 102px,#d5d0ec 105px,#d5d0ec 108px,#d6d1ec 111px,#d9d4ee 114px,#dcd9ef 117px,#e1ddf1 120px,#e6e3f3 123px,#ebe9f6 126px,#f1eff8 129px,#f7f6fb 132px,#fdfdfe 135px,#ffffff 138px,#ffffff 141px,#ffffff 144px,#ffffff 147px,#ffffff 150px,#ffffff 153px,#fffefe 156px)"></i>
<i style="top:127px;height:1px;background:linear-gradient(90deg,#ffecec 0px,#ffecec 3px,#ffecec 6px,#ffecec 9px,#ffecec 12px,#ffecec 15px,#ffeded 18px,#fff0f0 21px,#fff5f5 24px,#fffbfb 27px,#ffffff 30px,#ffffff 33px,#ffffff 36px,#ffffff 39px,#ffffff 42px,#ffffff 45px,#ffffff 48px,#ffffff 51px,#ffffff 54px,#ffffff 57px,#fefeff 60px,#f8f8fc 63px,#f2f1f9 66px,#edebf7 69px,#e7e5f4 72px,#e2dff2 75px,#dddaf0 78px,#d9d5ee 81px,#d6d1ec 84px,#d3ceeb 87px,#d1ccea 90px,#d1ccea 93px,#d1ccea 96px,#d1ccea 99px,#d1ccea 102px,#d1ccea 105px,#d1ccea 108px,#d1ccea 111px,#d4cfeb 114px,#d8d4ed 117px,#ddd9ef 120px,#e2dff2 123px,#e8e5f4 126px,#eeecf7 129px,#f4f3fa 132px,#fbfbfd 135px,#ffffff 138px,#ffffff 141px,#ffffff 144px,#ffffff 147px,#ffffff 150px,#ffffff 153px,#fffdfd 156px)"></i>
<i style="top:128px;height:1px;background:linear-gradient(90deg,#ffe8e8 0px,#ffe8e8 3px,#ffe8e8 6px,#ffe8e8 9px,#ffe8e8 12px,#ffe8e8 15px,#ffe8e8 18px,#ffe8e8 21px,#ffe9e9 24px,#ffecec 27px,#fff2f2 30px,#fff9f9 33px,#ffffff 36px,#ffffff 39px,#ffffff 42px,#ffffff 45px,#ffffff 48px,#ffffff 51px,#ffffff 54px,#ffffff 57px,#ffffff 60px,#f9f9fc 63px,#f3f2fa 66px,#edebf7 69px,#e7e4f4 72px,#e1def1 75px,#dcd8ef 78px,#d7d3ed 81px,#d3ceeb 84px,#d0cae9 87px,#cdc7e8 90px,#cdc7e8 93px,#cdc7e8 96px,#cdc7e8 99px,#cdc7e8 102px,#cdc7e8 105px,#cdc7e8 108px,#cdc7e8 111px,#d0cae9 114px,#d4cfeb 117px,#d8d4ed 120px,#dedaf0 123px,#e4e1f3 126px,#ebe8f6 129px,#f2f0f9 132px,#f9f8fc 135px,#ffffff 138px,#ffffff 141px,#ffffff 144px,#ffffff 147px,#ffffff 150px,#ffffff 153px,#fffcfc 156px)"></i>
<i style="top:129px;height:1px;background:linear-gradient(90deg,#ffe4e4 0px,#ffe4e4 3px,#ffe4e4 6px,#ffe4e4 9px,#ffe4e4 12px,#ffe4e4 15px,#ffe4e4 18px,#ffe4e4 21px,#ffe4e4 24px,#ffe4e4 27px,#ffe5e5 30px,#ffe9e9 33px,#ffeeee 36px,#fff6f6 39px,#ffffff 42px,#ffffff 45px,#ffffff 48px,#ffffff 51px,#ffffff 54px,#ffffff 57px,#ffffff 60px,#fbfafd 63px,#f4f2fa 66px,#edebf7 69px,#e7e4f4 72px,#e0ddf1 75px,#dbd7ee 78px,#d6d1ec 81px,#d1ccea 84px,#cdc7e8 87px,#cac4e7 90px,#c9c3e6 93px,#c9c3e6 96px,#c9c3e6 99px,#c9c3e6 102px,#c9c3e6 105px,#c9c3e6 108px,#c9c3e6 111px,#cbc5e7 114px,#cfcae9 117px,#d4cfeb 120px,#dad6ee 123px,#e0ddf1 126px,#e7e5f4 129px,#efedf8 132px,#f7f6fb 135px,#ffffff 138px,#ffffff 141px,#ffffff 144px,#ffffff 147px,#ffffff 150px,#ffffff 153px,#fffbfb 156px)"></i>
<i style="top:130px;height:1px;background:linear-gradient(90deg,#ffe0e0 0px,#ffe0e0 3px,#ffe0e0 6px,#ffe0e0 9px,#ffe0e0 12px,#ffe0e0 15px,#ffe0e0 18px,#ffe0e0 21px,#ffe0e0 24px,#ffe0e0 27px,#ffe0e0 30px,#ffe1e1 33px,#ffe5e5 36px,#ffebeb 39px,#fff3f3 42px,#fffcfc 45px,#ffffff 48px,#ffffff 51px,#ffffff 54px,#ffffff 57px,#ffffff 60px,#fbfbfd 63px,#f4f3fa 66px,#edebf7 69px,#e6e3f4 72px,#dfdcf1 75px,#d9d5ee 78px,#d4cfeb 81px,#cfc9e9 84px,#cbc5e7 87px,#c7c1e6 90px,#c6bfe5 93px,#c6bfe5 96px,#c6bfe5 99px,#c6bfe5 102px,#c6bfe5 105px,#c6bfe5 108px,#c6bfe5 111px,#c8c1e6 114px,#ccc6e8 117px,#d1ccea 120px,#d7d2ed 123px,#dedaf0 126px,#e5e2f3 129px,#edebf7 132px,#f5f4fb 135px,#fefefe 138px,#ffffff 141px,#ffffff 144px,#ffffff 147px,#ffffff 150px,#fffefe 153px,#fffafa 156px)"></i>
<i style="top:131px;height:1px;background:linear-gradient(90deg,#ffdddd 0px,#ffdddd 3px,#ffdddd 6px,#ffdddd 9px,#ffdddd 12px,#ffdddd 15px,#ffdddd 18px,#ffdddd 21px,#ffdddd 24px,#ffdddd 27px,#ffdddd 30px,#ffdddd 33px,#ffe1e1 36px,#ffe7e7 39px,#ffefef 42px,#fff9f9 45px,#ffffff 48px,#ffffff 51px,#ffffff 54px,#ffffff 57px,#ffffff 60px,#fbfbfd 63px,#f3f2fa 66px,#eceaf6 69px,#e5e2f3 72px,#dedaf0 75px,#d8d3ed 78px,#d2cdea 81px,#cdc7e8 84px,#c8c2e6 87px,#c5bee4 90px,#c4bde4 93px,#c4bde4 96px,#c4bde4 99px,#c4bde4 102px,#c4bde4 105px,#c4bde4 108px,#c4bde4 111px,#c6bfe5 114px,#cac4e7 117px,#cfcae9 120px,#d6d1ec 123px,#ddd9ef 126px,#e4e1f3 129px,#edebf7 132px,#f5f4fb 135px,#fefeff 138px,#ffffff 141px,#ffffff 144px,#ffffff 147px,#ffffff 150px,#fffdfd 153px,#fff8f8 156px)"></i>
<i style="top:132px;height:1px;background:linear-gradient(90deg,#ffd9d9 0px,#ffd9d9 3px,#ffd9d9 6px,#ffd9d9 9px,#ffd9d9 12px,#ffd9d9 15px,#ffd9d9 18px,#ffd9d9 21px,#ffd9d9 24px,#ffd9d9 27px,#ffd9d9 30px,#ffdada 33px,#ffdddd 36px,#ffe3e3 39px,#ffebeb 42px,#fff5f5 45px,#ffffff 48px,#ffffff 51px,#ffffff 54px,#ffffff 57px,#ffffff 60px,#fbfafd 63px,#f3f1f9 66px,#ebe9f6 69px,#e3e0f2 72px,#dcd8ef 75px,#d6d1ec 78px,#d0cae9 81px,#cac5e7 84px,#c6c0e5 87px,#c2bbe3 90px,#c2bbe3 93px,#c2bbe3 96px,#c2bbe3 99px,#c2bbe3 102px,#c2bbe3 105px,#c2bbe3 108px,#c2bbe3 111px,#c4bde4 114px,#c8c2e6 117px,#cec8e9 120px,#d4d0ec 123px,#dcd8ef 126px,#e4e1f3 129px,#eceaf7 132px,#f5f4fb 135px,#ffffff 138px,#ffffff 141px,#ffffff 144px,#ffffff 147px,#ffffff 150px,#fffcfc 153px,#fff7f7 156px)"></i>
<i style="top:133px;height:1px;background:linear-gradient(90deg,#ffd6d6 0px,#ffd6d6 3px,#ffd6d6 6px,#ffd6d6 9px,#ffd6d6 12px,#ffd6d6 15px,#ffd6d6 18px,#ffd6d6 21px,#ffd6d6 24px,#ffd6d6 27px,#ffd6d6 30px,#ffd6d6 33px,#ffd9d9 36px,#ffdfdf 39px,#ffe7e7 42px,#fff2f2 45px,#fffdfd 48px,#ffffff 51px,#ffffff 54px,#ffffff 57px,#ffffff 60px,#fbfafd 63px,#f2f1f9 66px,#eae8f5 69px,#e2dff2 72px,#dbd7ee 75px,#d4cfeb 78px,#cec8e8 81px,#c8c2e6 84px,#c4bde4 87px,#c0b9e2 90px,#c0b9e2 93px,#c0b9e2 96px,#c0b9e2 99px,#c0b9e2 102px,#c0b9e2 105px,#c0b9e2 108px,#c0b9e2 111px,#c2bbe3 114px,#c7c0e5 117px,#ccc7e8 120px,#d3ceeb 123px,#dbd7ef 126px,#e3e0f2 129px,#eceaf6 132px,#f5f4fb 135px,#ffffff 138px,#ffffff 141px,#ffffff 144px,#ffffff 147px,#ffffff 150px,#fffbfb 153px,#fff5f5 156px)"></i>
<i style="top:134px;height:1px;background:linear-gradient(90deg,#ffd2d2 0px,#ffd2d2 3px,#ffd2d2 6px,#ffd2d2 9px,#ffd2d2 12px,#ffd2d2 15px,#ffd2d2 18px,#ffd2d2 21px,#ffd2d2 24px,#ffd2d2 27px,#ffd2d2 30px,#ffd2d2 33px,#ffd5d5 36px,#ffdada 39px,#ffe3e3 42px,#ffeded 45px,#fff9f9 48px,#ffffff 51px,#ffffff 54px,#ffffff 57px,#ffffff 60px,#fbfafd 63px,#f2f0f9 66px,#e9e7f5 69px,#e1ddf1 72px,#d9d5ee 75px,#d2cdea 78px,#cbc6e7 81px,#c6bfe5 84px,#c1bae3 87px,#beb6e1 90px,#beb6e1 93px,#beb6e1 96px,#beb6e1 99px,#beb6e1 102px,#beb6e1 105px,#beb6e1 108px,#beb6e1 111px,#c0b9e2 114px,#c5bee4 117px,#cbc5e7 120px,#d2cdea 123px,#dad6ee 126px,#e3dff2 129px,#eceaf6 132px,#f6f5fb 135px,#ffffff 138px,#ffffff 141px,#ffffff 144px,#ffffff 147px,#ffffff 150px,#fffafa 153px,#fff4f4 156px)"></i>
<i style="top:135px;height:1px;background:linear-gradient(90deg,#ffcfcf 0px,#ffcfcf 3px,#ffcfcf 6px,#ffcfcf 9px,#ffcfcf 12px,#ffcfcf 15px,#ffcfcf 18px,#ffcfcf 21px,#ffcfcf 24px,#ffcfcf 27px,#ffcfcf 30px,#ffcfcf 33px,#ffd1d1 36px,#ffd6d6 39px,#ffdede 42px,#ffe9e9 45px,#fff5f5 48px,#ffffff 51px,#ffffff 54px,#ffffff 57px,#ffffff 60px,#fafafd 63px,#f1eff9 66px,#e8e5f5 69px,#dfdcf1 72px,#d7d3ed 75px,#d0cbe9 78px,#c9c3e6 81px,#c3bde4 84px,#bfb7e2 87px,#bcb4e0 90px,#bcb4e0 93px,#bcb4e0 96px,#bcb4e0 99px,#bcb4e0 102px,#bcb4e0 105px,#bcb4e0 108px,#bcb4e0 111px,#beb7e1 114px,#c3bce4 117px,#c9c3e7 120px,#d1ccea 123px,#d9d5ee 126px,#e2dff2 129px,#ece9f6 132px,#f6f5fb 135px,#ffffff 138px,#ffffff 141px,#ffffff 144px,#ffffff 147px,#ffffff 150px,#fff8f8 153px,#fff2f2 156px)"></i>
<i style="top:136px;height:1px;background:linear-gradient(90deg,#ffcbcb 0px,#ffcbcb 3px,#ffcbcb 6px,#ffcbcb 9px,#ffcbcb 12px,#ffcbcb 15px,#ffcbcb 18px,#ffcbcb 21px,#ffcbcb 24px,#ffcbcb 27px,#ffcbcb 30px,#ffcbcb 33px,#ffcdcd 36px,#ffd2d2 39px,#ffdada 42px,#ffe5e5 45px,#fff1f1 48px,#ffffff 51px,#ffffff 54px,#ffffff 57px,#ffffff 60px,#fafafd 63px,#f0eff8 66px,#e7e4f4 69px,#dedaf0 72px,#d6d1ec 75px,#cec8e9 78px,#c7c1e5 81px,#c1bae3 84px,#bcb5e0 87px,#bab2df 90px,#bab2df 93px,#bab2df 96px,#bab2df 99px,#bab2df 102px,#bab2df 105px,#bab2df 108px,#bab2df 111px,#bcb4e0 114px,#c1bae3 117px,#c8c2e6 120px,#d0cae9 123px,#d8d4ed 126px,#e1def2 129px,#ebe9f6 132px,#f6f5fb 135px,#ffffff 138px,#ffffff 141px,#ffffff 144px,#ffffff 147px,#fffefe 150px,#fff7f7 153px,#fff0f0 156px)"></i>
<i style="top:137px;height:1px;background:linear-gradient(90deg,#ffc7c7 0px,#ffc7c7 3px,#ffc7c7 6px,#ffc7c7 9px,#ffc7c7 12px,#ffc7c7 15px,#ffc7c7 18px,#ffc7c7 21px,#ffc7c7 24px,#ffc7c7 27px,#ffc7c7 30px,#ffc7c7 33px,#ffc8c8 36px,#ffcdcd 39px,#ffd5d5 42px,#ffe0e0 45px,#ffeded 48px,#fffbfb 51px,#ffffff 54px,#ffffff 57px,#ffffff 60px,#faf9fd 63px,#f0eef8 66px,#e6e3f4 69px,#ddd9ef 72px,#d4cfeb 75px,#ccc6e8 78px,#c5bee4 81px,#bfb7e2 84px,#bab2df 87px,#b8b0df 90px,#b8b0df 93px,#b8b0df 96px,#b8b0df 99px,#b8b0df 102px,#b8b0df 105px,#b8b0df 108px,#b8b0df 111px,#bab2df 114px,#bfb8e2 117px,#c6c0e5 120px,#cec8e9 123px,#d7d2ed 126px,#e0ddf1 129px,#ebe9f6 132px,#f6f5fb 135px,#ffffff 138px,#ffffff 141px,#ffffff 144px,#ffffff 147px,#fffdfd 150px,#fff4f4 153px,#ffeded 156px)"></i>
<i style="top:138px;height:1px;background:linear-gradient(90deg,#ffc0c0 0px,#ffc0c0 3px,#ffc0c0 6px,#ffc0c0 9px,#ffc0c0 12px,#ffc0c0 15px,#ffc0c0 18px,#ffc0c0 21px,#ffc0c0 24px,#ffc0c0 27px,#ffc0c0 30px,#ffc0c0 33px,#ffc1c1 36px,#ffc6c6 39px,#ffcfcf 42px,#ffdada 45px,#ffe8e8 48px,#fff8f8 51px,#ffffff 54px,#ffffff 57px,#ffffff 60px,#faf9fd 63px,#efedf8 66px,#e5e2f3 69px,#dbd7ef 72px,#d2cdeb 75px,#cac4e7 78px,#c3bce3 81px,#bcb5e1 84px,#b7afde 87px,#b6aede 90px,#b6aede 93px,#b6aede 96px,#b6aede 99px,#b6aede 102px,#b6aede 105px,#b6aede 108px,#b6aede 111px,#b7afde 114px,#bdb5e1 117px,#c4bde4 120px,#ccc6e8 123px,#d5d0ec 126px,#dfdbf0 129px,#eae7f5 132px,#f5f4fa 135px,#ffffff 138px,#ffffff 141px,#ffffff 144px,#ffffff 147px,#fffbfb 150px,#fff1f1 153px,#ffe8e8 156px)"></i>
<i style="top:139px;height:1px;background:linear-gradient(90deg,#ffbaba 0px,#ffbaba 3px,#ffbaba 6px,#ffbaba 9px,#ffbaba 12px,#ffbaba 15px,#ffbaba 18px,#ffbaba 21px,#ffbaba 24px,#ffbaba 27px,#ffbaba 30px,#ffbaba 33px,#ffbbbb 36px,#ffc0c0 39px,#ffc8c8 42px,#ffd4d4 45px,#ffe3e3 48px,#fff4f4 51px,#ffffff 54px,#ffffff 57px,#ffffff 60px,#f9f9fc 63px,#efedf7 66px,#e4e1f3 69px,#dad6ee 72px,#d0cbea 75px,#c8c2e6 78px,#c0b9e2 81px,#bab2e0 84px,#b5addd 87px,#b4abdd 90px,#b4abdd 93px,#b4abdd 96px,#b4abdd 99px,#b4abdd 102px,#b4abdd 105px,#b4abdd 108px,#b4abdd 111px,#b5acdd 114px,#bab2e0 117px,#c1bae3 120px,#c9c3e6 123px,#d3ceeb 126px,#ddd9f0 129px,#e8e6f5 132px,#f4f3fa 135px,#ffffff 138px,#ffffff 141px,#ffffff 144px,#ffffff 147px,#fffafa 150px,#ffeeee 153px,#ffe3e3 156px)"></i>
<i style="top:140px;height:1px;background:linear-gradient(90deg,#ffb4b4 0px,#ffb4b4 3px,#ffb4b4 6px,#ffb4b4 9px,#ffb4b4 12px,#ffb4b4 15px,#ffb4b4 18px,#ffb4b4 21px,#ffb4b4 24px,#ffb4b4 27px,#ffb4b4 30px,#ffb4b4 33px,#ffb5b5 36px,#ffb9b9 39px,#ffc2c2 42px,#ffcece 45px,#ffdede 48px,#fff0f0 51px,#ffffff 54px,#ffffff 57px,#ffffff 60px,#f9f9fc 63px,#eeecf7 66px,#e3e0f2 69px,#d8d4ed 72px,#cfc9e9 75px,#c6bfe5 78px,#beb7e1 81px,#b8b0de 84px,#b2aadc 87px,#b2a9dc 90px,#b2a9dc 93px,#b2a9dc 96px,#b2a9dc 99px,#b2a9dc 102px,#b2a9dc 105px,#b2a9dc 108px,#b2a9dc 111px,#b2a9dc 114px,#b7afde 117px,#beb7e2 120px,#c7c1e5 123px,#d1cbea 126px,#dbd7ef 129px,#e7e4f4 132px,#f3f2fa 135px,#ffffff 138px,#ffffff 141px,#ffffff 144px,#ffffff 147px,#fff7f7 150px,#ffeaea 153px,#ffdfdf 156px)"></i>
<i style="top:141px;height:1px;background:linear-gradient(90deg,#ffaeae 0px,#ffaeae 3px,#ffaeae 6px,#ffaeae 9px,#ffaeae 12px,#ffaeae 15px,#ffaeae 18px,#ffaeae 21px,#ffaeae 24px,#ffaeae 27px,#ffaeae 30px,#ffaeae 33px,#ffaeae 36px,#ffb2b2 39px,#ffbbbb 42px,#ffc8c8 45px,#ffd8d8 48px,#ffebeb 51px,#ffffff 54px,#ffffff 57px,#ffffff 60px,#f9f8fc 63px,#edebf7 66px,#e2def2 69px,#d7d2ed 72px,#cdc7e8 75px,#c4bde4 78px,#bcb4e0 81px,#b5addd 84px,#b0a7db 87px,#b0a7db 90px,#b0a7db 93px,#b0a7db 96px,#b0a7db 99px,#b0a7db 102px,#b0a7db 105px,#b0a7db 108px,#b0a7db 111px,#b0a7db 114px,#b5acdd 117px,#bcb4e0 120px,#c5bee4 123px,#cec9e9 126px,#dad5ee 129px,#e6e3f3 132px,#f2f1f9 135px,#ffffff 138px,#ffffff 141px,#ffffff 144px,#ffffff 147px,#fff5f5 150px,#ffe6e6 153px,#ffdada 156px)"></i>
<i style="top:142px;height:1px;background:linear-gradient(90deg,#ffa8a8 0px,#ffa8a8 3px,#ffa8a8 6px,#ffa8a8 9px,#ffa8a8 12px,#ffa8a8 15px,#ffa8a8 18px,#ffa8a8 21px,#ffa8a8 24px,#ffa8a8 27px,#ffa8a8 30px,#ffa8a8 33px,#ffa8a8 36px,#ffacac 39px,#ffb4b4 42px,#ffc2c2 45px,#ffd2d2 48px,#ffe6e6 51px,#fffbfb 54px,#ffffff 57px,#ffffff 60px,#f9f8fc 63px,#edeaf7 66px,#e1ddf1 69px,#d5d1ec 72px,#cbc5e7 75px,#c2bbe3 78px,#bab2df 81px,#b3aadc 84px,#aea5da 87px,#aea5da 90px,#aea5da 93px,#aea5da 96px,#aea5da 99px,#aea5da 102px,#aea5da 105px,#aea5da 108px,#aea5da 111px,#aea5da 114px,#b2a9dc 117px,#b9b1df 120px,#c2bbe3 123px,#ccc7e8 126px,#d8d3ed 129px,#e4e1f3 132px,#f1f0f9 135px,#fffeff 138px,#ffffff 141px,#ffffff 144px,#ffffff 147px,#fff2f2 150px,#ffe2e2 153px,#ffd5d5 156px)"></i>
<i style="top:143px;height:1px;background:linear-gradient(90deg,#ffa1a1 0px,#ffa1a1 3px,#ffa1a1 6px,#ffa1a1 9px,#ffa1a1 12px,#ffa1a1 15px,#ffa1a1 18px,#ffa1a1 21px,#ffa1a1 24px,#ffa1a1 27px,#ffa1a1 30px,#ffa1a1 33px,#ffa1a1 36px,#ffa5a5 39px,#ffadad 42px,#ffbbbb 45px,#ffcccc 48px,#ffe1e1 51px,#fff7f7 54px,#ffffff 57px,#ffffff 60px,#f9f8fc 63px,#eceaf6 66px,#e0dcf1 69px,#d4cfeb 72px,#c9c3e6 75px,#c0b9e2 78px,#b7afde 81px,#b0a8db 84px,#aca3d9 87px,#aca3d9 90px,#aca3d9 93px,#aca3d9 96px,#aca3d9 99px,#aca3d9 102px,#aca3d9 105px,#aca3d9 108px,#aca3d9 111px,#aca3d9 114px,#afa6db 117px,#b7aede 120px,#bfb8e2 123px,#cac4e7 126px,#d6d1ec 129px,#e3dff2 132px,#f0eef8 135px,#fefeff 138px,#ffffff 141px,#ffffff 144px,#ffffff 147px,#ffefef 150px,#ffdede 153px,#ffcfcf 156px)"></i>
<i style="top:144px;height:1px;background:linear-gradient(90deg,#ff9b9b 0px,#ff9b9b 3px,#ff9b9b 6px,#ff9b9b 9px,#ff9b9b 12px,#ff9b9b 15px,#ff9b9b 18px,#ff9b9b 21px,#ff9b9b 24px,#ff9b9b 27px,#ff9b9b 30px,#ff9b9b 33px,#ff9b9b 36px,#ff9e9e 39px,#ffa7a7 42px,#ffb4b4 45px,#ffc6c6 48px,#ffdbdb 51px,#fff2f2 54px,#ffffff 57px,#ffffff 60px,#f8f8fc 63px,#ebe9f6 66px,#dedbf0 69px,#d2cdeb 72px,#c7c1e6 75px,#bdb6e1 78px,#b5addd 81px,#aea5da 84px,#aaa1d8 87px,#aaa1d8 90px,#aaa1d8 93px,#aaa1d8 96px,#aaa1d8 99px,#aaa1d8 102px,#aaa1d8 105px,#aaa1d8 108px,#aaa1d8 111px,#aaa1d8 114px,#ada3d9 117px,#b4abdd 120px,#bdb5e1 123px,#c8c1e6 126px,#d4cfeb 129px,#e1def1 132px,#efedf8 135px,#fdfdfe 138px,#ffffff 141px,#ffffff 144px,#ffffff 147px,#ffecec 150px,#ffd9d9 153px,#ffcaca 156px)"></i>
<i style="top:145px;height:1px;background:linear-gradient(90deg,#ff9595 0px,#ff9595 3px,#ff9595 6px,#ff9595 9px,#ff9595 12px,#ff9595 15px,#ff9595 18px,#ff9595 21px,#ff9595 24px,#ff9595 27px,#ff9595 30px,#ff9595 33px,#ff9595 36px,#ff9797 39px,#ffa0a0 42px,#ffadad 45px,#ffbfbf 48px,#ffd5d5 51px,#ffeded 54px,#ffffff 57px,#ffffff 60px,#f8f7fc 63px,#eae8f6 66px,#ddd9f0 69px,#d1ccea 72px,#c5bfe5 75px,#bbb4e0 78px,#b3aadc 81px,#aba2d9 84px,#a89ed7 87px,#a89ed7 90px,#a89ed7 93px,#a89ed7 96px,#a89ed7 99px,#a89ed7 102px,#a89ed7 105px,#a89ed7 108px,#a89ed7 111px,#a89ed7 114px,#aaa0d8 117px,#b1a8db 120px,#bab2e0 123px,#c5bfe5 126px,#d2ccea 129px,#dfdcf1 132px,#eeecf7 135px,#fdfdfe 138px,#ffffff 141px,#ffffff 144px,#fffdfd 147px,#ffe8e8 150px,#ffd5d5 153px,#ffc5c5 156px)"></i>
<i style="top:146px;height:1px;background:linear-gradient(90deg,#ff9090 0px,#ff9090 3px,#ff9090 6px,#ff9090 9px,#ff9090 12px,#ff9090 15px,#ff9090 18px,#ff9090 21px,#ff9090 24px,#ff9090 27px,#ff9090 30px,#ff9090 33px,#ff9090 36px,#ff9292 39px,#ff9a9a 42px,#ffa7a7 45px,#ffbaba 48px,#ffd0d0 51px,#ffe9e9 54px,#ffffff 57px,#ffffff 60px,#f8f7fc 63px,#eae7f5 66px,#dcd8ef 69px,#cfcae9 72px,#c4bde4 75px,#b9b1df 78px,#b0a8db 81px,#a9a0d8 84px,#a69cd7 87px,#a69cd7 90px,#a69cd7 93px,#a69cd7 96px,#a69cd7 99px,#a69cd7 102px,#a69cd7 105px,#a69cd7 108px,#a69cd7 111px,#a69cd7 114px,#a79dd7 117px,#afa6da 120px,#b8b0df 123px,#c3bce4 126px,#d0cae9 129px,#dedaf0 132px,#edebf7 135px,#fcfcfe 138px,#ffffff 141px,#ffffff 144px,#fffafa 147px,#ffe4e4 150px,#ffd0d0 153px,#ffbebe 156px)"></i>
<i style="top:147px;height:1px;background:linear-gradient(90deg,#ff8d8d 0px,#ff8d8d 3px,#ff8d8d 6px,#ff8d8d 9px,#ff8d8d 12px,#ff8d8d 15px,#ff8d8d 18px,#ff8d8d 21px,#ff8d8d 24px,#ff8d8d 27px,#ff8d8d 30px,#ff8d8d 33px,#ff8d8d 36px,#ff8e8e 39px,#ff9696 42px,#ffa3a3 45px,#ffb6b6 48px,#ffcdcd 51px,#ffe7e7 54px,#ffffff 57px,#ffffff 60px,#f8f7fc 63px,#e9e7f5 66px,#dbd7ef 69px,#cec9e9 72px,#c2bbe3 75px,#b7afde 78px,#aea5da 81px,#a79dd7 84px,#a59bd6 87px,#a59bd6 90px,#a59bd6 93px,#a59bd6 96px,#a59bd6 99px,#a59bd6 102px,#a59bd6 105px,#a59bd6 108px,#a59bd6 111px,#a59bd6 114px,#a59bd6 117px,#ada3d9 120px,#b6aede 123px,#c1bae3 126px,#cec9e9 129px,#dcd8ef 132px,#ece9f6 135px,#fbfbfd 138px,#ffffff 141px,#ffffff 144px,#fff8f8 147px,#ffe0e0 150px,#ffc9c9 153px,#ffb7b7 156px)"></i>
<i style="top:148px;height:1px;background:linear-gradient(90deg,#ff8a8a 0px,#ff8a8a 3px,#ff8a8a 6px,#ff8a8a 9px,#ff8a8a 12px,#ff8a8a 15px,#ff8a8a 18px,#ff8a8a 21px,#ff8a8a 24px,#ff8a8a 27px,#ff8a8a 30px,#ff8a8a 33px,#ff8a8a 36px,#ff8b8b 39px,#ff9292 42px,#ff9f9f 45px,#ffb2b2 48px,#ffcaca 51px,#ffe4e4 54px,#ffffff 57px,#ffffff 60px,#f7f7fc 63px,#e9e6f5 66px,#dad6ee 69px,#cdc7e8 72px,#c0b9e2 75px,#b6adde 78px,#ada3d9 81px,#a59bd6 84px,#a399d5 87px,#a399d5 90px,#a399d5 93px,#a399d5 96px,#a399d5 99px,#a399d5 102px,#a399d5 105px,#a399d5 108px,#a399d5 111px,#a399d5 114px,#a399d5 117px,#aaa1d8 120px,#b4abdd 123px,#bfb8e2 126px,#ccc7e8 129px,#dbd7ef 132px,#eae8f6 135px,#fbfafd 138px,#ffffff 141px,#ffffff 144px,#fff5f5 147px,#ffdbdb 150px,#ffc3c3 153px,#ffafaf 156px)"></i>
<i style="top:149px;height:1px;background:linear-gradient(90deg,#ff8686 0px,#ff8686 3px,#ff8686 6px,#ff8686 9px,#ff8686 12px,#ff8686 15px,#ff8686 18px,#ff8686 21px,#ff8686 24px,#ff8686 27px,#ff8686 30px,#ff8686 33px,#ff8686 36px,#ff8787 39px,#ff8d8d 42px,#ff9b9b 45px,#ffaeae 48px,#ffc6c6 51px,#ffe2e2 54px,#ffffff 57px,#ffffff 60px,#f7f6fb 63px,#e8e5f4 66px,#d9d5ee 69px,#cbc6e7 72px,#bfb8e2 75px,#b4abdd 78px,#aba1d8 81px,#a399d5 84px,#a297d4 87px,#a297d4 90px,#a297d4 93px,#a297d4 96px,#a297d4 99px,#a297d4 102px,#a297d4 105px,#a297d4 108px,#a297d4 111px,#a297d4 114px,#a297d4 117px,#a89fd7 120px,#b2a9dc 123px,#bdb6e1 126px,#cbc5e7 129px,#d9d5ee 132px,#e9e7f5 135px,#faf9fd 138px,#ffffff 141px,#ffffff 144px,#fff2f2 147px,#ffd6d6 150px,#ffbdbd 153px,#ffa7a7 156px)"></i>
<i style="top:150px;height:1px;background:linear-gradient(90deg,#ff8383 0px,#ff8383 3px,#ff8383 6px,#ff8383 9px,#ff8383 12px,#ff8383 15px,#ff8383 18px,#ff8383 21px,#ff8383 24px,#ff8383 27px,#ff8383 30px,#ff8383 33px,#ff8383 36px,#ff8383 39px,#ff8989 42px,#ff9696 45px,#ffaaaa 48px,#ffc3c3 51px,#ffe0e0 54px,#fffefe 57px,#ffffff 60px,#f7f6fb 63px,#e7e5f4 66px,#d8d4ed 69px,#cac4e7 72px,#bdb6e1 75px,#b2a9dc 78px,#a99fd8 81px,#a197d4 84px,#a096d4 87px,#a096d4 90px,#a096d4 93px,#a096d4 96px,#a096d4 99px,#a096d4 102px,#a096d4 105px,#a096d4 108px,#a096d4 111px,#a096d4 114px,#a096d4 117px,#a69cd7 120px,#b0a7db 123px,#bbb4e0 126px,#c9c3e6 129px,#d8d4ed 132px,#e8e6f5 135px,#f9f8fc 138px,#ffffff 141px,#ffffff 144px,#ffeeee 147px,#ffd1d1 150px,#ffb6b6 153px,#ffa0a0 156px)"></i>
<i style="top:151px;height:1px;background:linear-gradient(90deg,#ff8080 0px,#ff8080 3px,#ff8080 6px,#ff8080 9px,#ff8080 12px,#ff8080 15px,#ff8080 18px,#ff8080 21px,#ff8080 24px,#ff8080 27px,#ff8080 30px,#ff8080 33px,#ff8080 36px,#ff8080 39px,#ff8585 42px,#ff9292 45px,#ffa6a6 48px,#ffc0c0 51px,#ffdddd 54px,#fffdfd 57px,#ffffff 60px,#f7f6fb 63px,#e7e4f4 66px,#d7d3ed 69px,#c9c3e6 72px,#bcb4e0 75px,#b0a7db 78px,#a79dd7 81px,#9f94d3 84px,#9f94d3 87px,#9f94d3 90px,#9f94d3 93px,#9f94d3 96px,#9f94d3 99px,#9f94d3 102px,#9f94d3 105px,#9f94d3 108px,#9f94d3 111px,#9f94d3 114px,#9f94d3 117px,#a49ad6 120px,#aea5da 123px,#bab2df 126px,#c7c1e6 129px,#d6d2ed 132px,#e7e4f4 135px,#f8f7fc 138px,#ffffff 141px,#ffffff 144px,#ffebeb 147px,#ffcbcb 150px,#ffafaf 153px,#ff9898 156px)"></i>
<i style="top:152px;height:1px;background:linear-gradient(90deg,#ff7c7c 0px,#ff7c7c 3px,#ff7c7c 6px,#ff7c7c 9px,#ff7c7c 12px,#ff7c7c 15px,#ff7c7c 18px,#ff7c7c 21px,#ff7c7c 24px,#ff7c7c 27px,#ff7c7c 30px,#ff7c7c 33px,#ff7c7c 36px,#ff7c7c 39px,#ff8181 42px,#ff8d8d 45px,#ffa2a2 48px,#ffbcbc 51px,#ffdada 54px,#fffcfc 57px,#ffffff 60px,#f7f6fb 63px,#e6e3f4 66px,#d6d1ec 69px,#c7c1e6 72px,#bab2df 75px,#aea5da 78px,#a59ad6 81px,#9d92d2 84px,#9d92d2 87px,#9d92d2 90px,#9d92d2 93px,#9d92d2 96px,#9d92d2 99px,#9d92d2 102px,#9d92d2 105px,#9d92d2 108px,#9d92d2 111px,#9d92d2 114px,#9d92d2 117px,#a298d5 120px,#aca2d9 123px,#b8afde 126px,#c5bfe5 129px,#d5d0ec 132px,#e6e3f3 135px,#f7f6fb 138px,#ffffff 141px,#ffffff 144px,#ffe7e7 147px,#ffc5c5 150px,#ffa8a8 153px,#ff8f8f 156px)"></i>
<i style="top:153px;height:1px;background:linear-gradient(90deg,#ff7979 0px,#ff7979 3px,#ff7979 6px,#ff7979 9px,#ff7979 12px,#ff7979 15px,#ff7979 18px,#ff7979 21px,#ff7979 24px,#ff7979 27px,#ff7979 30px,#ff7979 33px,#ff7979 36px,#ff7979 39px,#ff7d7d 42px,#ff8989 45px,#ff9d9d 48px,#ffb8b8 51px,#ffd8d8 54px,#fffafa 57px,#ffffff 60px,#f6f5fb 63px,#e5e2f3 66px,#d5d0ec 69px,#c6bfe5 72px,#b8b0df 75px,#aca3d9 78px,#a298d5 81px,#9c91d2 84px,#9c91d2 87px,#9c91d2 90px,#9c91d2 93px,#9c91d2 96px,#9c91d2 99px,#9c91d2 102px,#9c91d2 105px,#9c91d2 108px,#9c91d2 111px,#9c91d2 114px,#9c91d2 117px,#a095d4 120px,#aaa0d8 123px,#b6addd 126px,#c4bde4 129px,#d3ceeb 132px,#e4e1f3 135px,#f6f5fb 138px,#ffffff 141px,#ffffff 144px,#ffe2e2 147px,#ffc0c0 150px,#ffa1a1 153px,#ff8787 156px)"></i>
<i style="top:154px;height:1px;background:linear-gradient(90deg,#ff7777 0px,#ff7777 3px,#ff7777 6px,#ff7777 9px,#ff7777 12px,#ff7777 15px,#ff7777 18px,#ff7777 21px,#ff7777 24px,#ff7777 27px,#ff7777 30px,#ff7777 33px,#ff7777 36px,#ff7777 39px,#ff7b7b 42px,#ff8787 45px,#ff9c9c 48px,#ffb7b7 51px,#ffd8d8 54px,#fffbfb 57px,#ffffff 60px,#f6f4fb 63px,#e4e1f3 66px,#d4cfeb 69px,#c4bee4 72px,#b7afde 75px,#aba1d9 78px,#a196d4 81px,#9b90d1 84px,#9b90d1 87px,#9b90d1 90px,#9b90d1 93px,#9b90d1 96px,#9b90d1 99px,#9b90d1 102px,#9b90d1 105px,#9b90d1 108px,#9b90d1 111px,#9b90d1 114px,#9b90d1 117px,#9f94d3 120px,#a89fd8 123px,#b4acdd 126px,#c3bce3 129px,#d3ceeb 132px,#e4e1f3 135px,#f6f5fb 138px,#ffffff 141px,#ffffff 144px,#ffdede 147px,#ffbbbb 150px,#ff9c9c 153px,#ff8282 156px)"></i>
<i style="top:155px;height:1px;background:linear-gradient(90deg,#ff7777 0px,#ff7777 3px,#ff7777 6px,#ff7777 9px,#ff7777 12px,#ff7777 15px,#ff7777 18px,#ff7777 21px,#ff7777 24px,#ff7777 27px,#ff7777 30px,#ff7777 33px,#ff7777 36px,#ff7777 39px,#ff7c7c 42px,#ff8989 45px,#ff9e9e 48px,#ffbaba 51px,#ffdada 54px,#fffefe 57px,#ffffff 60px,#f4f3fa 63px,#e3e0f2 66px,#d2cdeb 69px,#c3bce4 72px,#b6adde 75px,#aaa0d8 78px,#a096d4 81px,#9b90d1 84px,#9b90d1 87px,#9b90d1 90px,#9b90d1 93px,#9b90d1 96px,#9b90d1 99px,#9b90d1 102px,#9b90d1 105px,#9b90d1 108px,#9b90d1 111px,#9b90d1 114px,#9b90d1 117px,#9f94d3 120px,#a89fd8 123px,#b4acdd 126px,#c3bce3 129px,#d3ceeb 132px,#e4e1f3 135px,#f6f5fb 138px,#ffffff 141px,#ffffff 144px,#ffdbdb 147px,#ffb8b8 150px,#ff9999 153px,#ff7f7f 156px)"></i>
<i style="top:156px;height:1px;background:linear-gradient(90deg,#ff7777 0px,#ff7777 3px,#ff7777 6px,#ff7777 9px,#ff7777 12px,#ff7777 15px,#ff7777 18px,#ff7777 21px,#ff7777 24px,#ff7777 27px,#ff7777 30px,#ff7777 33px,#ff7777 36px,#ff7777 39px,#ff7c7c 42px,#ff8a8a 45px,#ffa0a0 48px,#ffbcbc 51px,#ffdddd 54px,#ffffff 57px,#ffffff 60px,#f3f1f9 63px,#e1def2 66px,#d1ccea 69px,#c2bbe3 72px,#b5acdd 75px,#a99fd8 78px,#a095d3 81px,#9b90d1 84px,#9b90d1 87px,#9b90d1 90px,#9b90d1 93px,#9b90d1 96px,#9b90d1 99px,#9b90d1 102px,#9b90d1 105px,#9b90d1 108px,#9b90d1 111px,#9b90d1 114px,#9b90d1 117px,#9f94d3 120px,#a89fd8 123px,#b4acdd 126px,#c3bce3 129px,#d3ceeb 132px,#e4e1f3 135px,#f6f5fb 138px,#ffffff 141px,#fffdfd 144px,#ffd8d8 147px,#ffb5b5 150px,#ff9696 153px,#ff7c7c 156px)"></i>
<i style="top:157px;height:1px;background:linear-gradient(90deg,#ff7777 0px,#ff7777 3px,#ff7777 6px,#ff7777 9px,#ff7777 12px,#ff7777 15px,#ff7777 18px,#ff7777 21px,#ff7777 24px,#ff7777 27px,#ff7777 30px,#ff7777 33px,#ff7777 36px,#ff7777 39px,#ff7d7d 42px,#ff8c8c 45px,#ffa2a2 48px,#ffbfbf 51px,#ffe0e0 54px,#ffffff 57px,#ffffff 60px,#f1f0f9 63px,#e0ddf1 66px,#d0cae9 69px,#c1bae3 72px,#b4abdd 75px,#a89ed7 78px,#9f94d3 81px,#9b90d1 84px,#9b90d1 87px,#9b90d1 90px,#9b90d1 93px,#9b90d1 96px,#9b90d1 99px,#9b90d1 102px,#9b90d1 105px,#9b90d1 108px,#9b90d1 111px,#9b90d1 114px,#9b90d1 117px,#9f94d3 120px,#a89fd8 123px,#b4acdd 126px,#c3bce3 129px,#d3ceeb 132px,#e4e1f3 135px,#f6f5fb 138px,#ffffff 141px,#fffafa 144px,#ffd5d5 147px,#ffb2b2 150px,#ff9393 153px,#ff7979 156px)"></i>
</div>
<svg width="777" height="473" viewBox="0 0 777 473">
<rect x="433.0" y="49.0" width="39.4" height="39.6" fill="#ff0000"/>
<rect x="472.25" y="49.0" width="39.4" height="39.6" fill="#ffaaaa"/>
<rect x="511.5" y="49.0" width="39.4" height="39.6" fill="#3c24a8"/>
<rect x="550.75" y="49.0" width="39.4" height="39.6" fill="#b0a8dc"/>
<rect x="433.0" y="88.5" width="39.4" height="39.6" fill="#ff8080"/>
<rect x="472.25" y="88.5" width="39.4" height="39.6" fill="#d8d4ec"/>
<rect x="511.5" y="88.5" width="39.4" height="39.6" fill="#7a6cc4"/>
<rect x="550.75" y="88.5" width="39.4" height="39.6" fill="#ffffff"/>
<rect x="433.0" y="128.0" width="39.4" height="39.6" fill="#ffd8d8"/>
<rect x="472.25" y="128.0" width="39.4" height="39.6" fill="#ffffff"/>
<rect x="511.5" y="128.0" width="39.4" height="39.6" fill="#c6c0e4"/>
<rect x="550.75" y="128.0" width="39.4" height="39.6" fill="#f0eef8"/>
<rect x="433.0" y="167.5" width="39.4" height="39.6" fill="#ff1010"/>
<rect x="472.25" y="167.5" width="39.4" height="39.6" fill="#ff2424"/>
<rect x="511.5" y="167.5" width="39.4" height="39.6" fill="#5642b0"/>
<rect x="550.75" y="167.5" width="39.4" height="39.6" fill="#6a58b8"/>
<text x="176.29999999999998" y="40.3" font-family="Liberation Sans" font-size="21.5" text-anchor="start" font-weight="normal" font-style="normal" fill="#000" >(a)</text>
<text x="395.4" y="40.3" font-family="Liberation Sans" font-size="21.5" text-anchor="start" font-weight="normal" font-style="normal" fill="#000" >(b)</text>
<text x="5.8" y="255.2" font-family="Liberation Sans" font-size="19.5" text-anchor="start" font-weight="normal" font-style="normal" fill="#000" >(c)</text>
<text x="198.5" y="255.2" font-family="Liberation Sans" font-size="19.5" text-anchor="start" font-weight="normal" font-style="normal" fill="#000" >(d)</text>
<text x="393.6" y="255.2" font-family="Liberation Sans" font-size="19.5" text-anchor="start" font-weight="normal" font-style="normal" fill="#000" >(e)</text>
<text x="592.5999999999999" y="255.2" font-family="Liberation Sans" font-size="19.5" text-anchor="start" font-weight="normal" font-style="normal" fill="#000" >(f)</text>
<text x="214" y="53.7" font-family="Liberation Sans" font-size="10" text-anchor="end" font-weight="normal" font-style="normal" fill="#3a3a3a" letter-spacing="0.3">2<tspan font-family="Liberation Serif" font-style="italic" font-size="10.2">&#960;</tspan></text>
<text x="214" y="92.7" font-family="Liberation Sans" font-size="10" text-anchor="end" font-weight="normal" font-style="normal" fill="#3a3a3a" letter-spacing="0.3">1.5<tspan font-family="Liberation Serif" font-style="italic" font-size="10.2">&#960;</tspan></text>
<text x="214" y="132.2" font-family="Liberation Sans" font-size="10" text-anchor="end" font-weight="normal" font-style="normal" fill="#3a3a3a" letter-spacing="0.3"><tspan font-family="Liberation Serif" font-style="italic" font-size="10.2">&#960;</tspan></text>
<text x="214" y="171.5" font-family="Liberation Sans" font-size="10" text-anchor="end" font-weight="normal" font-style="normal" fill="#3a3a3a" letter-spacing="0.3">0.5<tspan font-family="Liberation Serif" font-style="italic" font-size="10.2">&#960;</tspan></text>
<text x="214" y="210.3" font-family="Liberation Sans" font-size="10" text-anchor="end" font-weight="normal" font-style="normal" fill="#3a3a3a" letter-spacing="0.3">0</text>
<text x="217" y="220.1" font-family="Liberation Sans" font-size="10" text-anchor="middle" font-weight="normal" font-style="normal" fill="#3a3a3a" letter-spacing="0.3">0</text>
<text x="256.25" y="220.1" font-family="Liberation Sans" font-size="10" text-anchor="middle" font-weight="normal" font-style="normal" fill="#3a3a3a" letter-spacing="0.3">0.5<tspan font-family="Liberation Serif" font-style="italic" font-size="10.2">&#960;</tspan></text>
<text x="295.5" y="220.1" font-family="Liberation Sans" font-size="10" text-anchor="middle" font-weight="normal" font-style="normal" fill="#3a3a3a" letter-spacing="0.3"><tspan font-family="Liberation Serif" font-style="italic" font-size="10.2">&#960;</tspan></text>
<text x="334.75" y="220.1" font-family="Liberation Sans" font-size="10" text-anchor="middle" font-weight="normal" font-style="normal" fill="#3a3a3a" letter-spacing="0.3">1.5<tspan font-family="Liberation Serif" font-style="italic" font-size="10.2">&#960;</tspan></text>
<text x="374" y="220.1" font-family="Liberation Sans" font-size="10" text-anchor="middle" font-weight="normal" font-style="normal" fill="#3a3a3a" letter-spacing="0.3">2<tspan font-family="Liberation Serif" font-style="italic" font-size="10.2">&#960;</tspan></text>
<text x="430" y="72.95" font-family="Liberation Sans" font-size="10" text-anchor="end" font-weight="normal" font-style="normal" fill="#3a3a3a" letter-spacing="0.3">1.5<tspan font-family="Liberation Serif" font-style="italic" font-size="10.2">&#960;</tspan></text>
<text x="430" y="112.45" font-family="Liberation Sans" font-size="10" text-anchor="end" font-weight="normal" font-style="normal" fill="#3a3a3a" letter-spacing="0.3"><tspan font-family="Liberation Serif" font-style="italic" font-size="10.2">&#960;</tspan></text>
<text x="430" y="151.79999999999998" font-family="Liberation Sans" font-size="10" text-anchor="end" font-weight="normal" font-style="normal" fill="#3a3a3a" letter-spacing="0.3">0.5<tspan font-family="Liberation Serif" font-style="italic" font-size="10.2">&#960;</tspan></text>
<text x="430" y="191.1" font-family="Liberation Sans" font-size="10" text-anchor="end" font-weight="normal" font-style="normal" fill="#3a3a3a" letter-spacing="0.3">0</text>
<text x="452.6" y="220.1" font-family="Liberation Sans" font-size="10" text-anchor="middle" font-weight="normal" font-style="normal" fill="#3a3a3a" letter-spacing="0.3">0</text>
<text x="492" y="220.1" font-family="Liberation Sans" font-size="10" text-anchor="middle" font-weight="normal" font-style="normal" fill="#3a3a3a" letter-spacing="0.3">0.5<tspan font-family="Liberation Serif" font-style="italic" font-size="10.2">&#960;</tspan></text>
<text x="531.1" y="220.1" font-family="Liberation Sans" font-size="10" text-anchor="middle" font-weight="normal" font-style="normal" fill="#3a3a3a" letter-spacing="0.3"><tspan font-family="Liberation Serif" font-style="italic" font-size="10.2">&#960;</tspan></text>
<text x="570.8" y="220.1" font-family="Liberation Sans" font-size="10" text-anchor="middle" font-weight="normal" font-style="normal" fill="#3a3a3a" letter-spacing="0.3">1.5<tspan font-family="Liberation Serif" font-style="italic" font-size="10.2">&#960;</tspan></text>
<text transform="translate(285.70000000000005,238) scale(1.3,0.78)" font-family="Liberation Sans" font-size="9.4" font-style="italic" text-anchor="middle" fill="#3a3a3a">&#981;</text>
<text x="289.8" y="232.9" font-family="Liberation Sans" font-size="8.8" text-anchor="start" font-weight="normal" font-style="normal" fill="#3a3a3a" >c</text>
<text x="289.6" y="243.8" font-family="Liberation Sans" font-size="9.5" text-anchor="start" font-weight="normal" font-style="normal" fill="#3a3a3a" >CEP</text>
<text transform="translate(501.20000000000005,238) scale(1.3,0.78)" font-family="Liberation Sans" font-size="9.4" font-style="italic" text-anchor="middle" fill="#3a3a3a">&#981;</text>
<text x="505.3" y="232.9" font-family="Liberation Sans" font-size="8.8" text-anchor="start" font-weight="normal" font-style="normal" fill="#3a3a3a" >c</text>
<text x="505.1" y="243.8" font-family="Liberation Sans" font-size="9.5" text-anchor="start" font-weight="normal" font-style="normal" fill="#3a3a3a" >CEP</text>
<g transform="translate(184.5,141.2) rotate(-90)">
<text transform="translate(2.6,-1) scale(1.3,0.78)" font-family="Liberation Sans" font-size="9.4" font-style="italic" text-anchor="middle" fill="#3a3a3a">&#981;</text>
<text x="6.7" y="-6.1" font-family="Liberation Sans" font-size="8.8" text-anchor="start" font-weight="normal" font-style="normal" fill="#3a3a3a" >i</text>
<text x="6.5" y="4.8" font-family="Liberation Sans" font-size="9.5" text-anchor="start" font-weight="normal" font-style="normal" fill="#3a3a3a" >CEP</text>
</g>
<g transform="translate(400.8,140) rotate(-90)">
<text transform="translate(2.6,-1) scale(1.3,0.78)" font-family="Liberation Sans" font-size="9.4" font-style="italic" text-anchor="middle" fill="#3a3a3a">&#981;</text>
<text x="6.7" y="-6.1" font-family="Liberation Sans" font-size="8.8" text-anchor="start" font-weight="normal" font-style="normal" fill="#3a3a3a" >i</text>
<text x="6.5" y="4.8" font-family="Liberation Sans" font-size="9.5" text-anchor="start" font-weight="normal" font-style="normal" fill="#3a3a3a" >CEP</text>
</g>
<path d="M213.4,203.4L220.6,210.6M213.4,210.6L220.6,203.4" stroke="#9c9c9c" stroke-width="2.6"/>
<path d="M213.4,163.9L220.6,171.1M213.4,171.1L220.6,163.9" stroke="#9c9c9c" stroke-width="2.6"/>
<path d="M213.4,124.4L220.6,131.6M213.4,131.6L220.6,124.4" stroke="#9c9c9c" stroke-width="2.6"/>
<path d="M213.4,84.9L220.6,92.1M213.4,92.1L220.6,84.9" stroke="#9c9c9c" stroke-width="2.6"/>
<path d="M252.65,203.4L259.85,210.6M252.65,210.6L259.85,203.4" stroke="#9c9c9c" stroke-width="2.6"/>
<path d="M252.65,163.9L259.85,171.1M252.65,171.1L259.85,163.9" stroke="#9c9c9c" stroke-width="2.6"/>
<path d="M252.65,124.4L259.85,131.6M252.65,131.6L259.85,124.4" stroke="#9c9c9c" stroke-width="2.6"/>
<path d="M252.65,84.9L259.85,92.1M252.65,92.1L259.85,84.9" stroke="#9c9c9c" stroke-width="2.6"/>
<path d="M291.9,203.4L299.1,210.6M291.9,210.6L299.1,203.4" stroke="#9c9c9c" stroke-width="2.6"/>
<path d="M291.9,163.9L299.1,171.1M291.9,171.1L299.1,163.9" stroke="#9c9c9c" stroke-width="2.6"/>
<path d="M291.9,124.4L299.1,131.6M291.9,131.6L299.1,124.4" stroke="#9c9c9c" stroke-width="2.6"/>
<path d="M291.9,84.9L299.1,92.1M291.9,92.1L299.1,84.9" stroke="#9c9c9c" stroke-width="2.6"/>
<path d="M331.15,203.4L338.35,210.6M331.15,210.6L338.35,203.4" stroke="#9c9c9c" stroke-width="2.6"/>
<path d="M331.15,163.9L338.35,171.1M331.15,171.1L338.35,163.9" stroke="#9c9c9c" stroke-width="2.6"/>
<path d="M331.15,124.4L338.35,131.6M331.15,131.6L338.35,124.4" stroke="#9c9c9c" stroke-width="2.6"/>
<path d="M331.15,84.9L338.35,92.1M331.15,92.1L338.35,84.9" stroke="#9c9c9c" stroke-width="2.6"/>
<circle cx="441.7" cy="79.6" r="7.2" fill="#e2efda"/>
<circle cx="482" cy="79.6" r="7.2" fill="#e2efda"/>
<circle cx="501.8" cy="58.4" r="7.2" fill="#a9d18e"/>
<circle cx="541.3" cy="58.4" r="7.2" fill="#a9d18e"/>
<circle cx="482" cy="97.7" r="7.2" fill="#548235"/>
<circle cx="501.8" cy="97.7" r="7.2" fill="#a9d18e"/>
<circle cx="520.3" cy="97.7" r="7.2" fill="#548235"/>
<circle cx="541.3" cy="97.7" r="7.2" fill="#a9d18e"/>
<circle cx="441.7" cy="119.3" r="7.2" fill="#e2efda"/>
<circle cx="462.3" cy="119.3" r="7.2" fill="#385723"/>
<circle cx="482" cy="119.3" r="7.2" fill="#e2efda"/>
<circle cx="501.8" cy="119.3" r="7.2" fill="#385723"/>
<circle cx="482" cy="177" r="7.2" fill="#548235"/>
<circle cx="520.3" cy="177" r="7.2" fill="#548235"/>
<circle cx="462.5" cy="197.8" r="7.2" fill="#385723"/>
<circle cx="501.8" cy="197.8" r="7.2" fill="#385723"/>
<rect x="217" y="48.6" width="157" height="0.9" fill="#a8a8a8"/>
<rect x="217" y="206.2" width="157" height="0.9" fill="#a8a8a8"/>
<rect x="433" y="48.6" width="157" height="0.9" fill="#a8a8a8"/>
<rect x="433" y="206.2" width="157" height="0.9" fill="#a8a8a8"/>
<path d="M295.5,49V207M217,167.5H374" stroke="#d0d0d0" stroke-width="0.9" stroke-dasharray="3,2.5" fill="none" opacity="0.7"/>
<path d="M433,108.25h2.5M590,108.25h-2.5M452.6,49v2.5M452.6,207v-2.5M570.4,49v2.5M570.4,207v-2.5M295.5,49.5v1.8M374,167.5h-2.5" stroke="#333" stroke-width="1" fill="none"/>
<defs><linearGradient id="cb" x1="0" y1="0" x2="0" y2="1">
<stop offset="0" stop-color="#ff0000"/><stop offset="0.2" stop-color="#ff0000"/><stop offset="0.45" stop-color="#ffd0d0"/><stop offset="0.5" stop-color="#ffffff"/>
<stop offset="0.53" stop-color="#ffffff"/><stop offset="1" stop-color="#3c24a8"/></linearGradient></defs>
<rect x="616" y="49" width="7" height="158" fill="url(#cb)"/>
<rect x="623" y="49" width="6" height="70" fill="#ffffff"/>
<rect x="623" y="119" width="6" height="9" fill="#e0e0e0"/>
<rect x="623" y="128" width="6" height="79" fill="#000"/>
<rect x="616" y="48.6" width="13" height="0.9" fill="#a8a8a8"/>
<text x="625.5" y="87" font-family="Liberation Sans" font-size="8.8" text-anchor="middle" font-weight="bold" font-style="normal" fill="#000" >1</text>
<text x="625.9" y="169.8" font-family="Liberation Sans" font-size="8.2" text-anchor="middle" font-weight="normal" font-style="normal" fill="#fff" >0</text>
<text x="613.5" y="54" font-family="Liberation Sans" font-size="10" text-anchor="end" font-weight="normal" font-style="normal" fill="#3a3a3a" >0.8</text>
<text x="613.5" y="132" font-family="Liberation Sans" font-size="10" text-anchor="end" font-weight="normal" font-style="normal" fill="#3a3a3a" >0</text>
<text x="613.5" y="209.5" font-family="Liberation Sans" font-size="10" text-anchor="end" font-weight="normal" font-style="normal" fill="#3a3a3a" >&#8722;0.8</text>
<g transform="translate(644.3,162.5) rotate(-90)">
<text x="0" y="0" font-family="Liberation Sans" font-size="11.6" text-anchor="start" font-weight="bold" font-style="normal" fill="#000" >Logic level Y</text>
</g>
<rect x="31" y="264" width="158" height="26" fill="#385723"/>
<text x="110" y="281.3" font-family="Liberation Sans" font-size="12.6" text-anchor="middle" font-weight="normal" font-style="normal" fill="#fff" textLength="16.2" lengthAdjust="spacingAndGlyphs">OR</text>
<text transform="translate(39.2,309.8) scale(1.22,1)" font-family="Liberation Serif" font-size="13" text-anchor="middle" font-weight="bold" font-style="italic">&#981;</text>
<text x="45" y="302" font-family="Liberation Serif" font-size="8.5" text-anchor="start" font-weight="bold" font-style="italic" fill="#000" >c</text>
<text x="44.8" y="311.6" font-family="Liberation Serif" font-size="9.2" text-anchor="start" font-weight="bold" font-style="normal" fill="#000" >CEP</text>
<text transform="translate(77.4,309.8) scale(1.22,1)" font-family="Liberation Serif" font-size="13" text-anchor="middle" font-weight="bold" font-style="italic">&#981;</text>
<text x="83.2" y="302" font-family="Liberation Serif" font-size="8.5" text-anchor="start" font-weight="bold" font-style="italic" fill="#000" >i</text>
<text x="83.0" y="311.6" font-family="Liberation Serif" font-size="9.2" text-anchor="start" font-weight="bold" font-style="normal" fill="#000" >CEP</text>
<text x="117" y="308" font-family="Liberation Sans" font-size="12.3" text-anchor="middle" font-weight="bold" font-style="normal" fill="#000" >c</text>
<text x="137.5" y="308" font-family="Liberation Sans" font-size="12.3" text-anchor="middle" font-weight="bold" font-style="normal" fill="#000" >i</text>
<text x="168.5" y="308" font-family="Liberation Sans" font-size="12.3" text-anchor="middle" font-weight="bold" font-style="normal" fill="#000" >Y</text>
<rect x="30" y="317" width="160" height="1" fill="#000"/>
<rect x="30" y="342" width="160" height="2" fill="#000"/>
<rect x="30" y="368" width="160" height="1" fill="#000"/>
<rect x="30" y="394" width="160" height="1" fill="#000"/>
<text x="48.5" y="335" font-family="Liberation Serif" font-size="14" text-anchor="middle" font-weight="normal" font-style="normal" fill="#000" >0</text>
<text x="86.5" y="335" font-family="Liberation Serif" font-size="14" text-anchor="middle" font-weight="normal" font-style="normal" fill="#000" >0</text>
<text x="117" y="335" font-family="Liberation Sans" font-size="12.6" text-anchor="middle" font-weight="normal" font-style="normal" fill="#000" >1</text>
<text x="137.5" y="335" font-family="Liberation Sans" font-size="12.6" text-anchor="middle" font-weight="normal" font-style="normal" fill="#000" >1</text>
<text x="168.5" y="335" font-family="Liberation Sans" font-size="12.6" text-anchor="middle" font-weight="bold" font-style="normal" fill="#000" >1</text>
<text x="48.5" y="361" font-family="Liberation Serif" font-size="14" text-anchor="middle" font-weight="normal" font-style="normal" fill="#000" >0</text>
<text x="86.5" y="361" font-family="Liberation Serif" font-size="14" text-anchor="middle" font-weight="normal" font-style="normal" fill="#000" ><tspan font-style="italic">&#960;</tspan></text>
<text x="117" y="361" font-family="Liberation Sans" font-size="12.6" text-anchor="middle" font-weight="normal" font-style="normal" fill="#000" >1</text>
<text x="137.5" y="361" font-family="Liberation Sans" font-size="12.6" text-anchor="middle" font-weight="normal" font-style="normal" fill="#000" >0</text>
<text x="168.5" y="361" font-family="Liberation Sans" font-size="12.6" text-anchor="middle" font-weight="bold" font-style="normal" fill="#000" >1</text>
<text x="48.5" y="387" font-family="Liberation Serif" font-size="14" text-anchor="middle" font-weight="normal" font-style="normal" fill="#000" ><tspan font-style="italic">&#960;</tspan><tspan dx="2.6" font-size="15">/</tspan><tspan dx="2.6">2</tspan></text>
<text x="86.5" y="387" font-family="Liberation Serif" font-size="14" text-anchor="middle" font-weight="normal" font-style="normal" fill="#000" >0</text>
<text x="117" y="387" font-family="Liberation Sans" font-size="12.6" text-anchor="middle" font-weight="normal" font-style="normal" fill="#000" >0</text>
<text x="137.5" y="387" font-family="Liberation Sans" font-size="12.6" text-anchor="middle" font-weight="normal" font-style="normal" fill="#000" >1</text>
<text x="168.5" y="387" font-family="Liberation Sans" font-size="12.6" text-anchor="middle" font-weight="bold" font-style="normal" fill="#000" >1</text>
<text x="48.5" y="412.5" font-family="Liberation Serif" font-size="14" text-anchor="middle" font-weight="normal" font-style="normal" fill="#000" ><tspan font-style="italic">&#960;</tspan><tspan dx="2.6" font-size="15">/</tspan><tspan dx="2.6">2</tspan></text>
<text x="86.5" y="412.5" font-family="Liberation Serif" font-size="14" text-anchor="middle" font-weight="normal" font-style="normal" fill="#000" ><tspan font-style="italic">&#960;</tspan></text>
<text x="117" y="412.5" font-family="Liberation Sans" font-size="12.6" text-anchor="middle" font-weight="normal" font-style="normal" fill="#000" >0</text>
<text x="137.5" y="412.5" font-family="Liberation Sans" font-size="12.6" text-anchor="middle" font-weight="normal" font-style="normal" fill="#000" >0</text>
<text x="168.5" y="412.5" font-family="Liberation Sans" font-size="12.6" text-anchor="middle" font-weight="normal" font-style="normal" fill="#000" >0</text>
<rect x="224" y="265" width="158" height="23" fill="#548235"/>
<text x="303" y="281.9" font-family="Liberation Sans" font-size="12.6" text-anchor="middle" font-weight="normal" font-style="normal" fill="#fff" textLength="25.4" lengthAdjust="spacingAndGlyphs">AND</text>
<text transform="translate(232.2,309.8) scale(1.22,1)" font-family="Liberation Serif" font-size="13" text-anchor="middle" font-weight="bold" font-style="italic">&#981;</text>
<text x="238" y="302" font-family="Liberation Serif" font-size="8.5" text-anchor="start" font-weight="bold" font-style="italic" fill="#000" >c</text>
<text x="237.8" y="311.6" font-family="Liberation Serif" font-size="9.2" text-anchor="start" font-weight="bold" font-style="normal" fill="#000" >CEP</text>
<text transform="translate(270.4,309.8) scale(1.22,1)" font-family="Liberation Serif" font-size="13" text-anchor="middle" font-weight="bold" font-style="italic">&#981;</text>
<text x="276.2" y="302" font-family="Liberation Serif" font-size="8.5" text-anchor="start" font-weight="bold" font-style="italic" fill="#000" >i</text>
<text x="276.0" y="311.6" font-family="Liberation Serif" font-size="9.2" text-anchor="start" font-weight="bold" font-style="normal" fill="#000" >CEP</text>
<text x="310" y="308" font-family="Liberation Sans" font-size="12.3" text-anchor="middle" font-weight="bold" font-style="normal" fill="#000" >c</text>
<text x="330.5" y="308" font-family="Liberation Sans" font-size="12.3" text-anchor="middle" font-weight="bold" font-style="normal" fill="#000" >i</text>
<text x="361.5" y="308" font-family="Liberation Sans" font-size="12.3" text-anchor="middle" font-weight="bold" font-style="normal" fill="#000" >Y</text>
<rect x="223" y="317" width="160" height="1" fill="#000"/>
<rect x="223" y="342" width="160" height="1" fill="#000"/>
<rect x="223" y="368" width="160" height="1" fill="#000"/>
<rect x="223" y="393" width="160" height="2" fill="#000"/>
<text x="241.5" y="335" font-family="Liberation Serif" font-size="14" text-anchor="middle" font-weight="normal" font-style="normal" fill="#000" ><tspan font-style="italic">&#960;</tspan><tspan dx="2.6" font-size="15">/</tspan><tspan dx="2.6">2</tspan></text>
<text x="279.5" y="335" font-family="Liberation Serif" font-size="14" text-anchor="middle" font-weight="normal" font-style="normal" fill="#000" >0</text>
<text x="310" y="335" font-family="Liberation Sans" font-size="12.6" text-anchor="middle" font-weight="normal" font-style="normal" fill="#000" >1</text>
<text x="330.5" y="335" font-family="Liberation Sans" font-size="12.6" text-anchor="middle" font-weight="normal" font-style="normal" fill="#000" >1</text>
<text x="361.5" y="335" font-family="Liberation Sans" font-size="12.6" text-anchor="middle" font-weight="normal" font-style="normal" fill="#000" >1</text>
<text x="241.5" y="361" font-family="Liberation Serif" font-size="14" text-anchor="middle" font-weight="normal" font-style="normal" fill="#000" ><tspan font-style="italic">&#960;</tspan><tspan dx="2.6" font-size="15">/</tspan><tspan dx="2.6">2</tspan></text>
<text x="279.5" y="361" font-family="Liberation Serif" font-size="14" text-anchor="middle" font-weight="normal" font-style="normal" fill="#000" ><tspan font-style="italic">&#960;</tspan></text>
<text x="310" y="361" font-family="Liberation Sans" font-size="12.6" text-anchor="middle" font-weight="normal" font-style="normal" fill="#000" >1</text>
<text x="330.5" y="361" font-family="Liberation Sans" font-size="12.6" text-anchor="middle" font-weight="normal" font-style="normal" fill="#000" >0</text>
<text x="361.5" y="361" font-family="Liberation Sans" font-size="12.6" text-anchor="middle" font-weight="normal" font-style="normal" fill="#000" >0</text>
<text x="241.5" y="387" font-family="Liberation Serif" font-size="14" text-anchor="middle" font-weight="normal" font-style="normal" fill="#000" ><tspan font-style="italic">&#960;</tspan></text>
<text x="279.5" y="387" font-family="Liberation Serif" font-size="14" text-anchor="middle" font-weight="normal" font-style="normal" fill="#000" >0</text>
<text x="310" y="387" font-family="Liberation Sans" font-size="12.6" text-anchor="middle" font-weight="normal" font-style="normal" fill="#000" >0</text>
<text x="330.5" y="387" font-family="Liberation Sans" font-size="12.6" text-anchor="middle" font-weight="normal" font-style="normal" fill="#000" >1</text>
<text x="361.5" y="387" font-family="Liberation Sans" font-size="12.6" text-anchor="middle" font-weight="normal" font-style="normal" fill="#000" >0</text>
<text x="241.5" y="412.5" font-family="Liberation Serif" font-size="14" text-anchor="middle" font-weight="normal" font-style="normal" fill="#000" ><tspan font-style="italic">&#960;</tspan></text>
<text x="279.5" y="412.5" font-family="Liberation Serif" font-size="14" text-anchor="middle" font-weight="normal" font-style="normal" fill="#000" ><tspan font-style="italic">&#960;</tspan></text>
<text x="310" y="412.5" font-family="Liberation Sans" font-size="12.6" text-anchor="middle" font-weight="normal" font-style="normal" fill="#000" >0</text>
<text x="330.5" y="412.5" font-family="Liberation Sans" font-size="12.6" text-anchor="middle" font-weight="normal" font-style="normal" fill="#000" >0</text>
<text x="361.5" y="412.5" font-family="Liberation Sans" font-size="12.6" text-anchor="middle" font-weight="normal" font-style="normal" fill="#000" >0</text>
<rect x="417" y="265" width="158" height="23" fill="#a9d18e"/>
<text x="496" y="281.9" font-family="Liberation Sans" font-size="12.6" text-anchor="middle" font-weight="normal" font-style="normal" fill="#000" textLength="25.1" lengthAdjust="spacingAndGlyphs">NOR</text>
<text transform="translate(425.2,309.8) scale(1.22,1)" font-family="Liberation Serif" font-size="13" text-anchor="middle" font-weight="bold" font-style="italic">&#981;</text>
<text x="431" y="302" font-family="Liberation Serif" font-size="8.5" text-anchor="start" font-weight="bold" font-style="italic" fill="#000" >c</text>
<text x="430.8" y="311.6" font-family="Liberation Serif" font-size="9.2" text-anchor="start" font-weight="bold" font-style="normal" fill="#000" >CEP</text>
<text transform="translate(463.4,309.8) scale(1.22,1)" font-family="Liberation Serif" font-size="13" text-anchor="middle" font-weight="bold" font-style="italic">&#981;</text>
<text x="469.2" y="302" font-family="Liberation Serif" font-size="8.5" text-anchor="start" font-weight="bold" font-style="italic" fill="#000" >i</text>
<text x="469.0" y="311.6" font-family="Liberation Serif" font-size="9.2" text-anchor="start" font-weight="bold" font-style="normal" fill="#000" >CEP</text>
<text x="503" y="308" font-family="Liberation Sans" font-size="12.3" text-anchor="middle" font-weight="bold" font-style="normal" fill="#000" >c</text>
<text x="523.5" y="308" font-family="Liberation Sans" font-size="12.3" text-anchor="middle" font-weight="bold" font-style="normal" fill="#000" >i</text>
<text x="554.5" y="308" font-family="Liberation Sans" font-size="12.3" text-anchor="middle" font-weight="bold" font-style="normal" fill="#000" >Y</text>
<rect x="416" y="316" width="160" height="2" fill="#000"/>
<rect x="416" y="342" width="160" height="1" fill="#000"/>
<rect x="416" y="368" width="160" height="1" fill="#000"/>
<rect x="416" y="394" width="160" height="1" fill="#000"/>
<text x="434.5" y="335" font-family="Liberation Serif" font-size="14" text-anchor="middle" font-weight="normal" font-style="normal" fill="#000" ><tspan font-style="italic">&#960;</tspan><tspan dx="2.6" font-size="15">/</tspan><tspan dx="2.6">2</tspan></text>
<text x="472.5" y="335" font-family="Liberation Serif" font-size="14" text-anchor="middle" font-weight="normal" font-style="normal" fill="#000" ><tspan font-style="italic">&#960;</tspan></text>
<text x="503" y="335" font-family="Liberation Sans" font-size="12.6" text-anchor="middle" font-weight="normal" font-style="normal" fill="#000" >0</text>
<text x="523.5" y="335" font-family="Liberation Sans" font-size="12.6" text-anchor="middle" font-weight="normal" font-style="normal" fill="#000" >1</text>
<text x="554.5" y="335" font-family="Liberation Sans" font-size="12.6" text-anchor="middle" font-weight="normal" font-style="normal" fill="#000" >0</text>
<text x="434.5" y="361" font-family="Liberation Serif" font-size="14" text-anchor="middle" font-weight="normal" font-style="normal" fill="#000" ><tspan font-style="italic">&#960;</tspan><tspan dx="2.6" font-size="15">/</tspan><tspan dx="2.6">2</tspan></text>
<text x="472.5" y="361" font-family="Liberation Serif" font-size="14" text-anchor="middle" font-weight="normal" font-style="normal" fill="#000" >3<tspan font-style="italic">&#960;</tspan><tspan dx="2.6" font-size="15">/</tspan><tspan dx="2.6">2</tspan></text>
<text x="503" y="361" font-family="Liberation Sans" font-size="12.6" text-anchor="middle" font-weight="normal" font-style="normal" fill="#000" >0</text>
<text x="523.5" y="361" font-family="Liberation Sans" font-size="12.6" text-anchor="middle" font-weight="normal" font-style="normal" fill="#000" >0</text>
<text x="554.5" y="361" font-family="Liberation Sans" font-size="12.6" text-anchor="middle" font-weight="normal" font-style="normal" fill="#000" >1</text>
<text x="434.5" y="387" font-family="Liberation Serif" font-size="14" text-anchor="middle" font-weight="normal" font-style="normal" fill="#000" ><tspan font-style="italic">&#960;</tspan></text>
<text x="472.5" y="387" font-family="Liberation Serif" font-size="14" text-anchor="middle" font-weight="normal" font-style="normal" fill="#000" ><tspan font-style="italic">&#960;</tspan></text>
<text x="503" y="387" font-family="Liberation Sans" font-size="12.6" text-anchor="middle" font-weight="bold" font-style="normal" fill="#000" >1</text>
<text x="523.5" y="387" font-family="Liberation Sans" font-size="12.6" text-anchor="middle" font-weight="normal" font-style="normal" fill="#000" >1</text>
<text x="554.5" y="387" font-family="Liberation Sans" font-size="12.6" text-anchor="middle" font-weight="normal" font-style="normal" fill="#000" >0</text>
<text x="434.5" y="412.5" font-family="Liberation Serif" font-size="14" text-anchor="middle" font-weight="normal" font-style="normal" fill="#000" ><tspan font-style="italic">&#960;</tspan></text>
<text x="472.5" y="412.5" font-family="Liberation Serif" font-size="14" text-anchor="middle" font-weight="normal" font-style="normal" fill="#000" >3<tspan font-style="italic">&#960;</tspan><tspan dx="2.6" font-size="15">/</tspan><tspan dx="2.6">2</tspan></text>
<text x="503" y="412.5" font-family="Liberation Sans" font-size="12.6" text-anchor="middle" font-weight="bold" font-style="normal" fill="#000" >1</text>
<text x="523.5" y="412.5" font-family="Liberation Sans" font-size="12.6" text-anchor="middle" font-weight="normal" font-style="normal" fill="#000" >0</text>
<text x="554.5" y="412.5" font-family="Liberation Sans" font-size="12.6" text-anchor="middle" font-weight="normal" font-style="normal" fill="#000" >0</text>
<rect x="611" y="264" width="158" height="23.4" fill="#e2efda"/>
<text x="690" y="280.9" font-family="Liberation Sans" font-size="12.6" text-anchor="middle" font-weight="normal" font-style="normal" fill="#000" textLength="34.1" lengthAdjust="spacingAndGlyphs">NAND</text>
<text transform="translate(619.2,309.8) scale(1.22,1)" font-family="Liberation Serif" font-size="13" text-anchor="middle" font-weight="bold" font-style="italic">&#981;</text>
<text x="625" y="302" font-family="Liberation Serif" font-size="8.5" text-anchor="start" font-weight="bold" font-style="italic" fill="#000" >c</text>
<text x="624.8" y="311.6" font-family="Liberation Serif" font-size="9.2" text-anchor="start" font-weight="bold" font-style="normal" fill="#000" >CEP</text>
<text transform="translate(657.4000000000001,309.8) scale(1.22,1)" font-family="Liberation Serif" font-size="13" text-anchor="middle" font-weight="bold" font-style="italic">&#981;</text>
<text x="663.2" y="302" font-family="Liberation Serif" font-size="8.5" text-anchor="start" font-weight="bold" font-style="italic" fill="#000" >i</text>
<text x="663.0" y="311.6" font-family="Liberation Serif" font-size="9.2" text-anchor="start" font-weight="bold" font-style="normal" fill="#000" >CEP</text>
<text x="697" y="308" font-family="Liberation Sans" font-size="12.3" text-anchor="middle" font-weight="bold" font-style="normal" fill="#000" >c</text>
<text x="717.5" y="308" font-family="Liberation Sans" font-size="12.3" text-anchor="middle" font-weight="bold" font-style="normal" fill="#000" >i</text>
<text x="748.5" y="308" font-family="Liberation Sans" font-size="12.3" text-anchor="middle" font-weight="bold" font-style="normal" fill="#000" >Y</text>
<rect x="610" y="317" width="160" height="1" fill="#000"/>
<rect x="610" y="342" width="160" height="1" fill="#000"/>
<rect x="610" y="368" width="160" height="1" fill="#000"/>
<rect x="610" y="393" width="160" height="2" fill="#000"/>
<text x="628.5" y="335" font-family="Liberation Serif" font-size="14" text-anchor="middle" font-weight="normal" font-style="normal" fill="#000" >0</text>
<text x="666.5" y="335" font-family="Liberation Serif" font-size="14" text-anchor="middle" font-weight="normal" font-style="normal" fill="#000" ><tspan font-style="italic">&#960;</tspan></text>
<text x="697" y="335" font-family="Liberation Sans" font-size="12.6" text-anchor="middle" font-weight="normal" font-style="normal" fill="#000" >0</text>
<text x="717.5" y="335" font-family="Liberation Sans" font-size="12.6" text-anchor="middle" font-weight="normal" font-style="normal" fill="#000" >1</text>
<text x="748.5" y="335" font-family="Liberation Sans" font-size="12.6" text-anchor="middle" font-weight="normal" font-style="normal" fill="#000" >1</text>
<text x="628.5" y="361" font-family="Liberation Serif" font-size="14" text-anchor="middle" font-weight="normal" font-style="normal" fill="#000" >0</text>
<text x="666.5" y="361" font-family="Liberation Serif" font-size="14" text-anchor="middle" font-weight="normal" font-style="normal" fill="#000" >3<tspan font-style="italic">&#960;</tspan><tspan dx="2.6" font-size="15">/</tspan><tspan dx="2.6">2</tspan></text>
<text x="697" y="361" font-family="Liberation Sans" font-size="12.6" text-anchor="middle" font-weight="normal" font-style="normal" fill="#000" >0</text>
<text x="717.5" y="361" font-family="Liberation Sans" font-size="12.6" text-anchor="middle" font-weight="normal" font-style="normal" fill="#000" >0</text>
<text x="748.5" y="361" font-family="Liberation Sans" font-size="12.6" text-anchor="middle" font-weight="normal" font-style="normal" fill="#000" >1</text>
<text x="628.5" y="387" font-family="Liberation Serif" font-size="14" text-anchor="middle" font-weight="normal" font-style="normal" fill="#000" ><tspan font-style="italic">&#960;</tspan><tspan dx="2.6" font-size="15">/</tspan><tspan dx="2.6">2</tspan></text>
<text x="666.5" y="387" font-family="Liberation Serif" font-size="14" text-anchor="middle" font-weight="normal" font-style="normal" fill="#000" ><tspan font-style="italic">&#960;</tspan></text>
<text x="697" y="387" font-family="Liberation Sans" font-size="12.6" text-anchor="middle" font-weight="normal" font-style="normal" fill="#000" >1</text>
<text x="717.5" y="387" font-family="Liberation Sans" font-size="12.6" text-anchor="middle" font-weight="normal" font-style="normal" fill="#000" >1</text>
<text x="748.5" y="387" font-family="Liberation Sans" font-size="12.6" text-anchor="middle" font-weight="normal" font-style="normal" fill="#000" >0</text>
<text x="628.5" y="412.5" font-family="Liberation Serif" font-size="14" text-anchor="middle" font-weight="normal" font-style="normal" fill="#000" ><tspan font-style="italic">&#960;</tspan><tspan dx="2.6" font-size="15">/</tspan><tspan dx="2.6">2</tspan></text>
<text x="666.5" y="412.5" font-family="Liberation Serif" font-size="14" text-anchor="middle" font-weight="normal" font-style="normal" fill="#000" >3<tspan font-style="italic">&#960;</tspan><tspan dx="2.6" font-size="15">/</tspan><tspan dx="2.6">2</tspan></text>
<text x="697" y="412.5" font-family="Liberation Sans" font-size="12.6" text-anchor="middle" font-weight="normal" font-style="normal" fill="#000" >1</text>
<text x="717.5" y="412.5" font-family="Liberation Sans" font-size="12.6" text-anchor="middle" font-weight="normal" font-style="normal" fill="#000" >0</text>
<text x="748.5" y="412.5" font-family="Liberation Sans" font-size="12.6" text-anchor="middle" font-weight="normal" font-style="normal" fill="#000" >1</text>
</svg>
</body></html>
